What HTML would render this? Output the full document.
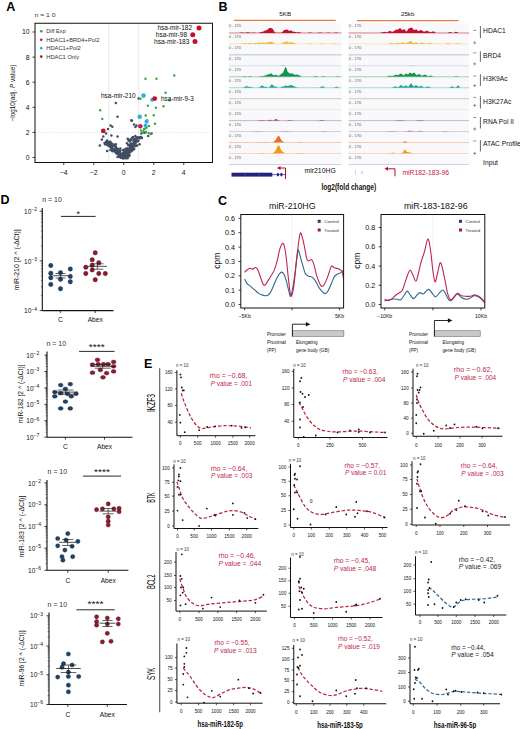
<!DOCTYPE html>
<html><head><meta charset="utf-8"><style>
html,body{margin:0;padding:0;background:#fff;}
body{width:520px;height:729px;overflow:hidden;}
svg{display:block;font-family:"Liberation Sans", sans-serif;}
</style></head><body>
<svg width="520" height="729" viewBox="0 0 520 729">
<rect width="520" height="729" fill="#fff"/>
<text x="6.30" y="10.60" font-size="12.5" text-anchor="start" fill="#000" font-weight="bold" >A</text>
<text x="34.60" y="17.23" font-size="6.2" text-anchor="start" fill="#333" textLength="21" lengthAdjust="spacingAndGlyphs" >n = 1 0</text>
<line x1="108.75" y1="23.25" x2="108.75" y2="162.50" stroke="#dcdcdc" stroke-width="0.6" />
<line x1="138.75" y1="23.25" x2="138.75" y2="162.50" stroke="#dcdcdc" stroke-width="0.6" />
<line x1="35.00" y1="132.40" x2="212.50" y2="132.40" stroke="#d8d8d8" stroke-width="0.6" stroke-dasharray="1.5,1.5"/>
<circle cx="115.79" cy="144.27" r="1.3" fill="#414e63" stroke="none" stroke-width="0"/>
<circle cx="118.19" cy="149.11" r="1.3" fill="#414e63" stroke="none" stroke-width="0"/>
<circle cx="112.09" cy="146.33" r="1.3" fill="#414e63" stroke="none" stroke-width="0"/>
<circle cx="116.21" cy="148.91" r="1.3" fill="#414e63" stroke="none" stroke-width="0"/>
<circle cx="112.61" cy="151.20" r="1.3" fill="#414e63" stroke="none" stroke-width="0"/>
<circle cx="99.86" cy="145.56" r="1.3" fill="#414e63" stroke="none" stroke-width="0"/>
<circle cx="123.55" cy="152.52" r="1.3" fill="#414e63" stroke="none" stroke-width="0"/>
<circle cx="119.91" cy="151.93" r="1.3" fill="#414e63" stroke="none" stroke-width="0"/>
<circle cx="107.96" cy="144.02" r="1.3" fill="#414e63" stroke="none" stroke-width="0"/>
<circle cx="106.89" cy="142.01" r="1.3" fill="#414e63" stroke="none" stroke-width="0"/>
<circle cx="123.57" cy="154.48" r="1.3" fill="#414e63" stroke="none" stroke-width="0"/>
<circle cx="109.54" cy="143.82" r="1.3" fill="#414e63" stroke="none" stroke-width="0"/>
<circle cx="109.72" cy="143.85" r="1.3" fill="#414e63" stroke="none" stroke-width="0"/>
<circle cx="119.51" cy="151.16" r="1.3" fill="#414e63" stroke="none" stroke-width="0"/>
<circle cx="118.55" cy="150.19" r="1.3" fill="#414e63" stroke="none" stroke-width="0"/>
<circle cx="111.10" cy="143.65" r="1.3" fill="#414e63" stroke="none" stroke-width="0"/>
<circle cx="115.89" cy="147.06" r="1.3" fill="#414e63" stroke="none" stroke-width="0"/>
<circle cx="116.30" cy="153.30" r="1.3" fill="#414e63" stroke="none" stroke-width="0"/>
<circle cx="117.94" cy="151.94" r="1.3" fill="#414e63" stroke="none" stroke-width="0"/>
<circle cx="115.57" cy="149.33" r="1.3" fill="#414e63" stroke="none" stroke-width="0"/>
<circle cx="106.80" cy="143.91" r="1.3" fill="#414e63" stroke="none" stroke-width="0"/>
<circle cx="106.10" cy="142.10" r="1.3" fill="#414e63" stroke="none" stroke-width="0"/>
<circle cx="123.69" cy="155.22" r="1.3" fill="#414e63" stroke="none" stroke-width="0"/>
<circle cx="114.43" cy="151.13" r="1.3" fill="#414e63" stroke="none" stroke-width="0"/>
<circle cx="110.29" cy="145.74" r="1.3" fill="#414e63" stroke="none" stroke-width="0"/>
<circle cx="107.14" cy="141.50" r="1.3" fill="#414e63" stroke="none" stroke-width="0"/>
<circle cx="112.39" cy="145.98" r="1.3" fill="#414e63" stroke="none" stroke-width="0"/>
<circle cx="113.59" cy="144.58" r="1.3" fill="#414e63" stroke="none" stroke-width="0"/>
<circle cx="116.61" cy="151.16" r="1.3" fill="#414e63" stroke="none" stroke-width="0"/>
<circle cx="121.38" cy="154.60" r="1.3" fill="#414e63" stroke="none" stroke-width="0"/>
<circle cx="104.59" cy="142.94" r="1.3" fill="#414e63" stroke="none" stroke-width="0"/>
<circle cx="107.99" cy="142.09" r="1.3" fill="#414e63" stroke="none" stroke-width="0"/>
<circle cx="111.23" cy="143.99" r="1.3" fill="#414e63" stroke="none" stroke-width="0"/>
<circle cx="107.57" cy="142.29" r="1.3" fill="#414e63" stroke="none" stroke-width="0"/>
<circle cx="123.97" cy="156.45" r="1.3" fill="#414e63" stroke="none" stroke-width="0"/>
<circle cx="117.40" cy="152.11" r="1.3" fill="#414e63" stroke="none" stroke-width="0"/>
<circle cx="119.49" cy="156.14" r="1.3" fill="#414e63" stroke="none" stroke-width="0"/>
<circle cx="112.65" cy="149.75" r="1.3" fill="#414e63" stroke="none" stroke-width="0"/>
<circle cx="111.10" cy="147.45" r="1.3" fill="#414e63" stroke="none" stroke-width="0"/>
<circle cx="107.01" cy="140.78" r="1.3" fill="#414e63" stroke="none" stroke-width="0"/>
<circle cx="118.06" cy="152.55" r="1.3" fill="#414e63" stroke="none" stroke-width="0"/>
<circle cx="123.09" cy="154.18" r="1.3" fill="#414e63" stroke="none" stroke-width="0"/>
<circle cx="116.98" cy="148.66" r="1.3" fill="#414e63" stroke="none" stroke-width="0"/>
<circle cx="115.50" cy="146.39" r="1.3" fill="#414e63" stroke="none" stroke-width="0"/>
<circle cx="107.19" cy="150.95" r="1.3" fill="#414e63" stroke="none" stroke-width="0"/>
<circle cx="109.50" cy="146.21" r="1.3" fill="#414e63" stroke="none" stroke-width="0"/>
<circle cx="110.17" cy="146.85" r="1.3" fill="#414e63" stroke="none" stroke-width="0"/>
<circle cx="117.31" cy="152.04" r="1.3" fill="#414e63" stroke="none" stroke-width="0"/>
<circle cx="107.63" cy="145.20" r="1.3" fill="#414e63" stroke="none" stroke-width="0"/>
<circle cx="111.92" cy="147.93" r="1.3" fill="#414e63" stroke="none" stroke-width="0"/>
<circle cx="123.22" cy="158.30" r="1.3" fill="#414e63" stroke="none" stroke-width="0"/>
<circle cx="105.16" cy="144.36" r="1.3" fill="#414e63" stroke="none" stroke-width="0"/>
<circle cx="119.11" cy="154.79" r="1.3" fill="#414e63" stroke="none" stroke-width="0"/>
<circle cx="113.64" cy="145.87" r="1.3" fill="#414e63" stroke="none" stroke-width="0"/>
<circle cx="101.89" cy="139.47" r="1.3" fill="#414e63" stroke="none" stroke-width="0"/>
<circle cx="124.11" cy="153.18" r="1.3" fill="#414e63" stroke="none" stroke-width="0"/>
<circle cx="120.77" cy="155.68" r="1.3" fill="#414e63" stroke="none" stroke-width="0"/>
<circle cx="117.11" cy="150.17" r="1.3" fill="#414e63" stroke="none" stroke-width="0"/>
<circle cx="108.87" cy="144.50" r="1.3" fill="#414e63" stroke="none" stroke-width="0"/>
<circle cx="114.65" cy="149.67" r="1.3" fill="#414e63" stroke="none" stroke-width="0"/>
<circle cx="116.96" cy="153.56" r="1.3" fill="#414e63" stroke="none" stroke-width="0"/>
<circle cx="111.66" cy="143.66" r="1.3" fill="#414e63" stroke="none" stroke-width="0"/>
<circle cx="123.73" cy="155.30" r="1.3" fill="#414e63" stroke="none" stroke-width="0"/>
<circle cx="110.48" cy="144.39" r="1.3" fill="#414e63" stroke="none" stroke-width="0"/>
<circle cx="110.15" cy="146.50" r="1.3" fill="#414e63" stroke="none" stroke-width="0"/>
<circle cx="115.73" cy="150.61" r="1.3" fill="#414e63" stroke="none" stroke-width="0"/>
<circle cx="114.16" cy="149.29" r="1.3" fill="#414e63" stroke="none" stroke-width="0"/>
<circle cx="117.97" cy="150.98" r="1.3" fill="#414e63" stroke="none" stroke-width="0"/>
<circle cx="118.74" cy="153.88" r="1.3" fill="#414e63" stroke="none" stroke-width="0"/>
<circle cx="107.07" cy="140.81" r="1.3" fill="#414e63" stroke="none" stroke-width="0"/>
<circle cx="115.74" cy="152.30" r="1.3" fill="#414e63" stroke="none" stroke-width="0"/>
<circle cx="112.90" cy="149.67" r="1.3" fill="#414e63" stroke="none" stroke-width="0"/>
<circle cx="119.50" cy="153.49" r="1.3" fill="#414e63" stroke="none" stroke-width="0"/>
<circle cx="112.16" cy="150.53" r="1.3" fill="#414e63" stroke="none" stroke-width="0"/>
<circle cx="110.73" cy="142.64" r="1.3" fill="#414e63" stroke="none" stroke-width="0"/>
<circle cx="114.10" cy="148.92" r="1.3" fill="#414e63" stroke="none" stroke-width="0"/>
<circle cx="107.99" cy="145.10" r="1.3" fill="#414e63" stroke="none" stroke-width="0"/>
<circle cx="110.18" cy="141.88" r="1.3" fill="#414e63" stroke="none" stroke-width="0"/>
<circle cx="117.98" cy="152.82" r="1.3" fill="#414e63" stroke="none" stroke-width="0"/>
<circle cx="120.59" cy="153.24" r="1.3" fill="#414e63" stroke="none" stroke-width="0"/>
<circle cx="110.47" cy="149.93" r="1.3" fill="#414e63" stroke="none" stroke-width="0"/>
<circle cx="118.50" cy="153.46" r="1.3" fill="#414e63" stroke="none" stroke-width="0"/>
<circle cx="120.70" cy="157.62" r="1.3" fill="#414e63" stroke="none" stroke-width="0"/>
<circle cx="120.35" cy="150.50" r="1.3" fill="#414e63" stroke="none" stroke-width="0"/>
<circle cx="120.31" cy="148.57" r="1.3" fill="#414e63" stroke="none" stroke-width="0"/>
<circle cx="132.15" cy="146.13" r="1.3" fill="#414e63" stroke="none" stroke-width="0"/>
<circle cx="138.57" cy="137.78" r="1.3" fill="#414e63" stroke="none" stroke-width="0"/>
<circle cx="135.06" cy="139.05" r="1.3" fill="#414e63" stroke="none" stroke-width="0"/>
<circle cx="130.33" cy="149.23" r="1.3" fill="#414e63" stroke="none" stroke-width="0"/>
<circle cx="130.29" cy="147.77" r="1.3" fill="#414e63" stroke="none" stroke-width="0"/>
<circle cx="131.45" cy="147.05" r="1.3" fill="#414e63" stroke="none" stroke-width="0"/>
<circle cx="131.87" cy="150.07" r="1.3" fill="#414e63" stroke="none" stroke-width="0"/>
<circle cx="124.55" cy="153.46" r="1.3" fill="#414e63" stroke="none" stroke-width="0"/>
<circle cx="130.14" cy="148.84" r="1.3" fill="#414e63" stroke="none" stroke-width="0"/>
<circle cx="141.09" cy="136.94" r="1.3" fill="#414e63" stroke="none" stroke-width="0"/>
<circle cx="128.13" cy="153.43" r="1.3" fill="#414e63" stroke="none" stroke-width="0"/>
<circle cx="137.88" cy="137.90" r="1.3" fill="#414e63" stroke="none" stroke-width="0"/>
<circle cx="130.43" cy="144.44" r="1.3" fill="#414e63" stroke="none" stroke-width="0"/>
<circle cx="126.76" cy="149.03" r="1.3" fill="#414e63" stroke="none" stroke-width="0"/>
<circle cx="132.57" cy="137.34" r="1.3" fill="#414e63" stroke="none" stroke-width="0"/>
<circle cx="137.06" cy="145.54" r="1.3" fill="#414e63" stroke="none" stroke-width="0"/>
<circle cx="134.81" cy="142.25" r="1.3" fill="#414e63" stroke="none" stroke-width="0"/>
<circle cx="133.47" cy="143.81" r="1.3" fill="#414e63" stroke="none" stroke-width="0"/>
<circle cx="132.71" cy="149.95" r="1.3" fill="#414e63" stroke="none" stroke-width="0"/>
<circle cx="131.61" cy="138.80" r="1.3" fill="#414e63" stroke="none" stroke-width="0"/>
<circle cx="132.90" cy="147.37" r="1.3" fill="#414e63" stroke="none" stroke-width="0"/>
<circle cx="136.90" cy="137.18" r="1.3" fill="#414e63" stroke="none" stroke-width="0"/>
<circle cx="131.50" cy="147.63" r="1.3" fill="#414e63" stroke="none" stroke-width="0"/>
<circle cx="126.44" cy="157.31" r="1.3" fill="#414e63" stroke="none" stroke-width="0"/>
<circle cx="125.17" cy="157.03" r="1.3" fill="#414e63" stroke="none" stroke-width="0"/>
<circle cx="127.41" cy="152.38" r="1.3" fill="#414e63" stroke="none" stroke-width="0"/>
<circle cx="124.72" cy="149.47" r="1.3" fill="#414e63" stroke="none" stroke-width="0"/>
<circle cx="122.99" cy="155.57" r="1.3" fill="#414e63" stroke="none" stroke-width="0"/>
<circle cx="135.29" cy="136.17" r="1.3" fill="#414e63" stroke="none" stroke-width="0"/>
<circle cx="138.37" cy="140.83" r="1.3" fill="#414e63" stroke="none" stroke-width="0"/>
<circle cx="136.74" cy="141.54" r="1.3" fill="#414e63" stroke="none" stroke-width="0"/>
<circle cx="128.81" cy="148.85" r="1.3" fill="#414e63" stroke="none" stroke-width="0"/>
<circle cx="131.45" cy="145.86" r="1.3" fill="#414e63" stroke="none" stroke-width="0"/>
<circle cx="137.79" cy="141.09" r="1.3" fill="#414e63" stroke="none" stroke-width="0"/>
<circle cx="124.74" cy="154.89" r="1.3" fill="#414e63" stroke="none" stroke-width="0"/>
<circle cx="139.94" cy="137.24" r="1.3" fill="#414e63" stroke="none" stroke-width="0"/>
<circle cx="126.16" cy="153.13" r="1.3" fill="#414e63" stroke="none" stroke-width="0"/>
<circle cx="127.63" cy="151.61" r="1.3" fill="#414e63" stroke="none" stroke-width="0"/>
<circle cx="134.41" cy="144.13" r="1.3" fill="#414e63" stroke="none" stroke-width="0"/>
<circle cx="127.92" cy="155.37" r="1.3" fill="#414e63" stroke="none" stroke-width="0"/>
<circle cx="127.63" cy="148.50" r="1.3" fill="#414e63" stroke="none" stroke-width="0"/>
<circle cx="130.12" cy="149.32" r="1.3" fill="#414e63" stroke="none" stroke-width="0"/>
<circle cx="121.33" cy="157.77" r="1.3" fill="#414e63" stroke="none" stroke-width="0"/>
<circle cx="130.28" cy="146.79" r="1.3" fill="#414e63" stroke="none" stroke-width="0"/>
<circle cx="135.30" cy="139.91" r="1.3" fill="#414e63" stroke="none" stroke-width="0"/>
<circle cx="130.96" cy="146.78" r="1.3" fill="#414e63" stroke="none" stroke-width="0"/>
<circle cx="129.98" cy="139.85" r="1.3" fill="#414e63" stroke="none" stroke-width="0"/>
<circle cx="136.81" cy="141.24" r="1.3" fill="#414e63" stroke="none" stroke-width="0"/>
<circle cx="127.42" cy="158.30" r="1.3" fill="#414e63" stroke="none" stroke-width="0"/>
<circle cx="132.79" cy="145.73" r="1.3" fill="#414e63" stroke="none" stroke-width="0"/>
<circle cx="134.21" cy="149.08" r="1.3" fill="#414e63" stroke="none" stroke-width="0"/>
<circle cx="132.51" cy="148.94" r="1.3" fill="#414e63" stroke="none" stroke-width="0"/>
<circle cx="130.31" cy="146.11" r="1.3" fill="#414e63" stroke="none" stroke-width="0"/>
<circle cx="125.73" cy="151.20" r="1.3" fill="#414e63" stroke="none" stroke-width="0"/>
<circle cx="126.13" cy="150.07" r="1.3" fill="#414e63" stroke="none" stroke-width="0"/>
<circle cx="133.05" cy="137.52" r="1.3" fill="#414e63" stroke="none" stroke-width="0"/>
<circle cx="134.97" cy="140.80" r="1.3" fill="#414e63" stroke="none" stroke-width="0"/>
<circle cx="126.10" cy="151.72" r="1.3" fill="#414e63" stroke="none" stroke-width="0"/>
<circle cx="131.78" cy="144.75" r="1.3" fill="#414e63" stroke="none" stroke-width="0"/>
<circle cx="127.58" cy="152.22" r="1.3" fill="#414e63" stroke="none" stroke-width="0"/>
<circle cx="125.16" cy="158.30" r="1.3" fill="#414e63" stroke="none" stroke-width="0"/>
<circle cx="134.30" cy="139.61" r="1.3" fill="#414e63" stroke="none" stroke-width="0"/>
<circle cx="132.38" cy="144.44" r="1.3" fill="#414e63" stroke="none" stroke-width="0"/>
<circle cx="135.32" cy="143.15" r="1.3" fill="#414e63" stroke="none" stroke-width="0"/>
<circle cx="133.88" cy="141.43" r="1.3" fill="#414e63" stroke="none" stroke-width="0"/>
<circle cx="127.68" cy="150.35" r="1.3" fill="#414e63" stroke="none" stroke-width="0"/>
<circle cx="128.57" cy="140.59" r="1.3" fill="#414e63" stroke="none" stroke-width="0"/>
<circle cx="133.26" cy="143.90" r="1.3" fill="#414e63" stroke="none" stroke-width="0"/>
<circle cx="126.24" cy="157.90" r="1.3" fill="#414e63" stroke="none" stroke-width="0"/>
<circle cx="134.11" cy="141.30" r="1.3" fill="#414e63" stroke="none" stroke-width="0"/>
<circle cx="122.88" cy="158.30" r="1.3" fill="#414e63" stroke="none" stroke-width="0"/>
<circle cx="129.65" cy="149.01" r="1.3" fill="#414e63" stroke="none" stroke-width="0"/>
<circle cx="127.75" cy="138.76" r="1.3" fill="#414e63" stroke="none" stroke-width="0"/>
<circle cx="123.14" cy="150.01" r="1.3" fill="#414e63" stroke="none" stroke-width="0"/>
<circle cx="133.21" cy="144.67" r="1.3" fill="#414e63" stroke="none" stroke-width="0"/>
<circle cx="131.59" cy="147.27" r="1.3" fill="#414e63" stroke="none" stroke-width="0"/>
<circle cx="130.40" cy="147.08" r="1.3" fill="#414e63" stroke="none" stroke-width="0"/>
<circle cx="133.67" cy="143.28" r="1.3" fill="#414e63" stroke="none" stroke-width="0"/>
<circle cx="136.16" cy="145.74" r="1.3" fill="#414e63" stroke="none" stroke-width="0"/>
<circle cx="129.73" cy="152.43" r="1.3" fill="#414e63" stroke="none" stroke-width="0"/>
<circle cx="128.63" cy="151.95" r="1.3" fill="#414e63" stroke="none" stroke-width="0"/>
<circle cx="124.26" cy="157.10" r="1.3" fill="#414e63" stroke="none" stroke-width="0"/>
<circle cx="129.41" cy="154.95" r="1.3" fill="#414e63" stroke="none" stroke-width="0"/>
<circle cx="131.80" cy="144.07" r="1.3" fill="#414e63" stroke="none" stroke-width="0"/>
<circle cx="141.90" cy="138.07" r="1.3" fill="#414e63" stroke="none" stroke-width="0"/>
<circle cx="130.75" cy="143.54" r="1.3" fill="#414e63" stroke="none" stroke-width="0"/>
<circle cx="127.06" cy="143.22" r="1.3" fill="#414e63" stroke="none" stroke-width="0"/>
<circle cx="127.54" cy="156.75" r="1.3" fill="#414e63" stroke="none" stroke-width="0"/>
<circle cx="126.58" cy="149.38" r="1.3" fill="#414e63" stroke="none" stroke-width="0"/>
<circle cx="125.59" cy="154.96" r="1.3" fill="#414e63" stroke="none" stroke-width="0"/>
<circle cx="128.94" cy="145.20" r="1.3" fill="#414e63" stroke="none" stroke-width="0"/>
<circle cx="138.02" cy="138.06" r="1.3" fill="#414e63" stroke="none" stroke-width="0"/>
<circle cx="123.97" cy="152.19" r="1.3" fill="#414e63" stroke="none" stroke-width="0"/>
<circle cx="129.70" cy="140.77" r="1.3" fill="#414e63" stroke="none" stroke-width="0"/>
<circle cx="125.60" cy="150.94" r="1.3" fill="#414e63" stroke="none" stroke-width="0"/>
<circle cx="134.09" cy="140.37" r="1.3" fill="#414e63" stroke="none" stroke-width="0"/>
<circle cx="131.36" cy="140.05" r="1.3" fill="#414e63" stroke="none" stroke-width="0"/>
<circle cx="139.58" cy="144.30" r="1.3" fill="#414e63" stroke="none" stroke-width="0"/>
<circle cx="124.98" cy="154.39" r="1.3" fill="#414e63" stroke="none" stroke-width="0"/>
<circle cx="125.48" cy="155.02" r="1.3" fill="#414e63" stroke="none" stroke-width="0"/>
<circle cx="131.36" cy="151.14" r="1.3" fill="#414e63" stroke="none" stroke-width="0"/>
<circle cx="126.33" cy="148.51" r="1.3" fill="#414e63" stroke="none" stroke-width="0"/>
<circle cx="130.61" cy="150.97" r="1.3" fill="#414e63" stroke="none" stroke-width="0"/>
<circle cx="139.65" cy="138.34" r="1.3" fill="#414e63" stroke="none" stroke-width="0"/>
<circle cx="129.78" cy="141.34" r="1.3" fill="#414e63" stroke="none" stroke-width="0"/>
<circle cx="136.59" cy="138.95" r="1.3" fill="#414e63" stroke="none" stroke-width="0"/>
<circle cx="134.72" cy="146.31" r="1.3" fill="#414e63" stroke="none" stroke-width="0"/>
<circle cx="128.15" cy="145.10" r="1.3" fill="#414e63" stroke="none" stroke-width="0"/>
<circle cx="130.60" cy="150.21" r="1.3" fill="#414e63" stroke="none" stroke-width="0"/>
<circle cx="133.14" cy="144.81" r="1.3" fill="#414e63" stroke="none" stroke-width="0"/>
<circle cx="125.24" cy="155.20" r="1.3" fill="#414e63" stroke="none" stroke-width="0"/>
<circle cx="118.87" cy="156.63" r="1.3" fill="#414e63" stroke="none" stroke-width="0"/>
<circle cx="129.13" cy="156.12" r="1.3" fill="#414e63" stroke="none" stroke-width="0"/>
<circle cx="120.25" cy="157.00" r="1.3" fill="#414e63" stroke="none" stroke-width="0"/>
<circle cx="128.34" cy="156.10" r="1.3" fill="#414e63" stroke="none" stroke-width="0"/>
<circle cx="126.30" cy="156.35" r="1.3" fill="#414e63" stroke="none" stroke-width="0"/>
<circle cx="120.79" cy="154.88" r="1.3" fill="#414e63" stroke="none" stroke-width="0"/>
<circle cx="122.50" cy="156.71" r="1.3" fill="#414e63" stroke="none" stroke-width="0"/>
<circle cx="122.32" cy="156.76" r="1.3" fill="#414e63" stroke="none" stroke-width="0"/>
<circle cx="124.32" cy="156.90" r="1.3" fill="#414e63" stroke="none" stroke-width="0"/>
<circle cx="118.99" cy="156.04" r="1.3" fill="#414e63" stroke="none" stroke-width="0"/>
<circle cx="125.32" cy="154.92" r="1.3" fill="#414e63" stroke="none" stroke-width="0"/>
<circle cx="126.60" cy="155.62" r="1.3" fill="#414e63" stroke="none" stroke-width="0"/>
<circle cx="126.79" cy="154.10" r="1.3" fill="#414e63" stroke="none" stroke-width="0"/>
<circle cx="124.12" cy="153.37" r="1.3" fill="#414e63" stroke="none" stroke-width="0"/>
<circle cx="119.08" cy="154.50" r="1.3" fill="#414e63" stroke="none" stroke-width="0"/>
<circle cx="123.48" cy="157.41" r="1.3" fill="#414e63" stroke="none" stroke-width="0"/>
<circle cx="120.64" cy="155.38" r="1.3" fill="#414e63" stroke="none" stroke-width="0"/>
<circle cx="126.15" cy="156.34" r="1.3" fill="#414e63" stroke="none" stroke-width="0"/>
<circle cx="122.06" cy="155.16" r="1.3" fill="#414e63" stroke="none" stroke-width="0"/>
<circle cx="122.55" cy="154.14" r="1.3" fill="#414e63" stroke="none" stroke-width="0"/>
<circle cx="122.49" cy="155.79" r="1.3" fill="#414e63" stroke="none" stroke-width="0"/>
<circle cx="117.60" cy="156.90" r="1.3" fill="#414e63" stroke="none" stroke-width="0"/>
<circle cx="123.48" cy="156.48" r="1.3" fill="#414e63" stroke="none" stroke-width="0"/>
<circle cx="124.34" cy="154.86" r="1.3" fill="#414e63" stroke="none" stroke-width="0"/>
<circle cx="134.00" cy="124.60" r="1.25" fill="#414e63" stroke="none" stroke-width="0"/>
<circle cx="135.40" cy="127.00" r="1.25" fill="#414e63" stroke="none" stroke-width="0"/>
<circle cx="131.30" cy="120.30" r="1.25" fill="#414e63" stroke="none" stroke-width="0"/>
<circle cx="141.40" cy="133.40" r="1.25" fill="#414e63" stroke="none" stroke-width="0"/>
<circle cx="144.80" cy="132.70" r="1.25" fill="#414e63" stroke="none" stroke-width="0"/>
<circle cx="148.20" cy="136.00" r="1.25" fill="#414e63" stroke="none" stroke-width="0"/>
<circle cx="151.50" cy="133.40" r="1.25" fill="#414e63" stroke="none" stroke-width="0"/>
<circle cx="136.50" cy="125.50" r="1.25" fill="#414e63" stroke="none" stroke-width="0"/>
<circle cx="115.80" cy="102.90" r="1.25" fill="#414e63" stroke="none" stroke-width="0"/>
<circle cx="138.60" cy="98.60" r="1.25" fill="#414e63" stroke="none" stroke-width="0"/>
<circle cx="117.50" cy="116.70" r="1.25" fill="#414e63" stroke="none" stroke-width="0"/>
<circle cx="131.90" cy="120.70" r="1.25" fill="#414e63" stroke="none" stroke-width="0"/>
<circle cx="110.60" cy="125.40" r="1.25" fill="#414e63" stroke="none" stroke-width="0"/>
<circle cx="112.30" cy="126.80" r="1.25" fill="#414e63" stroke="none" stroke-width="0"/>
<circle cx="103.30" cy="136.60" r="1.25" fill="#414e63" stroke="none" stroke-width="0"/>
<circle cx="111.40" cy="135.40" r="1.25" fill="#414e63" stroke="none" stroke-width="0"/>
<circle cx="117.50" cy="136.60" r="1.25" fill="#414e63" stroke="none" stroke-width="0"/>
<circle cx="108.00" cy="129.00" r="1.25" fill="#414e63" stroke="none" stroke-width="0"/>
<circle cx="106.00" cy="133.50" r="1.25" fill="#414e63" stroke="none" stroke-width="0"/>
<circle cx="145.50" cy="78.70" r="1.2" fill="#38a83a" stroke="none" stroke-width="0"/>
<circle cx="156.40" cy="78.70" r="1.2" fill="#38a83a" stroke="none" stroke-width="0"/>
<circle cx="174.30" cy="75.50" r="1.2" fill="#38a83a" stroke="none" stroke-width="0"/>
<circle cx="165.60" cy="92.80" r="1.2" fill="#38a83a" stroke="none" stroke-width="0"/>
<circle cx="169.40" cy="100.30" r="1.2" fill="#38a83a" stroke="none" stroke-width="0"/>
<circle cx="147.80" cy="105.80" r="1.2" fill="#38a83a" stroke="none" stroke-width="0"/>
<circle cx="155.90" cy="107.70" r="1.2" fill="#38a83a" stroke="none" stroke-width="0"/>
<circle cx="163.50" cy="106.30" r="1.2" fill="#38a83a" stroke="none" stroke-width="0"/>
<circle cx="145.70" cy="115.50" r="1.2" fill="#38a83a" stroke="none" stroke-width="0"/>
<circle cx="153.80" cy="115.30" r="1.2" fill="#38a83a" stroke="none" stroke-width="0"/>
<circle cx="147.00" cy="120.20" r="1.2" fill="#38a83a" stroke="none" stroke-width="0"/>
<circle cx="155.00" cy="123.70" r="1.2" fill="#38a83a" stroke="none" stroke-width="0"/>
<circle cx="100.20" cy="110.30" r="1.2" fill="#38a83a" stroke="none" stroke-width="0"/>
<circle cx="102.30" cy="119.00" r="1.2" fill="#38a83a" stroke="none" stroke-width="0"/>
<circle cx="140.50" cy="98.80" r="1.2" fill="#38a83a" stroke="none" stroke-width="0"/>
<circle cx="141.00" cy="130.50" r="1.2" fill="#38a83a" stroke="none" stroke-width="0"/>
<circle cx="143.50" cy="131.30" r="1.2" fill="#38a83a" stroke="none" stroke-width="0"/>
<circle cx="146.00" cy="132.00" r="1.2" fill="#38a83a" stroke="none" stroke-width="0"/>
<circle cx="148.50" cy="133.00" r="1.2" fill="#38a83a" stroke="none" stroke-width="0"/>
<circle cx="150.50" cy="134.00" r="1.2" fill="#38a83a" stroke="none" stroke-width="0"/>
<circle cx="144.00" cy="129.00" r="1.2" fill="#38a83a" stroke="none" stroke-width="0"/>
<circle cx="146.50" cy="127.50" r="1.2" fill="#38a83a" stroke="none" stroke-width="0"/>
<circle cx="149.00" cy="126.00" r="1.2" fill="#38a83a" stroke="none" stroke-width="0"/>
<circle cx="143.00" cy="132.80" r="1.2" fill="#38a83a" stroke="none" stroke-width="0"/>
<circle cx="145.50" cy="128.50" r="1.2" fill="#38a83a" stroke="none" stroke-width="0"/>
<circle cx="143.50" cy="95.60" r="2.3" fill="#2bb3df" stroke="none" stroke-width="0"/>
<circle cx="152.10" cy="99.80" r="2.0" fill="#2bb3df" stroke="none" stroke-width="0"/>
<circle cx="139.70" cy="116.70" r="2.3" fill="#2bb3df" stroke="none" stroke-width="0"/>
<circle cx="146.60" cy="121.60" r="2.1" fill="#2bb3df" stroke="none" stroke-width="0"/>
<circle cx="145.50" cy="125.40" r="2.0" fill="#2bb3df" stroke="none" stroke-width="0"/>
<circle cx="154.70" cy="98.60" r="2.4" fill="#c0102a" stroke="none" stroke-width="0"/>
<circle cx="103.30" cy="130.90" r="2.4" fill="#c0102a" stroke="none" stroke-width="0"/>
<circle cx="140.30" cy="126.20" r="2.2" fill="#c2185b" stroke="none" stroke-width="0"/>
<circle cx="199.00" cy="28.00" r="2.5" fill="#c0102a" stroke="none" stroke-width="0"/>
<circle cx="192.75" cy="34.75" r="2.5" fill="#c0102a" stroke="none" stroke-width="0"/>
<circle cx="195.00" cy="41.50" r="2.5" fill="#c0102a" stroke="none" stroke-width="0"/>
<text x="157.50" y="29.95" font-size="6.8" text-anchor="start" fill="#111" textLength="34.5" lengthAdjust="spacingAndGlyphs" >hsa-mir-182</text>
<text x="155.75" y="37.20" font-size="6.8" text-anchor="start" fill="#111" textLength="31.3" lengthAdjust="spacingAndGlyphs" >hsa-mir-98</text>
<text x="154.00" y="44.20" font-size="6.8" text-anchor="start" fill="#111" textLength="35.5" lengthAdjust="spacingAndGlyphs" >hsa-mir-183</text>
<text x="101.00" y="98.20" font-size="6.8" text-anchor="start" fill="#111" textLength="34.7" lengthAdjust="spacingAndGlyphs" >hsa-mir-210</text>
<text x="161.00" y="101.20" font-size="6.8" text-anchor="start" fill="#111" textLength="32.7" lengthAdjust="spacingAndGlyphs" >hsa-mir-9-3</text>
<circle cx="41.25" cy="31.25" r="1.3" fill="#38a83a" stroke="none" stroke-width="0"/>
<text x="46.25" y="33.48" font-size="6.2" text-anchor="start" fill="#333" textLength="19.5" lengthAdjust="spacingAndGlyphs" >Diff Exp</text>
<circle cx="41.25" cy="39.70" r="1.3" fill="#c2185b" stroke="none" stroke-width="0"/>
<text x="46.25" y="41.93" font-size="6.2" text-anchor="start" fill="#333" textLength="53.2" lengthAdjust="spacingAndGlyphs" >HDAC1+BRD4+Pol2</text>
<circle cx="41.25" cy="48.15" r="1.3" fill="#2bb3df" stroke="none" stroke-width="0"/>
<text x="46.25" y="50.38" font-size="6.2" text-anchor="start" fill="#333" textLength="34.5" lengthAdjust="spacingAndGlyphs" >HDAC1+Pol2</text>
<circle cx="41.25" cy="56.60" r="1.3" fill="#b0102a" stroke="none" stroke-width="0"/>
<text x="46.25" y="58.83" font-size="6.2" text-anchor="start" fill="#333" textLength="33" lengthAdjust="spacingAndGlyphs" >HDAC1 Only</text>
<rect x="35.00" y="23.25" width="177.50" height="139.25" fill="none" stroke="#111" stroke-width="1"/>
<line x1="32.50" y1="157.50" x2="35.00" y2="157.50" stroke="#111" stroke-width="0.8" />
<text x="29.50" y="159.95" font-size="6.8" text-anchor="end" fill="#111" >0</text>
<line x1="32.50" y1="132.40" x2="35.00" y2="132.40" stroke="#111" stroke-width="0.8" />
<text x="29.50" y="134.85" font-size="6.8" text-anchor="end" fill="#111" >2</text>
<line x1="32.50" y1="107.30" x2="35.00" y2="107.30" stroke="#111" stroke-width="0.8" />
<text x="29.50" y="109.75" font-size="6.8" text-anchor="end" fill="#111" >4</text>
<line x1="32.50" y1="82.20" x2="35.00" y2="82.20" stroke="#111" stroke-width="0.8" />
<text x="29.50" y="84.65" font-size="6.8" text-anchor="end" fill="#111" >6</text>
<line x1="32.50" y1="57.10" x2="35.00" y2="57.10" stroke="#111" stroke-width="0.8" />
<text x="29.50" y="59.55" font-size="6.8" text-anchor="end" fill="#111" >8</text>
<line x1="32.50" y1="32.00" x2="35.00" y2="32.00" stroke="#111" stroke-width="0.8" />
<text x="29.50" y="34.45" font-size="6.8" text-anchor="end" fill="#111" >10</text>
<line x1="63.75" y1="162.50" x2="63.75" y2="165.00" stroke="#111" stroke-width="0.8" />
<text x="63.75" y="174.95" font-size="6.8" text-anchor="middle" fill="#111" >−4</text>
<line x1="93.75" y1="162.50" x2="93.75" y2="165.00" stroke="#111" stroke-width="0.8" />
<text x="93.75" y="174.95" font-size="6.8" text-anchor="middle" fill="#111" >−2</text>
<line x1="123.75" y1="162.50" x2="123.75" y2="165.00" stroke="#111" stroke-width="0.8" />
<text x="123.75" y="174.95" font-size="6.8" text-anchor="middle" fill="#111" >0</text>
<line x1="153.75" y1="162.50" x2="153.75" y2="165.00" stroke="#111" stroke-width="0.8" />
<text x="153.75" y="174.95" font-size="6.8" text-anchor="middle" fill="#111" >2</text>
<line x1="183.75" y1="162.50" x2="183.75" y2="165.00" stroke="#111" stroke-width="0.8" />
<text x="183.75" y="174.95" font-size="6.8" text-anchor="middle" fill="#111" >4</text>
<text x="12.50" y="95.59" font-size="7.2" text-anchor="middle" fill="#111" textLength="57" lengthAdjust="spacingAndGlyphs" transform="rotate(-90 12.50 93.00)" >−log10(adj. <tspan font-style="italic">P</tspan> value)</text>
<text x="218.60" y="10.80" font-size="12.5" text-anchor="start" fill="#000" font-weight="bold" >B</text>
<text x="285.20" y="15.98" font-size="6.2" text-anchor="middle" fill="#111" >5KB</text>
<text x="407.70" y="15.98" font-size="6.2" text-anchor="middle" fill="#111" >25kb</text>
<line x1="234.00" y1="20.40" x2="335.75" y2="20.40" stroke="#ec7a45" stroke-width="1.3" />
<line x1="357.00" y1="20.60" x2="458.50" y2="20.60" stroke="#ec7a45" stroke-width="1.3" />
<rect x="229.00" y="23.00" width="112.50" height="10.00" fill="#f9f9fc" stroke="none" stroke-width="0"/>
<rect x="348.50" y="23.00" width="120.50" height="10.00" fill="#f9f9fc" stroke="none" stroke-width="0"/>
<rect x="229.00" y="33.96" width="112.50" height="10.00" fill="#f9f9fc" stroke="none" stroke-width="0"/>
<rect x="348.50" y="33.96" width="120.50" height="10.00" fill="#f9f9fc" stroke="none" stroke-width="0"/>
<rect x="229.00" y="44.92" width="112.50" height="10.00" fill="#f9f9fc" stroke="none" stroke-width="0"/>
<rect x="348.50" y="44.92" width="120.50" height="10.00" fill="#f9f9fc" stroke="none" stroke-width="0"/>
<rect x="229.00" y="55.88" width="112.50" height="10.00" fill="#f9f9fc" stroke="none" stroke-width="0"/>
<rect x="348.50" y="55.88" width="120.50" height="10.00" fill="#f9f9fc" stroke="none" stroke-width="0"/>
<rect x="229.00" y="66.84" width="112.50" height="10.00" fill="#f9f9fc" stroke="none" stroke-width="0"/>
<rect x="348.50" y="66.84" width="120.50" height="10.00" fill="#f9f9fc" stroke="none" stroke-width="0"/>
<rect x="229.00" y="77.80" width="112.50" height="10.00" fill="#f9f9fc" stroke="none" stroke-width="0"/>
<rect x="348.50" y="77.80" width="120.50" height="10.00" fill="#f9f9fc" stroke="none" stroke-width="0"/>
<rect x="229.00" y="88.76" width="112.50" height="10.00" fill="#f9f9fc" stroke="none" stroke-width="0"/>
<rect x="348.50" y="88.76" width="120.50" height="10.00" fill="#f9f9fc" stroke="none" stroke-width="0"/>
<rect x="229.00" y="99.72" width="112.50" height="10.00" fill="#f9f9fc" stroke="none" stroke-width="0"/>
<rect x="348.50" y="99.72" width="120.50" height="10.00" fill="#f9f9fc" stroke="none" stroke-width="0"/>
<rect x="229.00" y="110.68" width="112.50" height="10.00" fill="#f9f9fc" stroke="none" stroke-width="0"/>
<rect x="348.50" y="110.68" width="120.50" height="10.00" fill="#f9f9fc" stroke="none" stroke-width="0"/>
<rect x="229.00" y="121.64" width="112.50" height="10.00" fill="#f9f9fc" stroke="none" stroke-width="0"/>
<rect x="348.50" y="121.64" width="120.50" height="10.00" fill="#f9f9fc" stroke="none" stroke-width="0"/>
<rect x="229.00" y="132.60" width="112.50" height="10.00" fill="#f9f9fc" stroke="none" stroke-width="0"/>
<rect x="348.50" y="132.60" width="120.50" height="10.00" fill="#f9f9fc" stroke="none" stroke-width="0"/>
<rect x="229.00" y="143.56" width="112.50" height="10.00" fill="#f9f9fc" stroke="none" stroke-width="0"/>
<rect x="348.50" y="143.56" width="120.50" height="10.00" fill="#f9f9fc" stroke="none" stroke-width="0"/>
<rect x="229.00" y="154.52" width="112.50" height="10.00" fill="#f9f9fc" stroke="none" stroke-width="0"/>
<rect x="348.50" y="154.52" width="120.50" height="10.00" fill="#f9f9fc" stroke="none" stroke-width="0"/>
<path d="M229.00,33.00 L229.00,33.00 L229.50,33.00 L230.00,33.00 L230.50,33.00 L231.00,33.00 L231.50,33.00 L232.00,33.00 L232.50,33.00 L233.00,33.00 L233.50,33.00 L234.00,33.00 L234.50,33.00 L235.00,33.00 L235.50,33.00 L236.00,33.00 L236.50,33.00 L237.00,33.00 L237.50,33.00 L238.00,32.99 L238.50,32.98 L239.00,32.95 L239.50,32.90 L240.00,32.85 L240.50,32.69 L241.00,32.58 L241.50,32.54 L242.00,32.57 L242.50,32.46 L243.00,32.55 L243.50,32.70 L244.00,32.79 L244.50,32.86 L245.00,32.86 L245.50,32.75 L246.00,32.59 L246.50,32.56 L247.00,32.19 L247.50,32.31 L248.00,32.32 L248.50,32.47 L249.00,32.34 L249.50,32.60 L250.00,32.74 L250.50,32.86 L251.00,32.89 L251.50,32.87 L252.00,32.80 L252.50,32.78 L253.00,32.64 L253.50,32.53 L254.00,32.60 L254.50,32.42 L255.00,32.64 L255.50,32.76 L256.00,32.78 L256.50,32.89 L257.00,32.93 L257.50,32.93 L258.00,32.90 L258.50,32.86 L259.00,32.65 L259.50,32.57 L260.00,32.35 L260.50,32.23 L261.00,31.97 L261.50,31.97 L262.00,31.95 L262.50,31.47 L263.00,31.73 L263.50,31.34 L264.00,31.44 L264.50,30.81 L265.00,30.59 L265.50,30.43 L266.00,30.24 L266.50,30.14 L267.00,29.81 L267.50,29.77 L268.00,29.19 L268.50,28.60 L269.00,28.55 L269.50,27.92 L270.00,27.78 L270.50,28.00 L271.00,28.10 L271.50,28.21 L272.00,28.44 L272.50,28.46 L273.00,29.33 L273.50,30.35 L274.00,31.27 L274.50,31.77 L275.00,32.27 L275.50,32.67 L276.00,32.75 L276.50,32.74 L277.00,32.69 L277.50,32.75 L278.00,32.68 L278.50,32.70 L279.00,32.71 L279.50,32.80 L280.00,32.82 L280.50,32.81 L281.00,32.67 L281.50,32.58 L282.00,32.15 L282.50,31.75 L283.00,31.21 L283.50,30.65 L284.00,29.90 L284.50,29.78 L285.00,29.97 L285.50,29.78 L286.00,29.66 L286.50,29.40 L287.00,29.36 L287.50,29.86 L288.00,29.98 L288.50,30.42 L289.00,30.86 L289.50,30.71 L290.00,30.72 L290.50,30.56 L291.00,30.55 L291.50,30.39 L292.00,31.09 L292.50,31.54 L293.00,31.49 L293.50,31.65 L294.00,31.81 L294.50,31.58 L295.00,31.96 L295.50,31.94 L296.00,32.08 L296.50,32.18 L297.00,32.39 L297.50,32.44 L298.00,32.31 L298.50,32.03 L299.00,31.98 L299.50,32.15 L300.00,32.38 L300.50,32.60 L301.00,32.64 L301.50,32.83 L302.00,32.92 L302.50,32.96 L303.00,32.99 L303.50,32.99 L304.00,33.00 L304.50,33.00 L305.00,33.00 L305.50,33.00 L306.00,32.99 L306.50,32.98 L307.00,32.95 L307.50,32.90 L308.00,32.80 L308.50,32.78 L309.00,32.67 L309.50,32.45 L310.00,32.43 L310.50,32.44 L311.00,32.59 L311.50,32.73 L312.00,32.81 L312.50,32.90 L313.00,32.95 L313.50,32.98 L314.00,32.99 L314.50,32.99 L315.00,32.99 L315.50,32.98 L316.00,32.96 L316.50,32.93 L317.00,32.88 L317.50,32.78 L318.00,32.76 L318.50,32.65 L319.00,32.62 L319.50,32.46 L320.00,32.62 L320.50,32.48 L321.00,32.48 L321.50,32.73 L322.00,32.72 L322.50,32.80 L323.00,32.88 L323.50,32.93 L324.00,32.95 L324.50,32.96 L325.00,32.95 L325.50,32.91 L326.00,32.85 L326.50,32.73 L327.00,32.68 L327.50,32.67 L328.00,32.62 L328.50,32.54 L329.00,32.63 L329.50,32.81 L330.00,32.85 L330.50,32.92 L331.00,32.96 L331.50,32.98 L332.00,32.98 L332.50,32.97 L333.00,32.95 L333.50,32.89 L334.00,32.85 L334.50,32.77 L335.00,32.70 L335.50,32.54 L336.00,32.59 L336.50,32.44 L337.00,32.58 L337.50,32.77 L338.00,32.81 L338.50,32.90 L339.00,32.95 L339.50,32.98 L340.00,32.99 L340.50,33.00 L341.00,33.00 L341.50,33.00 L341.50,33.00 Z" stroke="none" fill="#c0102c" stroke-width="1" fill-opacity="1.0"/>
<line x1="229.00" y1="33.00" x2="341.50" y2="33.00" stroke="#b8203a" stroke-width="0.6" />
<path d="M348.50,33.00 L348.50,33.00 L349.00,33.00 L349.50,33.00 L350.00,33.00 L350.50,33.00 L351.00,33.00 L351.50,33.00 L352.00,33.00 L352.50,33.00 L353.00,33.00 L353.50,33.00 L354.00,33.00 L354.50,33.00 L355.00,33.00 L355.50,33.00 L356.00,33.00 L356.50,33.00 L357.00,33.00 L357.50,33.00 L358.00,33.00 L358.50,33.00 L359.00,33.00 L359.50,33.00 L360.00,33.00 L360.50,33.00 L361.00,33.00 L361.50,33.00 L362.00,33.00 L362.50,33.00 L363.00,33.00 L363.50,33.00 L364.00,33.00 L364.50,33.00 L365.00,33.00 L365.50,33.00 L366.00,33.00 L366.50,33.00 L367.00,33.00 L367.50,33.00 L368.00,33.00 L368.50,33.00 L369.00,33.00 L369.50,33.00 L370.00,33.00 L370.50,33.00 L371.00,33.00 L371.50,33.00 L372.00,33.00 L372.50,33.00 L373.00,33.00 L373.50,33.00 L374.00,33.00 L374.50,33.00 L375.00,33.00 L375.50,33.00 L376.00,33.00 L376.50,33.00 L377.00,33.00 L377.50,32.99 L378.00,32.98 L378.50,32.96 L379.00,32.93 L379.50,32.89 L380.00,32.83 L380.50,32.72 L381.00,32.66 L381.50,32.55 L382.00,32.42 L382.50,32.21 L383.00,31.93 L383.50,31.92 L384.00,32.14 L384.50,31.83 L385.00,31.81 L385.50,31.95 L386.00,32.03 L386.50,32.38 L387.00,32.14 L387.50,32.20 L388.00,31.62 L388.50,31.64 L389.00,31.10 L389.50,31.14 L390.00,30.85 L390.50,31.11 L391.00,31.44 L391.50,31.51 L392.00,31.78 L392.50,31.60 L393.00,31.85 L393.50,31.52 L394.00,31.11 L394.50,30.43 L395.00,30.39 L395.50,29.79 L396.00,29.67 L396.50,29.55 L397.00,29.52 L397.50,29.87 L398.00,29.50 L398.50,29.18 L399.00,28.62 L399.50,28.43 L400.00,27.93 L400.50,28.15 L401.00,29.04 L401.50,29.66 L402.00,29.66 L402.50,30.08 L403.00,29.78 L403.50,29.45 L404.00,28.97 L404.50,29.26 L405.00,29.99 L405.50,30.58 L406.00,31.39 L406.50,31.23 L407.00,31.03 L407.50,30.32 L408.00,29.54 L408.50,28.75 L409.00,28.31 L409.50,28.17 L410.00,27.93 L410.50,27.97 L411.00,27.62 L411.50,27.47 L412.00,27.64 L412.50,28.22 L413.00,29.00 L413.50,29.60 L414.00,29.97 L414.50,29.94 L415.00,29.53 L415.50,29.67 L416.00,29.36 L416.50,29.56 L417.00,29.92 L417.50,30.38 L418.00,30.86 L418.50,31.11 L419.00,30.93 L419.50,30.68 L420.00,30.22 L420.50,30.02 L421.00,29.92 L421.50,30.25 L422.00,30.22 L422.50,30.89 L423.00,31.19 L423.50,31.40 L424.00,31.49 L424.50,31.44 L425.00,31.74 L425.50,31.28 L426.00,30.97 L426.50,30.70 L427.00,30.74 L427.50,30.63 L428.00,31.14 L428.50,31.39 L429.00,31.47 L429.50,31.91 L430.00,32.27 L430.50,32.45 L431.00,32.04 L431.50,31.88 L432.00,31.84 L432.50,31.54 L433.00,31.30 L433.50,31.38 L434.00,31.86 L434.50,31.87 L435.00,32.46 L435.50,32.70 L436.00,32.80 L436.50,32.92 L437.00,32.97 L437.50,32.99 L438.00,33.00 L438.50,33.00 L439.00,33.00 L439.50,33.00 L440.00,33.00 L440.50,33.00 L441.00,33.00 L441.50,33.00 L442.00,33.00 L442.50,33.00 L443.00,33.00 L443.50,33.00 L444.00,33.00 L444.50,33.00 L445.00,33.00 L445.50,33.00 L446.00,33.00 L446.50,33.00 L447.00,32.98 L447.50,32.93 L448.00,32.85 L448.50,32.57 L449.00,32.41 L449.50,31.99 L450.00,32.03 L450.50,32.09 L451.00,32.15 L451.50,32.61 L452.00,32.82 L452.50,32.93 L453.00,32.96 L453.50,32.91 L454.00,32.76 L454.50,32.56 L455.00,32.28 L455.50,31.85 L456.00,31.76 L456.50,31.95 L457.00,31.93 L457.50,32.62 L458.00,32.74 L458.50,32.92 L459.00,32.98 L459.50,32.99 L460.00,33.00 L460.50,33.00 L461.00,33.00 L461.50,33.00 L462.00,33.00 L462.50,33.00 L463.00,33.00 L463.50,33.00 L464.00,33.00 L464.50,33.00 L465.00,33.00 L465.50,33.00 L466.00,33.00 L466.50,33.00 L467.00,33.00 L467.50,33.00 L468.00,33.00 L468.50,33.00 L469.00,33.00 L469.00,33.00 Z" stroke="none" fill="#c0102c" stroke-width="1" fill-opacity="1.0"/>
<line x1="348.50" y1="33.00" x2="469.00" y2="33.00" stroke="#b8203a" stroke-width="0.6" />
<text x="228.70" y="27.21" font-size="4.2" text-anchor="start" fill="#555" textLength="12.3" lengthAdjust="spacingAndGlyphs" >0 - 170</text>
<text x="348.80" y="27.21" font-size="4.2" text-anchor="start" fill="#555" textLength="12.3" lengthAdjust="spacingAndGlyphs" >0 - 170</text>
<path d="M229.00,43.96 L229.00,43.96 L229.50,43.96 L230.00,43.96 L230.50,43.96 L231.00,43.96 L231.50,43.96 L232.00,43.96 L232.50,43.96 L233.00,43.96 L233.50,43.96 L234.00,43.96 L234.50,43.96 L235.00,43.96 L235.50,43.96 L236.00,43.96 L236.50,43.96 L237.00,43.96 L237.50,43.96 L238.00,43.96 L238.50,43.96 L239.00,43.96 L239.50,43.96 L240.00,43.96 L240.50,43.95 L241.00,43.94 L241.50,43.92 L242.00,43.87 L242.50,43.73 L243.00,43.60 L243.50,43.57 L244.00,43.26 L244.50,43.31 L245.00,43.01 L245.50,43.02 L246.00,43.33 L246.50,43.54 L247.00,43.51 L247.50,43.64 L248.00,43.54 L248.50,43.36 L249.00,43.01 L249.50,43.08 L250.00,43.14 L250.50,42.88 L251.00,43.04 L251.50,43.34 L252.00,43.61 L252.50,43.64 L253.00,43.58 L253.50,43.44 L254.00,43.40 L254.50,43.08 L255.00,42.99 L255.50,42.96 L256.00,43.03 L256.50,43.38 L257.00,43.08 L257.50,43.15 L258.00,42.50 L258.50,42.38 L259.00,42.29 L259.50,42.64 L260.00,42.86 L260.50,42.65 L261.00,42.84 L261.50,42.79 L262.00,42.72 L262.50,42.41 L263.00,42.58 L263.50,42.67 L264.00,42.76 L264.50,42.91 L265.00,42.75 L265.50,42.50 L266.00,42.69 L266.50,42.47 L267.00,42.13 L267.50,42.03 L268.00,42.33 L268.50,42.30 L269.00,42.30 L269.50,42.12 L270.00,41.69 L270.50,41.52 L271.00,41.58 L271.50,41.97 L272.00,42.13 L272.50,41.86 L273.00,42.28 L273.50,42.70 L274.00,43.00 L274.50,43.42 L275.00,43.74 L275.50,43.88 L276.00,43.94 L276.50,43.95 L277.00,43.96 L277.50,43.96 L278.00,43.96 L278.50,43.96 L279.00,43.96 L279.50,43.95 L280.00,43.93 L280.50,43.89 L281.00,43.83 L281.50,43.57 L282.00,43.45 L282.50,43.25 L283.00,42.75 L283.50,42.35 L284.00,42.09 L284.50,42.20 L285.00,41.87 L285.50,41.91 L286.00,41.98 L286.50,41.56 L287.00,41.61 L287.50,41.73 L288.00,42.11 L288.50,42.62 L289.00,42.49 L289.50,42.42 L290.00,42.47 L290.50,42.12 L291.00,42.00 L291.50,42.33 L292.00,42.19 L292.50,42.37 L293.00,42.60 L293.50,43.12 L294.00,43.06 L294.50,43.09 L295.00,43.27 L295.50,43.43 L296.00,43.64 L296.50,43.82 L297.00,43.88 L297.50,43.92 L298.00,43.95 L298.50,43.95 L299.00,43.96 L299.50,43.96 L300.00,43.96 L300.50,43.96 L301.00,43.96 L301.50,43.96 L302.00,43.96 L302.50,43.96 L303.00,43.96 L303.50,43.96 L304.00,43.96 L304.50,43.96 L305.00,43.96 L305.50,43.96 L306.00,43.95 L306.50,43.94 L307.00,43.92 L307.50,43.88 L308.00,43.81 L308.50,43.68 L309.00,43.64 L309.50,43.51 L310.00,43.62 L310.50,43.49 L311.00,43.64 L311.50,43.70 L312.00,43.81 L312.50,43.88 L313.00,43.92 L313.50,43.94 L314.00,43.95 L314.50,43.96 L315.00,43.96 L315.50,43.96 L316.00,43.96 L316.50,43.96 L317.00,43.96 L317.50,43.96 L318.00,43.95 L318.50,43.94 L319.00,43.92 L319.50,43.88 L320.00,43.81 L320.50,43.70 L321.00,43.59 L321.50,43.61 L322.00,43.64 L322.50,43.60 L323.00,43.70 L323.50,43.73 L324.00,43.81 L324.50,43.88 L325.00,43.92 L325.50,43.94 L326.00,43.95 L326.50,43.96 L327.00,43.96 L327.50,43.96 L328.00,43.96 L328.50,43.96 L329.00,43.96 L329.50,43.96 L330.00,43.95 L330.50,43.94 L331.00,43.92 L331.50,43.88 L332.00,43.81 L332.50,43.70 L333.00,43.67 L333.50,43.65 L334.00,43.65 L334.50,43.60 L335.00,43.64 L335.50,43.79 L336.00,43.81 L336.50,43.88 L337.00,43.92 L337.50,43.94 L338.00,43.95 L338.50,43.96 L339.00,43.96 L339.50,43.96 L340.00,43.96 L340.50,43.96 L341.00,43.96 L341.50,43.96 L341.50,43.96 Z" stroke="none" fill="#ebbd35" stroke-width="1" fill-opacity="1.0"/>
<line x1="229.00" y1="43.96" x2="341.50" y2="43.96" stroke="#ecd080" stroke-width="0.6" />
<path d="M348.50,43.96 L348.50,43.96 L349.00,43.96 L349.50,43.96 L350.00,43.96 L350.50,43.96 L351.00,43.96 L351.50,43.96 L352.00,43.96 L352.50,43.96 L353.00,43.96 L353.50,43.96 L354.00,43.96 L354.50,43.96 L355.00,43.96 L355.50,43.96 L356.00,43.96 L356.50,43.96 L357.00,43.96 L357.50,43.96 L358.00,43.96 L358.50,43.96 L359.00,43.96 L359.50,43.96 L360.00,43.96 L360.50,43.96 L361.00,43.96 L361.50,43.96 L362.00,43.96 L362.50,43.96 L363.00,43.96 L363.50,43.96 L364.00,43.96 L364.50,43.96 L365.00,43.96 L365.50,43.96 L366.00,43.96 L366.50,43.96 L367.00,43.96 L367.50,43.96 L368.00,43.96 L368.50,43.96 L369.00,43.96 L369.50,43.96 L370.00,43.96 L370.50,43.96 L371.00,43.96 L371.50,43.96 L372.00,43.96 L372.50,43.96 L373.00,43.96 L373.50,43.96 L374.00,43.96 L374.50,43.96 L375.00,43.96 L375.50,43.96 L376.00,43.96 L376.50,43.96 L377.00,43.96 L377.50,43.96 L378.00,43.96 L378.50,43.96 L379.00,43.96 L379.50,43.96 L380.00,43.96 L380.50,43.96 L381.00,43.96 L381.50,43.96 L382.00,43.96 L382.50,43.96 L383.00,43.96 L383.50,43.96 L384.00,43.96 L384.50,43.96 L385.00,43.96 L385.50,43.96 L386.00,43.96 L386.50,43.95 L387.00,43.94 L387.50,43.92 L388.00,43.89 L388.50,43.83 L389.00,43.72 L389.50,43.66 L390.00,43.56 L390.50,43.16 L391.00,43.15 L391.50,42.87 L392.00,43.01 L392.50,43.22 L393.00,43.26 L393.50,43.32 L394.00,43.40 L394.50,43.49 L395.00,43.55 L395.50,43.51 L396.00,43.46 L396.50,43.18 L397.00,42.95 L397.50,42.69 L398.00,42.72 L398.50,42.66 L399.00,42.90 L399.50,43.31 L400.00,43.18 L400.50,43.31 L401.00,43.11 L401.50,42.86 L402.00,42.56 L402.50,42.18 L403.00,42.40 L403.50,42.48 L404.00,42.92 L404.50,42.88 L405.00,43.16 L405.50,43.25 L406.00,43.00 L406.50,43.11 L407.00,42.79 L407.50,42.25 L408.00,42.01 L408.50,42.05 L409.00,42.14 L409.50,41.75 L410.00,41.22 L410.50,41.12 L411.00,41.11 L411.50,41.43 L412.00,41.85 L412.50,42.48 L413.00,42.91 L413.50,43.09 L414.00,43.10 L414.50,43.04 L415.00,42.80 L415.50,42.29 L416.00,42.19 L416.50,42.21 L417.00,42.82 L417.50,42.81 L418.00,43.12 L418.50,43.54 L419.00,43.52 L419.50,43.35 L420.00,43.35 L420.50,42.85 L421.00,42.92 L421.50,42.57 L422.00,42.71 L422.50,42.80 L423.00,42.96 L423.50,43.02 L424.00,43.17 L424.50,43.53 L425.00,43.61 L425.50,43.78 L426.00,43.83 L426.50,43.85 L427.00,43.80 L427.50,43.71 L428.00,43.58 L428.50,43.39 L429.00,43.22 L429.50,42.72 L430.00,42.79 L430.50,43.01 L431.00,42.83 L431.50,43.21 L432.00,43.62 L432.50,43.68 L433.00,43.83 L433.50,43.90 L434.00,43.94 L434.50,43.95 L435.00,43.96 L435.50,43.96 L436.00,43.96 L436.50,43.96 L437.00,43.96 L437.50,43.96 L438.00,43.96 L438.50,43.96 L439.00,43.96 L439.50,43.96 L440.00,43.96 L440.50,43.96 L441.00,43.96 L441.50,43.96 L442.00,43.96 L442.50,43.96 L443.00,43.96 L443.50,43.95 L444.00,43.95 L444.50,43.92 L445.00,43.87 L445.50,43.78 L446.00,43.67 L446.50,43.50 L447.00,43.18 L447.50,43.25 L448.00,43.09 L448.50,43.15 L449.00,43.37 L449.50,43.53 L450.00,43.62 L450.50,43.78 L451.00,43.87 L451.50,43.92 L452.00,43.94 L452.50,43.95 L453.00,43.94 L453.50,43.92 L454.00,43.87 L454.50,43.79 L455.00,43.66 L455.50,43.56 L456.00,43.24 L456.50,43.38 L457.00,43.09 L457.50,43.22 L458.00,43.42 L458.50,43.48 L459.00,43.65 L459.50,43.83 L460.00,43.87 L460.50,43.92 L461.00,43.95 L461.50,43.95 L462.00,43.96 L462.50,43.96 L463.00,43.96 L463.50,43.96 L464.00,43.96 L464.50,43.96 L465.00,43.96 L465.50,43.96 L466.00,43.96 L466.50,43.96 L467.00,43.96 L467.50,43.96 L468.00,43.96 L468.50,43.96 L469.00,43.96 L469.00,43.96 Z" stroke="none" fill="#ebbd35" stroke-width="1" fill-opacity="1.0"/>
<line x1="348.50" y1="43.96" x2="469.00" y2="43.96" stroke="#ecd080" stroke-width="0.6" />
<text x="228.70" y="38.17" font-size="4.2" text-anchor="start" fill="#555" textLength="12.3" lengthAdjust="spacingAndGlyphs" >0 - 170</text>
<text x="348.80" y="38.17" font-size="4.2" text-anchor="start" fill="#555" textLength="12.3" lengthAdjust="spacingAndGlyphs" >0 - 170</text>
<path d="M229.00,54.92 L229.00,54.92 L229.50,54.92 L230.00,54.92 L230.50,54.92 L231.00,54.92 L231.50,54.92 L232.00,54.92 L232.50,54.92 L233.00,54.92 L233.50,54.92 L234.00,54.92 L234.50,54.92 L235.00,54.92 L235.50,54.92 L236.00,54.92 L236.50,54.92 L237.00,54.92 L237.50,54.92 L238.00,54.92 L238.50,54.92 L239.00,54.92 L239.50,54.92 L240.00,54.92 L240.50,54.92 L241.00,54.92 L241.50,54.92 L242.00,54.92 L242.50,54.92 L243.00,54.92 L243.50,54.92 L244.00,54.92 L244.50,54.92 L245.00,54.92 L245.50,54.92 L246.00,54.92 L246.50,54.92 L247.00,54.92 L247.50,54.92 L248.00,54.92 L248.50,54.92 L249.00,54.92 L249.50,54.92 L250.00,54.92 L250.50,54.92 L251.00,54.92 L251.50,54.92 L252.00,54.92 L252.50,54.92 L253.00,54.92 L253.50,54.92 L254.00,54.92 L254.50,54.92 L255.00,54.92 L255.50,54.92 L256.00,54.92 L256.50,54.92 L257.00,54.92 L257.50,54.92 L258.00,54.92 L258.50,54.92 L259.00,54.92 L259.50,54.92 L260.00,54.92 L260.50,54.92 L261.00,54.92 L261.50,54.92 L262.00,54.92 L262.50,54.92 L263.00,54.92 L263.50,54.92 L264.00,54.92 L264.50,54.92 L265.00,54.92 L265.50,54.92 L266.00,54.92 L266.50,54.92 L267.00,54.92 L267.50,54.92 L268.00,54.92 L268.50,54.92 L269.00,54.92 L269.50,54.92 L270.00,54.92 L270.50,54.92 L271.00,54.92 L271.50,54.92 L272.00,54.92 L272.50,54.92 L273.00,54.92 L273.50,54.92 L274.00,54.92 L274.50,54.92 L275.00,54.92 L275.50,54.92 L276.00,54.92 L276.50,54.92 L277.00,54.92 L277.50,54.92 L278.00,54.92 L278.50,54.92 L279.00,54.92 L279.50,54.92 L280.00,54.92 L280.50,54.92 L281.00,54.92 L281.50,54.92 L282.00,54.92 L282.50,54.92 L283.00,54.92 L283.50,54.92 L284.00,54.92 L284.50,54.92 L285.00,54.92 L285.50,54.92 L286.00,54.92 L286.50,54.92 L287.00,54.92 L287.50,54.92 L288.00,54.92 L288.50,54.92 L289.00,54.92 L289.50,54.92 L290.00,54.92 L290.50,54.92 L291.00,54.92 L291.50,54.92 L292.00,54.92 L292.50,54.92 L293.00,54.92 L293.50,54.92 L294.00,54.92 L294.50,54.92 L295.00,54.92 L295.50,54.92 L296.00,54.92 L296.50,54.92 L297.00,54.92 L297.50,54.92 L298.00,54.92 L298.50,54.92 L299.00,54.92 L299.50,54.92 L300.00,54.92 L300.50,54.92 L301.00,54.92 L301.50,54.92 L302.00,54.92 L302.50,54.92 L303.00,54.92 L303.50,54.92 L304.00,54.92 L304.50,54.92 L305.00,54.92 L305.50,54.92 L306.00,54.92 L306.50,54.92 L307.00,54.92 L307.50,54.92 L308.00,54.92 L308.50,54.92 L309.00,54.92 L309.50,54.92 L310.00,54.92 L310.50,54.92 L311.00,54.92 L311.50,54.92 L312.00,54.92 L312.50,54.92 L313.00,54.92 L313.50,54.92 L314.00,54.92 L314.50,54.92 L315.00,54.92 L315.50,54.92 L316.00,54.92 L316.50,54.92 L317.00,54.92 L317.50,54.92 L318.00,54.92 L318.50,54.92 L319.00,54.92 L319.50,54.92 L320.00,54.92 L320.50,54.92 L321.00,54.92 L321.50,54.92 L322.00,54.92 L322.50,54.92 L323.00,54.92 L323.50,54.92 L324.00,54.92 L324.50,54.92 L325.00,54.92 L325.50,54.92 L326.00,54.92 L326.50,54.92 L327.00,54.92 L327.50,54.92 L328.00,54.92 L328.50,54.92 L329.00,54.92 L329.50,54.92 L330.00,54.92 L330.50,54.92 L331.00,54.92 L331.50,54.92 L332.00,54.92 L332.50,54.92 L333.00,54.92 L333.50,54.92 L334.00,54.92 L334.50,54.92 L335.00,54.92 L335.50,54.92 L336.00,54.92 L336.50,54.92 L337.00,54.92 L337.50,54.92 L338.00,54.92 L338.50,54.92 L339.00,54.92 L339.50,54.92 L340.00,54.92 L340.50,54.92 L341.00,54.92 L341.50,54.92 L341.50,54.92 Z" stroke="none" fill="#5f89b4" stroke-width="1" fill-opacity="1.0"/>
<line x1="229.00" y1="54.92" x2="341.50" y2="54.92" stroke="#7d9cc0" stroke-width="0.6" />
<path d="M348.50,54.92 L348.50,54.92 L349.00,54.92 L349.50,54.92 L350.00,54.92 L350.50,54.92 L351.00,54.92 L351.50,54.92 L352.00,54.92 L352.50,54.92 L353.00,54.92 L353.50,54.92 L354.00,54.92 L354.50,54.92 L355.00,54.92 L355.50,54.92 L356.00,54.92 L356.50,54.92 L357.00,54.92 L357.50,54.92 L358.00,54.92 L358.50,54.92 L359.00,54.92 L359.50,54.92 L360.00,54.92 L360.50,54.92 L361.00,54.92 L361.50,54.92 L362.00,54.92 L362.50,54.92 L363.00,54.92 L363.50,54.92 L364.00,54.92 L364.50,54.92 L365.00,54.92 L365.50,54.92 L366.00,54.92 L366.50,54.92 L367.00,54.92 L367.50,54.92 L368.00,54.92 L368.50,54.92 L369.00,54.92 L369.50,54.92 L370.00,54.92 L370.50,54.92 L371.00,54.92 L371.50,54.92 L372.00,54.92 L372.50,54.92 L373.00,54.92 L373.50,54.92 L374.00,54.92 L374.50,54.92 L375.00,54.92 L375.50,54.92 L376.00,54.92 L376.50,54.92 L377.00,54.92 L377.50,54.92 L378.00,54.92 L378.50,54.92 L379.00,54.92 L379.50,54.92 L380.00,54.92 L380.50,54.92 L381.00,54.92 L381.50,54.92 L382.00,54.92 L382.50,54.92 L383.00,54.92 L383.50,54.92 L384.00,54.92 L384.50,54.92 L385.00,54.92 L385.50,54.92 L386.00,54.92 L386.50,54.92 L387.00,54.92 L387.50,54.92 L388.00,54.92 L388.50,54.92 L389.00,54.92 L389.50,54.92 L390.00,54.92 L390.50,54.92 L391.00,54.92 L391.50,54.92 L392.00,54.92 L392.50,54.92 L393.00,54.92 L393.50,54.92 L394.00,54.92 L394.50,54.92 L395.00,54.92 L395.50,54.92 L396.00,54.92 L396.50,54.92 L397.00,54.92 L397.50,54.92 L398.00,54.92 L398.50,54.92 L399.00,54.92 L399.50,54.92 L400.00,54.92 L400.50,54.92 L401.00,54.92 L401.50,54.92 L402.00,54.92 L402.50,54.92 L403.00,54.92 L403.50,54.92 L404.00,54.92 L404.50,54.92 L405.00,54.92 L405.50,54.92 L406.00,54.92 L406.50,54.92 L407.00,54.92 L407.50,54.92 L408.00,54.92 L408.50,54.92 L409.00,54.92 L409.50,54.92 L410.00,54.92 L410.50,54.92 L411.00,54.92 L411.50,54.92 L412.00,54.92 L412.50,54.92 L413.00,54.92 L413.50,54.92 L414.00,54.92 L414.50,54.92 L415.00,54.92 L415.50,54.92 L416.00,54.92 L416.50,54.92 L417.00,54.92 L417.50,54.92 L418.00,54.92 L418.50,54.92 L419.00,54.92 L419.50,54.92 L420.00,54.92 L420.50,54.92 L421.00,54.92 L421.50,54.92 L422.00,54.92 L422.50,54.92 L423.00,54.92 L423.50,54.92 L424.00,54.92 L424.50,54.92 L425.00,54.92 L425.50,54.92 L426.00,54.92 L426.50,54.92 L427.00,54.92 L427.50,54.92 L428.00,54.92 L428.50,54.92 L429.00,54.92 L429.50,54.92 L430.00,54.92 L430.50,54.92 L431.00,54.92 L431.50,54.92 L432.00,54.92 L432.50,54.92 L433.00,54.92 L433.50,54.92 L434.00,54.92 L434.50,54.92 L435.00,54.92 L435.50,54.92 L436.00,54.92 L436.50,54.92 L437.00,54.92 L437.50,54.92 L438.00,54.92 L438.50,54.92 L439.00,54.92 L439.50,54.92 L440.00,54.92 L440.50,54.92 L441.00,54.92 L441.50,54.92 L442.00,54.92 L442.50,54.92 L443.00,54.92 L443.50,54.92 L444.00,54.92 L444.50,54.92 L445.00,54.92 L445.50,54.92 L446.00,54.92 L446.50,54.92 L447.00,54.92 L447.50,54.92 L448.00,54.92 L448.50,54.92 L449.00,54.92 L449.50,54.92 L450.00,54.92 L450.50,54.92 L451.00,54.92 L451.50,54.92 L452.00,54.92 L452.50,54.92 L453.00,54.92 L453.50,54.92 L454.00,54.92 L454.50,54.92 L455.00,54.92 L455.50,54.92 L456.00,54.92 L456.50,54.92 L457.00,54.92 L457.50,54.92 L458.00,54.92 L458.50,54.92 L459.00,54.92 L459.50,54.92 L460.00,54.92 L460.50,54.92 L461.00,54.92 L461.50,54.92 L462.00,54.92 L462.50,54.92 L463.00,54.92 L463.50,54.92 L464.00,54.92 L464.50,54.92 L465.00,54.92 L465.50,54.92 L466.00,54.92 L466.50,54.92 L467.00,54.92 L467.50,54.92 L468.00,54.92 L468.50,54.92 L469.00,54.92 L469.00,54.92 Z" stroke="none" fill="#5f89b4" stroke-width="1" fill-opacity="1.0"/>
<line x1="348.50" y1="54.92" x2="469.00" y2="54.92" stroke="#7d9cc0" stroke-width="0.6" />
<text x="228.70" y="49.13" font-size="4.2" text-anchor="start" fill="#555" textLength="12.3" lengthAdjust="spacingAndGlyphs" >0 - 170</text>
<text x="348.80" y="49.13" font-size="4.2" text-anchor="start" fill="#555" textLength="12.3" lengthAdjust="spacingAndGlyphs" >0 - 170</text>
<path d="M229.00,65.88 L229.00,65.88 L229.50,65.88 L230.00,65.88 L230.50,65.88 L231.00,65.88 L231.50,65.88 L232.00,65.88 L232.50,65.88 L233.00,65.88 L233.50,65.88 L234.00,65.88 L234.50,65.88 L235.00,65.88 L235.50,65.88 L236.00,65.88 L236.50,65.88 L237.00,65.88 L237.50,65.88 L238.00,65.88 L238.50,65.88 L239.00,65.88 L239.50,65.88 L240.00,65.88 L240.50,65.88 L241.00,65.88 L241.50,65.88 L242.00,65.88 L242.50,65.88 L243.00,65.88 L243.50,65.88 L244.00,65.88 L244.50,65.88 L245.00,65.88 L245.50,65.88 L246.00,65.88 L246.50,65.88 L247.00,65.88 L247.50,65.88 L248.00,65.88 L248.50,65.88 L249.00,65.88 L249.50,65.88 L250.00,65.88 L250.50,65.88 L251.00,65.88 L251.50,65.88 L252.00,65.88 L252.50,65.88 L253.00,65.88 L253.50,65.88 L254.00,65.88 L254.50,65.88 L255.00,65.88 L255.50,65.88 L256.00,65.88 L256.50,65.88 L257.00,65.88 L257.50,65.88 L258.00,65.88 L258.50,65.88 L259.00,65.88 L259.50,65.88 L260.00,65.88 L260.50,65.88 L261.00,65.88 L261.50,65.88 L262.00,65.88 L262.50,65.88 L263.00,65.88 L263.50,65.88 L264.00,65.88 L264.50,65.88 L265.00,65.88 L265.50,65.88 L266.00,65.88 L266.50,65.88 L267.00,65.88 L267.50,65.88 L268.00,65.88 L268.50,65.88 L269.00,65.88 L269.50,65.88 L270.00,65.88 L270.50,65.88 L271.00,65.88 L271.50,65.88 L272.00,65.88 L272.50,65.88 L273.00,65.88 L273.50,65.88 L274.00,65.88 L274.50,65.88 L275.00,65.88 L275.50,65.88 L276.00,65.88 L276.50,65.88 L277.00,65.88 L277.50,65.88 L278.00,65.88 L278.50,65.88 L279.00,65.88 L279.50,65.88 L280.00,65.87 L280.50,65.84 L281.00,65.76 L281.50,65.62 L282.00,65.51 L282.50,65.16 L283.00,65.24 L283.50,65.31 L284.00,65.50 L284.50,65.68 L285.00,65.76 L285.50,65.84 L286.00,65.87 L286.50,65.88 L287.00,65.88 L287.50,65.88 L288.00,65.88 L288.50,65.88 L289.00,65.88 L289.50,65.88 L290.00,65.88 L290.50,65.88 L291.00,65.88 L291.50,65.88 L292.00,65.88 L292.50,65.88 L293.00,65.88 L293.50,65.88 L294.00,65.88 L294.50,65.88 L295.00,65.88 L295.50,65.88 L296.00,65.88 L296.50,65.88 L297.00,65.88 L297.50,65.88 L298.00,65.88 L298.50,65.88 L299.00,65.88 L299.50,65.88 L300.00,65.88 L300.50,65.88 L301.00,65.88 L301.50,65.88 L302.00,65.88 L302.50,65.88 L303.00,65.88 L303.50,65.88 L304.00,65.88 L304.50,65.88 L305.00,65.88 L305.50,65.88 L306.00,65.88 L306.50,65.88 L307.00,65.88 L307.50,65.88 L308.00,65.88 L308.50,65.88 L309.00,65.88 L309.50,65.88 L310.00,65.88 L310.50,65.88 L311.00,65.88 L311.50,65.88 L312.00,65.88 L312.50,65.88 L313.00,65.88 L313.50,65.88 L314.00,65.88 L314.50,65.88 L315.00,65.88 L315.50,65.88 L316.00,65.88 L316.50,65.88 L317.00,65.88 L317.50,65.88 L318.00,65.88 L318.50,65.88 L319.00,65.88 L319.50,65.88 L320.00,65.88 L320.50,65.88 L321.00,65.88 L321.50,65.88 L322.00,65.88 L322.50,65.88 L323.00,65.88 L323.50,65.88 L324.00,65.88 L324.50,65.88 L325.00,65.88 L325.50,65.88 L326.00,65.88 L326.50,65.88 L327.00,65.88 L327.50,65.88 L328.00,65.88 L328.50,65.88 L329.00,65.88 L329.50,65.88 L330.00,65.88 L330.50,65.88 L331.00,65.88 L331.50,65.88 L332.00,65.88 L332.50,65.88 L333.00,65.88 L333.50,65.88 L334.00,65.88 L334.50,65.88 L335.00,65.88 L335.50,65.88 L336.00,65.88 L336.50,65.88 L337.00,65.88 L337.50,65.88 L338.00,65.88 L338.50,65.88 L339.00,65.88 L339.50,65.88 L340.00,65.88 L340.50,65.88 L341.00,65.88 L341.50,65.88 L341.50,65.88 Z" stroke="none" fill="#9ab3d0" stroke-width="1" fill-opacity="1.0"/>
<line x1="229.00" y1="65.88" x2="341.50" y2="65.88" stroke="#b8c8dc" stroke-width="0.6" />
<path d="M348.50,65.88 L348.50,65.88 L349.00,65.88 L349.50,65.88 L350.00,65.88 L350.50,65.88 L351.00,65.88 L351.50,65.88 L352.00,65.88 L352.50,65.88 L353.00,65.88 L353.50,65.88 L354.00,65.88 L354.50,65.88 L355.00,65.88 L355.50,65.88 L356.00,65.88 L356.50,65.88 L357.00,65.88 L357.50,65.88 L358.00,65.88 L358.50,65.88 L359.00,65.88 L359.50,65.88 L360.00,65.88 L360.50,65.88 L361.00,65.88 L361.50,65.88 L362.00,65.88 L362.50,65.88 L363.00,65.88 L363.50,65.88 L364.00,65.88 L364.50,65.88 L365.00,65.88 L365.50,65.88 L366.00,65.88 L366.50,65.88 L367.00,65.88 L367.50,65.88 L368.00,65.88 L368.50,65.88 L369.00,65.88 L369.50,65.88 L370.00,65.88 L370.50,65.88 L371.00,65.88 L371.50,65.88 L372.00,65.88 L372.50,65.88 L373.00,65.88 L373.50,65.88 L374.00,65.88 L374.50,65.88 L375.00,65.88 L375.50,65.88 L376.00,65.88 L376.50,65.88 L377.00,65.88 L377.50,65.88 L378.00,65.88 L378.50,65.88 L379.00,65.88 L379.50,65.88 L380.00,65.88 L380.50,65.88 L381.00,65.88 L381.50,65.88 L382.00,65.88 L382.50,65.88 L383.00,65.88 L383.50,65.88 L384.00,65.88 L384.50,65.88 L385.00,65.88 L385.50,65.88 L386.00,65.88 L386.50,65.88 L387.00,65.88 L387.50,65.88 L388.00,65.88 L388.50,65.88 L389.00,65.88 L389.50,65.88 L390.00,65.88 L390.50,65.88 L391.00,65.88 L391.50,65.88 L392.00,65.88 L392.50,65.88 L393.00,65.88 L393.50,65.88 L394.00,65.88 L394.50,65.88 L395.00,65.88 L395.50,65.88 L396.00,65.88 L396.50,65.88 L397.00,65.88 L397.50,65.88 L398.00,65.88 L398.50,65.88 L399.00,65.88 L399.50,65.88 L400.00,65.88 L400.50,65.88 L401.00,65.88 L401.50,65.88 L402.00,65.88 L402.50,65.88 L403.00,65.88 L403.50,65.88 L404.00,65.88 L404.50,65.88 L405.00,65.88 L405.50,65.88 L406.00,65.88 L406.50,65.88 L407.00,65.88 L407.50,65.88 L408.00,65.87 L408.50,65.86 L409.00,65.82 L409.50,65.76 L410.00,65.70 L410.50,65.64 L411.00,65.53 L411.50,65.53 L412.00,65.70 L412.50,65.76 L413.00,65.82 L413.50,65.86 L414.00,65.87 L414.50,65.88 L415.00,65.88 L415.50,65.88 L416.00,65.88 L416.50,65.88 L417.00,65.88 L417.50,65.88 L418.00,65.88 L418.50,65.88 L419.00,65.88 L419.50,65.88 L420.00,65.88 L420.50,65.88 L421.00,65.88 L421.50,65.88 L422.00,65.88 L422.50,65.88 L423.00,65.88 L423.50,65.88 L424.00,65.88 L424.50,65.88 L425.00,65.88 L425.50,65.88 L426.00,65.88 L426.50,65.88 L427.00,65.88 L427.50,65.88 L428.00,65.88 L428.50,65.88 L429.00,65.88 L429.50,65.88 L430.00,65.88 L430.50,65.88 L431.00,65.88 L431.50,65.88 L432.00,65.88 L432.50,65.88 L433.00,65.88 L433.50,65.88 L434.00,65.88 L434.50,65.88 L435.00,65.88 L435.50,65.88 L436.00,65.88 L436.50,65.88 L437.00,65.88 L437.50,65.88 L438.00,65.88 L438.50,65.88 L439.00,65.88 L439.50,65.88 L440.00,65.88 L440.50,65.88 L441.00,65.88 L441.50,65.88 L442.00,65.88 L442.50,65.88 L443.00,65.88 L443.50,65.88 L444.00,65.88 L444.50,65.88 L445.00,65.88 L445.50,65.88 L446.00,65.88 L446.50,65.88 L447.00,65.88 L447.50,65.88 L448.00,65.88 L448.50,65.88 L449.00,65.88 L449.50,65.88 L450.00,65.88 L450.50,65.88 L451.00,65.88 L451.50,65.88 L452.00,65.88 L452.50,65.88 L453.00,65.88 L453.50,65.88 L454.00,65.88 L454.50,65.88 L455.00,65.88 L455.50,65.88 L456.00,65.88 L456.50,65.88 L457.00,65.88 L457.50,65.88 L458.00,65.88 L458.50,65.88 L459.00,65.88 L459.50,65.88 L460.00,65.88 L460.50,65.88 L461.00,65.88 L461.50,65.88 L462.00,65.88 L462.50,65.88 L463.00,65.88 L463.50,65.88 L464.00,65.88 L464.50,65.88 L465.00,65.88 L465.50,65.88 L466.00,65.88 L466.50,65.88 L467.00,65.88 L467.50,65.88 L468.00,65.88 L468.50,65.88 L469.00,65.88 L469.00,65.88 Z" stroke="none" fill="#9ab3d0" stroke-width="1" fill-opacity="1.0"/>
<line x1="348.50" y1="65.88" x2="469.00" y2="65.88" stroke="#b8c8dc" stroke-width="0.6" />
<text x="228.70" y="60.09" font-size="4.2" text-anchor="start" fill="#555" textLength="12.3" lengthAdjust="spacingAndGlyphs" >0 - 170</text>
<text x="348.80" y="60.09" font-size="4.2" text-anchor="start" fill="#555" textLength="12.3" lengthAdjust="spacingAndGlyphs" >0 - 170</text>
<path d="M229.00,76.84 L229.00,76.84 L229.50,76.84 L230.00,76.84 L230.50,76.84 L231.00,76.84 L231.50,76.84 L232.00,76.84 L232.50,76.84 L233.00,76.84 L233.50,76.84 L234.00,76.84 L234.50,76.84 L235.00,76.84 L235.50,76.84 L236.00,76.84 L236.50,76.84 L237.00,76.84 L237.50,76.84 L238.00,76.84 L238.50,76.84 L239.00,76.84 L239.50,76.84 L240.00,76.83 L240.50,76.82 L241.00,76.80 L241.50,76.75 L242.00,76.71 L242.50,76.55 L243.00,76.49 L243.50,76.30 L244.00,76.08 L244.50,76.25 L245.00,76.13 L245.50,76.31 L246.00,76.54 L246.50,76.61 L247.00,76.63 L247.50,76.67 L248.00,76.60 L248.50,76.41 L249.00,76.20 L249.50,76.17 L250.00,76.08 L250.50,76.34 L251.00,76.35 L251.50,76.48 L252.00,76.53 L252.50,76.69 L253.00,76.77 L253.50,76.81 L254.00,76.83 L254.50,76.84 L255.00,76.84 L255.50,76.84 L256.00,76.84 L256.50,76.83 L257.00,76.83 L257.50,76.81 L258.00,76.78 L258.50,76.73 L259.00,76.66 L259.50,76.50 L260.00,76.52 L260.50,76.28 L261.00,76.02 L261.50,75.95 L262.00,75.97 L262.50,76.13 L263.00,75.84 L263.50,76.20 L264.00,75.79 L264.50,75.75 L265.00,75.58 L265.50,75.43 L266.00,75.35 L266.50,75.03 L267.00,74.70 L267.50,74.58 L268.00,74.60 L268.50,74.26 L269.00,74.43 L269.50,74.05 L270.00,73.89 L270.50,73.59 L271.00,73.32 L271.50,73.50 L272.00,74.12 L272.50,74.44 L273.00,74.91 L273.50,74.92 L274.00,75.16 L274.50,75.27 L275.00,75.12 L275.50,74.80 L276.00,75.01 L276.50,74.97 L277.00,75.19 L277.50,75.48 L278.00,75.60 L278.50,75.72 L279.00,75.64 L279.50,75.16 L280.00,74.82 L280.50,74.39 L281.00,74.15 L281.50,73.54 L282.00,73.47 L282.50,73.05 L283.00,72.40 L283.50,71.48 L284.00,70.22 L284.50,69.23 L285.00,67.48 L285.50,67.34 L286.00,67.34 L286.50,68.22 L287.00,70.03 L287.50,71.46 L288.00,72.18 L288.50,72.60 L289.00,72.85 L289.50,73.14 L290.00,73.48 L290.50,73.64 L291.00,73.60 L291.50,73.17 L292.00,73.15 L292.50,73.64 L293.00,73.68 L293.50,74.02 L294.00,74.44 L294.50,74.55 L295.00,74.68 L295.50,74.95 L296.00,74.45 L296.50,74.68 L297.00,74.62 L297.50,74.41 L298.00,74.99 L298.50,75.06 L299.00,75.10 L299.50,75.43 L300.00,75.64 L300.50,75.67 L301.00,76.12 L301.50,76.41 L302.00,76.64 L302.50,76.77 L303.00,76.82 L303.50,76.83 L304.00,76.84 L304.50,76.84 L305.00,76.84 L305.50,76.84 L306.00,76.84 L306.50,76.84 L307.00,76.84 L307.50,76.84 L308.00,76.84 L308.50,76.84 L309.00,76.84 L309.50,76.84 L310.00,76.84 L310.50,76.84 L311.00,76.84 L311.50,76.83 L312.00,76.82 L312.50,76.79 L313.00,76.73 L313.50,76.59 L314.00,76.43 L314.50,76.27 L315.00,76.07 L315.50,76.15 L316.00,76.09 L316.50,76.24 L317.00,76.27 L317.50,76.50 L318.00,76.66 L318.50,76.74 L319.00,76.79 L319.50,76.81 L320.00,76.79 L320.50,76.75 L321.00,76.66 L321.50,76.59 L322.00,76.49 L322.50,76.30 L323.00,76.29 L323.50,76.31 L324.00,76.33 L324.50,76.33 L325.00,76.42 L325.50,76.66 L326.00,76.71 L326.50,76.78 L327.00,76.81 L327.50,76.83 L328.00,76.84 L328.50,76.84 L329.00,76.84 L329.50,76.84 L330.00,76.84 L330.50,76.84 L331.00,76.84 L331.50,76.84 L332.00,76.84 L332.50,76.84 L333.00,76.84 L333.50,76.83 L334.00,76.82 L334.50,76.79 L335.00,76.73 L335.50,76.63 L336.00,76.59 L336.50,76.39 L337.00,76.35 L337.50,76.26 L338.00,76.20 L338.50,76.37 L339.00,76.49 L339.50,76.57 L340.00,76.70 L340.50,76.77 L341.00,76.81 L341.50,76.83 L341.50,76.84 Z" stroke="none" fill="#13944a" stroke-width="1" fill-opacity="1.0"/>
<line x1="229.00" y1="76.84" x2="341.50" y2="76.84" stroke="#60b080" stroke-width="0.6" />
<path d="M348.50,76.84 L348.50,76.84 L349.00,76.84 L349.50,76.84 L350.00,76.84 L350.50,76.84 L351.00,76.84 L351.50,76.84 L352.00,76.84 L352.50,76.84 L353.00,76.84 L353.50,76.84 L354.00,76.84 L354.50,76.84 L355.00,76.84 L355.50,76.84 L356.00,76.84 L356.50,76.84 L357.00,76.84 L357.50,76.84 L358.00,76.84 L358.50,76.84 L359.00,76.84 L359.50,76.84 L360.00,76.84 L360.50,76.84 L361.00,76.84 L361.50,76.84 L362.00,76.84 L362.50,76.84 L363.00,76.84 L363.50,76.84 L364.00,76.84 L364.50,76.84 L365.00,76.84 L365.50,76.84 L366.00,76.84 L366.50,76.84 L367.00,76.84 L367.50,76.84 L368.00,76.84 L368.50,76.84 L369.00,76.84 L369.50,76.84 L370.00,76.84 L370.50,76.84 L371.00,76.84 L371.50,76.84 L372.00,76.84 L372.50,76.84 L373.00,76.84 L373.50,76.84 L374.00,76.84 L374.50,76.84 L375.00,76.84 L375.50,76.84 L376.00,76.84 L376.50,76.84 L377.00,76.84 L377.50,76.84 L378.00,76.84 L378.50,76.84 L379.00,76.84 L379.50,76.84 L380.00,76.84 L380.50,76.84 L381.00,76.84 L381.50,76.84 L382.00,76.84 L382.50,76.84 L383.00,76.84 L383.50,76.83 L384.00,76.82 L384.50,76.80 L385.00,76.77 L385.50,76.73 L386.00,76.69 L386.50,76.58 L387.00,76.40 L387.50,76.21 L388.00,75.98 L388.50,76.10 L389.00,75.81 L389.50,75.88 L390.00,75.65 L390.50,75.60 L391.00,76.02 L391.50,75.99 L392.00,75.79 L392.50,76.06 L393.00,75.87 L393.50,75.61 L394.00,75.63 L394.50,75.07 L395.00,75.17 L395.50,74.78 L396.00,74.77 L396.50,74.71 L397.00,74.90 L397.50,75.13 L398.00,74.81 L398.50,75.07 L399.00,74.65 L399.50,74.34 L400.00,73.85 L400.50,73.60 L401.00,73.63 L401.50,73.99 L402.00,74.00 L402.50,74.73 L403.00,74.67 L403.50,75.17 L404.00,75.13 L404.50,74.85 L405.00,74.33 L405.50,73.76 L406.00,73.56 L406.50,73.71 L407.00,73.98 L407.50,74.42 L408.00,74.35 L408.50,74.01 L409.00,73.40 L409.50,72.68 L410.00,72.41 L410.50,73.04 L411.00,73.02 L411.50,73.47 L412.00,73.88 L412.50,73.58 L413.00,73.11 L413.50,72.98 L414.00,72.61 L414.50,72.66 L415.00,73.28 L415.50,73.94 L416.00,74.92 L416.50,74.89 L417.00,75.00 L417.50,74.56 L418.00,74.63 L418.50,74.19 L419.00,74.32 L419.50,74.07 L420.00,74.39 L420.50,75.11 L421.00,75.34 L421.50,75.72 L422.00,75.62 L422.50,75.60 L423.00,75.71 L423.50,75.00 L424.00,74.72 L424.50,74.77 L425.00,74.63 L425.50,74.83 L426.00,74.94 L426.50,75.37 L427.00,75.71 L427.50,75.88 L428.00,76.29 L428.50,76.31 L429.00,76.09 L429.50,76.10 L430.00,75.96 L430.50,75.35 L431.00,75.65 L431.50,75.61 L432.00,75.88 L432.50,76.16 L433.00,76.38 L433.50,76.55 L434.00,76.70 L434.50,76.78 L435.00,76.82 L435.50,76.83 L436.00,76.84 L436.50,76.84 L437.00,76.84 L437.50,76.84 L438.00,76.84 L438.50,76.84 L439.00,76.84 L439.50,76.84 L440.00,76.84 L440.50,76.84 L441.00,76.84 L441.50,76.84 L442.00,76.84 L442.50,76.84 L443.00,76.84 L443.50,76.84 L444.00,76.84 L444.50,76.84 L445.00,76.84 L445.50,76.84 L446.00,76.84 L446.50,76.84 L447.00,76.84 L447.50,76.84 L448.00,76.84 L448.50,76.84 L449.00,76.84 L449.50,76.84 L450.00,76.84 L450.50,76.84 L451.00,76.84 L451.50,76.83 L452.00,76.83 L452.50,76.80 L453.00,76.75 L453.50,76.70 L454.00,76.54 L454.50,76.48 L455.00,76.34 L455.50,76.19 L456.00,76.14 L456.50,76.14 L457.00,76.28 L457.50,76.30 L458.00,76.52 L458.50,76.67 L459.00,76.75 L459.50,76.80 L460.00,76.83 L460.50,76.83 L461.00,76.84 L461.50,76.84 L462.00,76.84 L462.50,76.84 L463.00,76.84 L463.50,76.84 L464.00,76.84 L464.50,76.84 L465.00,76.84 L465.50,76.84 L466.00,76.84 L466.50,76.84 L467.00,76.84 L467.50,76.84 L468.00,76.84 L468.50,76.84 L469.00,76.84 L469.00,76.84 Z" stroke="none" fill="#13944a" stroke-width="1" fill-opacity="1.0"/>
<line x1="348.50" y1="76.84" x2="469.00" y2="76.84" stroke="#60b080" stroke-width="0.6" />
<text x="228.70" y="71.05" font-size="4.2" text-anchor="start" fill="#555" textLength="12.3" lengthAdjust="spacingAndGlyphs" >0 - 170</text>
<text x="348.80" y="71.05" font-size="4.2" text-anchor="start" fill="#555" textLength="12.3" lengthAdjust="spacingAndGlyphs" >0 - 170</text>
<path d="M229.00,87.80 L229.00,87.80 L229.50,87.80 L230.00,87.80 L230.50,87.80 L231.00,87.80 L231.50,87.80 L232.00,87.80 L232.50,87.80 L233.00,87.80 L233.50,87.80 L234.00,87.80 L234.50,87.80 L235.00,87.80 L235.50,87.80 L236.00,87.80 L236.50,87.80 L237.00,87.80 L237.50,87.80 L238.00,87.80 L238.50,87.80 L239.00,87.80 L239.50,87.80 L240.00,87.80 L240.50,87.80 L241.00,87.79 L241.50,87.78 L242.00,87.75 L242.50,87.70 L243.00,87.59 L243.50,87.45 L244.00,87.34 L244.50,87.02 L245.00,86.68 L245.50,86.55 L246.00,86.26 L246.50,86.23 L247.00,86.11 L247.50,86.56 L248.00,86.53 L248.50,86.55 L249.00,86.90 L249.50,86.78 L250.00,87.12 L250.50,86.82 L251.00,87.03 L251.50,86.92 L252.00,87.19 L252.50,87.33 L253.00,87.54 L253.50,87.65 L254.00,87.72 L254.50,87.76 L255.00,87.79 L255.50,87.79 L256.00,87.80 L256.50,87.80 L257.00,87.79 L257.50,87.77 L258.00,87.72 L258.50,87.59 L259.00,87.43 L259.50,87.16 L260.00,87.02 L260.50,86.52 L261.00,85.78 L261.50,85.86 L262.00,85.58 L262.50,85.61 L263.00,85.99 L263.50,86.33 L264.00,86.43 L264.50,86.69 L265.00,86.95 L265.50,86.76 L266.00,86.76 L266.50,86.78 L267.00,87.07 L267.50,87.42 L268.00,87.47 L268.50,87.46 L269.00,87.37 L269.50,86.95 L270.00,86.39 L270.50,85.88 L271.00,85.09 L271.50,84.55 L272.00,84.49 L272.50,84.85 L273.00,85.19 L273.50,85.90 L274.00,86.31 L274.50,86.39 L275.00,86.83 L275.50,86.58 L276.00,86.57 L276.50,86.77 L277.00,87.04 L277.50,87.45 L278.00,87.58 L278.50,87.72 L279.00,87.76 L279.50,87.72 L280.00,87.55 L280.50,87.41 L281.00,87.14 L281.50,86.77 L282.00,86.35 L282.50,86.63 L283.00,86.43 L283.50,86.71 L284.00,86.30 L284.50,85.90 L285.00,85.62 L285.50,85.79 L286.00,85.47 L286.50,85.80 L287.00,86.24 L287.50,86.11 L288.00,86.03 L288.50,85.89 L289.00,85.47 L289.50,85.12 L290.00,85.28 L290.50,85.43 L291.00,85.27 L291.50,85.20 L292.00,85.12 L292.50,85.39 L293.00,85.86 L293.50,86.22 L294.00,86.17 L294.50,86.62 L295.00,86.57 L295.50,86.95 L296.00,87.00 L296.50,87.32 L297.00,87.50 L297.50,87.61 L298.00,87.69 L298.50,87.75 L299.00,87.78 L299.50,87.79 L300.00,87.80 L300.50,87.80 L301.00,87.80 L301.50,87.80 L302.00,87.80 L302.50,87.80 L303.00,87.80 L303.50,87.80 L304.00,87.80 L304.50,87.80 L305.00,87.80 L305.50,87.80 L306.00,87.80 L306.50,87.80 L307.00,87.80 L307.50,87.80 L308.00,87.80 L308.50,87.80 L309.00,87.80 L309.50,87.80 L310.00,87.80 L310.50,87.80 L311.00,87.80 L311.50,87.80 L312.00,87.80 L312.50,87.80 L313.00,87.80 L313.50,87.80 L314.00,87.80 L314.50,87.80 L315.00,87.80 L315.50,87.80 L316.00,87.80 L316.50,87.80 L317.00,87.80 L317.50,87.79 L318.00,87.77 L318.50,87.72 L319.00,87.67 L319.50,87.52 L320.00,87.26 L320.50,87.01 L321.00,86.59 L321.50,86.50 L322.00,86.54 L322.50,86.20 L323.00,86.49 L323.50,86.56 L324.00,86.78 L324.50,87.24 L325.00,87.51 L325.50,87.63 L326.00,87.71 L326.50,87.76 L327.00,87.78 L327.50,87.79 L328.00,87.80 L328.50,87.80 L329.00,87.80 L329.50,87.80 L330.00,87.80 L330.50,87.80 L331.00,87.80 L331.50,87.80 L332.00,87.79 L332.50,87.78 L333.00,87.75 L333.50,87.69 L334.00,87.59 L334.50,87.47 L335.00,87.34 L335.50,87.06 L336.00,86.79 L336.50,86.64 L337.00,86.74 L337.50,86.87 L338.00,87.14 L338.50,87.45 L339.00,87.58 L339.50,87.69 L340.00,87.75 L340.50,87.78 L341.00,87.79 L341.50,87.80 L341.50,87.80 Z" stroke="none" fill="#16a08e" stroke-width="1" fill-opacity="1.0"/>
<line x1="229.00" y1="87.80" x2="341.50" y2="87.80" stroke="#60b8b0" stroke-width="0.6" />
<path d="M348.50,87.80 L348.50,87.80 L349.00,87.80 L349.50,87.80 L350.00,87.80 L350.50,87.80 L351.00,87.80 L351.50,87.80 L352.00,87.80 L352.50,87.80 L353.00,87.80 L353.50,87.80 L354.00,87.80 L354.50,87.80 L355.00,87.80 L355.50,87.80 L356.00,87.80 L356.50,87.80 L357.00,87.80 L357.50,87.80 L358.00,87.80 L358.50,87.80 L359.00,87.80 L359.50,87.80 L360.00,87.80 L360.50,87.80 L361.00,87.80 L361.50,87.80 L362.00,87.80 L362.50,87.80 L363.00,87.80 L363.50,87.80 L364.00,87.80 L364.50,87.80 L365.00,87.80 L365.50,87.80 L366.00,87.80 L366.50,87.80 L367.00,87.80 L367.50,87.80 L368.00,87.80 L368.50,87.80 L369.00,87.80 L369.50,87.80 L370.00,87.80 L370.50,87.80 L371.00,87.80 L371.50,87.80 L372.00,87.80 L372.50,87.80 L373.00,87.80 L373.50,87.80 L374.00,87.80 L374.50,87.80 L375.00,87.80 L375.50,87.80 L376.00,87.80 L376.50,87.80 L377.00,87.80 L377.50,87.80 L378.00,87.80 L378.50,87.80 L379.00,87.80 L379.50,87.80 L380.00,87.80 L380.50,87.80 L381.00,87.80 L381.50,87.80 L382.00,87.80 L382.50,87.80 L383.00,87.80 L383.50,87.80 L384.00,87.80 L384.50,87.80 L385.00,87.80 L385.50,87.80 L386.00,87.80 L386.50,87.80 L387.00,87.80 L387.50,87.80 L388.00,87.80 L388.50,87.80 L389.00,87.80 L389.50,87.79 L390.00,87.78 L390.50,87.75 L391.00,87.70 L391.50,87.66 L392.00,87.44 L392.50,87.26 L393.00,87.19 L393.50,86.89 L394.00,86.79 L394.50,86.38 L395.00,86.52 L395.50,86.39 L396.00,86.45 L396.50,86.71 L397.00,87.05 L397.50,87.16 L398.00,86.91 L398.50,86.70 L399.00,86.70 L399.50,86.16 L400.00,85.48 L400.50,85.15 L401.00,85.26 L401.50,85.30 L402.00,85.38 L402.50,86.24 L403.00,86.53 L403.50,86.53 L404.00,86.38 L404.50,86.11 L405.00,86.00 L405.50,85.55 L406.00,85.34 L406.50,85.79 L407.00,86.14 L407.50,86.47 L408.00,86.41 L408.50,86.64 L409.00,86.01 L409.50,85.10 L410.00,84.65 L410.50,83.79 L411.00,83.60 L411.50,83.62 L412.00,84.49 L412.50,85.31 L413.00,85.81 L413.50,86.29 L414.00,86.65 L414.50,86.07 L415.00,85.88 L415.50,85.25 L416.00,85.11 L416.50,85.46 L417.00,85.82 L417.50,86.31 L418.00,86.60 L418.50,86.79 L419.00,86.78 L419.50,86.34 L420.00,86.48 L420.50,86.04 L421.00,85.99 L421.50,85.99 L422.00,86.26 L422.50,86.35 L423.00,86.95 L423.50,87.24 L424.00,87.26 L424.50,87.42 L425.00,87.24 L425.50,87.13 L426.00,87.00 L426.50,86.71 L427.00,86.80 L427.50,86.54 L428.00,86.54 L428.50,86.61 L429.00,86.74 L429.50,86.89 L430.00,87.05 L430.50,87.43 L431.00,87.48 L431.50,87.65 L432.00,87.70 L432.50,87.75 L433.00,87.78 L433.50,87.79 L434.00,87.80 L434.50,87.80 L435.00,87.80 L435.50,87.80 L436.00,87.80 L436.50,87.80 L437.00,87.80 L437.50,87.80 L438.00,87.80 L438.50,87.80 L439.00,87.80 L439.50,87.80 L440.00,87.80 L440.50,87.80 L441.00,87.80 L441.50,87.80 L442.00,87.80 L442.50,87.80 L443.00,87.80 L443.50,87.80 L444.00,87.80 L444.50,87.80 L445.00,87.80 L445.50,87.80 L446.00,87.80 L446.50,87.80 L447.00,87.80 L447.50,87.79 L448.00,87.78 L448.50,87.74 L449.00,87.66 L449.50,87.46 L450.00,87.30 L450.50,87.01 L451.00,86.86 L451.50,86.46 L452.00,86.37 L452.50,86.35 L453.00,86.73 L453.50,87.13 L454.00,87.28 L454.50,87.58 L455.00,87.59 L455.50,87.61 L456.00,87.32 L456.50,87.07 L457.00,86.20 L457.50,85.80 L458.00,85.61 L458.50,85.75 L459.00,86.07 L459.50,86.96 L460.00,87.39 L460.50,87.63 L461.00,87.76 L461.50,87.79 L462.00,87.80 L462.50,87.80 L463.00,87.80 L463.50,87.80 L464.00,87.80 L464.50,87.80 L465.00,87.80 L465.50,87.80 L466.00,87.80 L466.50,87.80 L467.00,87.80 L467.50,87.80 L468.00,87.80 L468.50,87.80 L469.00,87.80 L469.00,87.80 Z" stroke="none" fill="#16a08e" stroke-width="1" fill-opacity="1.0"/>
<line x1="348.50" y1="87.80" x2="469.00" y2="87.80" stroke="#60b8b0" stroke-width="0.6" />
<text x="228.70" y="82.01" font-size="4.2" text-anchor="start" fill="#555" textLength="12.3" lengthAdjust="spacingAndGlyphs" >0 - 170</text>
<text x="348.80" y="82.01" font-size="4.2" text-anchor="start" fill="#555" textLength="12.3" lengthAdjust="spacingAndGlyphs" >0 - 170</text>
<path d="M229.00,98.76 L229.00,98.76 L229.50,98.76 L230.00,98.76 L230.50,98.76 L231.00,98.76 L231.50,98.76 L232.00,98.76 L232.50,98.76 L233.00,98.76 L233.50,98.76 L234.00,98.76 L234.50,98.76 L235.00,98.76 L235.50,98.76 L236.00,98.76 L236.50,98.76 L237.00,98.76 L237.50,98.76 L238.00,98.76 L238.50,98.76 L239.00,98.76 L239.50,98.76 L240.00,98.76 L240.50,98.76 L241.00,98.76 L241.50,98.76 L242.00,98.76 L242.50,98.76 L243.00,98.76 L243.50,98.76 L244.00,98.76 L244.50,98.76 L245.00,98.76 L245.50,98.76 L246.00,98.76 L246.50,98.76 L247.00,98.76 L247.50,98.76 L248.00,98.76 L248.50,98.76 L249.00,98.76 L249.50,98.76 L250.00,98.76 L250.50,98.76 L251.00,98.76 L251.50,98.76 L252.00,98.76 L252.50,98.76 L253.00,98.76 L253.50,98.76 L254.00,98.76 L254.50,98.76 L255.00,98.76 L255.50,98.76 L256.00,98.76 L256.50,98.76 L257.00,98.76 L257.50,98.76 L258.00,98.76 L258.50,98.76 L259.00,98.76 L259.50,98.76 L260.00,98.76 L260.50,98.76 L261.00,98.76 L261.50,98.76 L262.00,98.76 L262.50,98.76 L263.00,98.76 L263.50,98.76 L264.00,98.76 L264.50,98.76 L265.00,98.76 L265.50,98.76 L266.00,98.76 L266.50,98.76 L267.00,98.76 L267.50,98.76 L268.00,98.76 L268.50,98.76 L269.00,98.76 L269.50,98.76 L270.00,98.76 L270.50,98.76 L271.00,98.76 L271.50,98.76 L272.00,98.76 L272.50,98.76 L273.00,98.76 L273.50,98.76 L274.00,98.76 L274.50,98.76 L275.00,98.76 L275.50,98.76 L276.00,98.76 L276.50,98.76 L277.00,98.76 L277.50,98.76 L278.00,98.76 L278.50,98.76 L279.00,98.76 L279.50,98.76 L280.00,98.76 L280.50,98.76 L281.00,98.76 L281.50,98.76 L282.00,98.76 L282.50,98.76 L283.00,98.76 L283.50,98.76 L284.00,98.76 L284.50,98.76 L285.00,98.76 L285.50,98.76 L286.00,98.76 L286.50,98.76 L287.00,98.76 L287.50,98.76 L288.00,98.76 L288.50,98.76 L289.00,98.76 L289.50,98.76 L290.00,98.76 L290.50,98.76 L291.00,98.76 L291.50,98.76 L292.00,98.76 L292.50,98.76 L293.00,98.76 L293.50,98.76 L294.00,98.76 L294.50,98.76 L295.00,98.76 L295.50,98.76 L296.00,98.76 L296.50,98.76 L297.00,98.76 L297.50,98.76 L298.00,98.76 L298.50,98.76 L299.00,98.76 L299.50,98.76 L300.00,98.76 L300.50,98.76 L301.00,98.76 L301.50,98.76 L302.00,98.76 L302.50,98.76 L303.00,98.76 L303.50,98.76 L304.00,98.76 L304.50,98.76 L305.00,98.76 L305.50,98.76 L306.00,98.76 L306.50,98.76 L307.00,98.76 L307.50,98.76 L308.00,98.76 L308.50,98.76 L309.00,98.76 L309.50,98.76 L310.00,98.76 L310.50,98.76 L311.00,98.76 L311.50,98.76 L312.00,98.76 L312.50,98.76 L313.00,98.76 L313.50,98.76 L314.00,98.76 L314.50,98.76 L315.00,98.76 L315.50,98.76 L316.00,98.76 L316.50,98.76 L317.00,98.76 L317.50,98.76 L318.00,98.76 L318.50,98.76 L319.00,98.76 L319.50,98.76 L320.00,98.76 L320.50,98.76 L321.00,98.76 L321.50,98.76 L322.00,98.76 L322.50,98.76 L323.00,98.76 L323.50,98.76 L324.00,98.76 L324.50,98.76 L325.00,98.76 L325.50,98.76 L326.00,98.76 L326.50,98.76 L327.00,98.76 L327.50,98.76 L328.00,98.76 L328.50,98.76 L329.00,98.76 L329.50,98.76 L330.00,98.76 L330.50,98.76 L331.00,98.76 L331.50,98.76 L332.00,98.76 L332.50,98.76 L333.00,98.76 L333.50,98.76 L334.00,98.76 L334.50,98.76 L335.00,98.76 L335.50,98.76 L336.00,98.76 L336.50,98.76 L337.00,98.76 L337.50,98.76 L338.00,98.76 L338.50,98.76 L339.00,98.76 L339.50,98.76 L340.00,98.76 L340.50,98.76 L341.00,98.76 L341.50,98.76 L341.50,98.76 Z" stroke="none" fill="#7d7d62" stroke-width="1" fill-opacity="1.0"/>
<line x1="229.00" y1="98.76" x2="341.50" y2="98.76" stroke="#a2a290" stroke-width="0.6" />
<path d="M348.50,98.76 L348.50,98.76 L349.00,98.76 L349.50,98.76 L350.00,98.76 L350.50,98.76 L351.00,98.76 L351.50,98.76 L352.00,98.76 L352.50,98.76 L353.00,98.76 L353.50,98.76 L354.00,98.76 L354.50,98.76 L355.00,98.76 L355.50,98.76 L356.00,98.76 L356.50,98.76 L357.00,98.76 L357.50,98.76 L358.00,98.76 L358.50,98.76 L359.00,98.76 L359.50,98.76 L360.00,98.76 L360.50,98.76 L361.00,98.76 L361.50,98.76 L362.00,98.76 L362.50,98.76 L363.00,98.76 L363.50,98.76 L364.00,98.76 L364.50,98.76 L365.00,98.76 L365.50,98.76 L366.00,98.76 L366.50,98.76 L367.00,98.76 L367.50,98.76 L368.00,98.76 L368.50,98.76 L369.00,98.76 L369.50,98.76 L370.00,98.76 L370.50,98.76 L371.00,98.76 L371.50,98.76 L372.00,98.76 L372.50,98.76 L373.00,98.76 L373.50,98.76 L374.00,98.76 L374.50,98.76 L375.00,98.76 L375.50,98.76 L376.00,98.76 L376.50,98.76 L377.00,98.76 L377.50,98.76 L378.00,98.76 L378.50,98.76 L379.00,98.76 L379.50,98.76 L380.00,98.76 L380.50,98.76 L381.00,98.76 L381.50,98.76 L382.00,98.76 L382.50,98.76 L383.00,98.76 L383.50,98.76 L384.00,98.76 L384.50,98.76 L385.00,98.76 L385.50,98.76 L386.00,98.76 L386.50,98.76 L387.00,98.76 L387.50,98.76 L388.00,98.76 L388.50,98.76 L389.00,98.76 L389.50,98.76 L390.00,98.76 L390.50,98.76 L391.00,98.76 L391.50,98.76 L392.00,98.76 L392.50,98.76 L393.00,98.76 L393.50,98.76 L394.00,98.76 L394.50,98.76 L395.00,98.76 L395.50,98.76 L396.00,98.76 L396.50,98.76 L397.00,98.76 L397.50,98.76 L398.00,98.76 L398.50,98.76 L399.00,98.76 L399.50,98.76 L400.00,98.76 L400.50,98.76 L401.00,98.76 L401.50,98.76 L402.00,98.76 L402.50,98.76 L403.00,98.76 L403.50,98.76 L404.00,98.76 L404.50,98.76 L405.00,98.76 L405.50,98.76 L406.00,98.76 L406.50,98.76 L407.00,98.76 L407.50,98.76 L408.00,98.76 L408.50,98.76 L409.00,98.76 L409.50,98.76 L410.00,98.76 L410.50,98.76 L411.00,98.76 L411.50,98.76 L412.00,98.76 L412.50,98.76 L413.00,98.76 L413.50,98.76 L414.00,98.76 L414.50,98.76 L415.00,98.76 L415.50,98.76 L416.00,98.76 L416.50,98.76 L417.00,98.76 L417.50,98.76 L418.00,98.76 L418.50,98.76 L419.00,98.76 L419.50,98.76 L420.00,98.76 L420.50,98.76 L421.00,98.76 L421.50,98.76 L422.00,98.76 L422.50,98.76 L423.00,98.76 L423.50,98.76 L424.00,98.76 L424.50,98.76 L425.00,98.76 L425.50,98.76 L426.00,98.76 L426.50,98.76 L427.00,98.76 L427.50,98.76 L428.00,98.76 L428.50,98.76 L429.00,98.76 L429.50,98.76 L430.00,98.76 L430.50,98.76 L431.00,98.76 L431.50,98.76 L432.00,98.76 L432.50,98.76 L433.00,98.76 L433.50,98.76 L434.00,98.76 L434.50,98.76 L435.00,98.76 L435.50,98.76 L436.00,98.76 L436.50,98.76 L437.00,98.76 L437.50,98.76 L438.00,98.76 L438.50,98.76 L439.00,98.76 L439.50,98.76 L440.00,98.76 L440.50,98.76 L441.00,98.76 L441.50,98.76 L442.00,98.76 L442.50,98.76 L443.00,98.76 L443.50,98.76 L444.00,98.76 L444.50,98.76 L445.00,98.76 L445.50,98.76 L446.00,98.76 L446.50,98.76 L447.00,98.76 L447.50,98.76 L448.00,98.76 L448.50,98.76 L449.00,98.76 L449.50,98.76 L450.00,98.76 L450.50,98.76 L451.00,98.76 L451.50,98.76 L452.00,98.76 L452.50,98.76 L453.00,98.76 L453.50,98.76 L454.00,98.76 L454.50,98.76 L455.00,98.76 L455.50,98.76 L456.00,98.76 L456.50,98.76 L457.00,98.76 L457.50,98.76 L458.00,98.76 L458.50,98.76 L459.00,98.76 L459.50,98.76 L460.00,98.76 L460.50,98.76 L461.00,98.76 L461.50,98.76 L462.00,98.76 L462.50,98.76 L463.00,98.76 L463.50,98.76 L464.00,98.76 L464.50,98.76 L465.00,98.76 L465.50,98.76 L466.00,98.76 L466.50,98.76 L467.00,98.76 L467.50,98.76 L468.00,98.76 L468.50,98.76 L469.00,98.76 L469.00,98.76 Z" stroke="none" fill="#7d7d62" stroke-width="1" fill-opacity="1.0"/>
<line x1="348.50" y1="98.76" x2="469.00" y2="98.76" stroke="#a2a290" stroke-width="0.6" />
<text x="228.70" y="92.97" font-size="4.2" text-anchor="start" fill="#555" textLength="12.3" lengthAdjust="spacingAndGlyphs" >0 - 170</text>
<text x="348.80" y="92.97" font-size="4.2" text-anchor="start" fill="#555" textLength="12.3" lengthAdjust="spacingAndGlyphs" >0 - 170</text>
<path d="M229.00,109.72 L229.00,109.72 L229.50,109.72 L230.00,109.72 L230.50,109.72 L231.00,109.72 L231.50,109.72 L232.00,109.72 L232.50,109.72 L233.00,109.72 L233.50,109.72 L234.00,109.72 L234.50,109.72 L235.00,109.72 L235.50,109.72 L236.00,109.72 L236.50,109.72 L237.00,109.72 L237.50,109.72 L238.00,109.72 L238.50,109.72 L239.00,109.72 L239.50,109.72 L240.00,109.72 L240.50,109.72 L241.00,109.72 L241.50,109.72 L242.00,109.72 L242.50,109.72 L243.00,109.72 L243.50,109.72 L244.00,109.72 L244.50,109.72 L245.00,109.72 L245.50,109.72 L246.00,109.72 L246.50,109.72 L247.00,109.72 L247.50,109.72 L248.00,109.72 L248.50,109.72 L249.00,109.72 L249.50,109.72 L250.00,109.72 L250.50,109.72 L251.00,109.72 L251.50,109.72 L252.00,109.72 L252.50,109.72 L253.00,109.72 L253.50,109.72 L254.00,109.72 L254.50,109.72 L255.00,109.72 L255.50,109.72 L256.00,109.72 L256.50,109.72 L257.00,109.72 L257.50,109.72 L258.00,109.72 L258.50,109.72 L259.00,109.72 L259.50,109.72 L260.00,109.72 L260.50,109.72 L261.00,109.72 L261.50,109.72 L262.00,109.72 L262.50,109.72 L263.00,109.72 L263.50,109.72 L264.00,109.72 L264.50,109.72 L265.00,109.72 L265.50,109.72 L266.00,109.72 L266.50,109.72 L267.00,109.72 L267.50,109.72 L268.00,109.72 L268.50,109.72 L269.00,109.72 L269.50,109.72 L270.00,109.72 L270.50,109.72 L271.00,109.72 L271.50,109.72 L272.00,109.72 L272.50,109.72 L273.00,109.72 L273.50,109.72 L274.00,109.72 L274.50,109.72 L275.00,109.72 L275.50,109.72 L276.00,109.72 L276.50,109.72 L277.00,109.72 L277.50,109.72 L278.00,109.72 L278.50,109.72 L279.00,109.72 L279.50,109.72 L280.00,109.72 L280.50,109.72 L281.00,109.72 L281.50,109.72 L282.00,109.72 L282.50,109.72 L283.00,109.72 L283.50,109.72 L284.00,109.72 L284.50,109.72 L285.00,109.72 L285.50,109.72 L286.00,109.72 L286.50,109.72 L287.00,109.72 L287.50,109.72 L288.00,109.72 L288.50,109.72 L289.00,109.72 L289.50,109.72 L290.00,109.72 L290.50,109.72 L291.00,109.72 L291.50,109.72 L292.00,109.72 L292.50,109.72 L293.00,109.72 L293.50,109.72 L294.00,109.72 L294.50,109.72 L295.00,109.72 L295.50,109.72 L296.00,109.72 L296.50,109.72 L297.00,109.72 L297.50,109.72 L298.00,109.72 L298.50,109.72 L299.00,109.72 L299.50,109.72 L300.00,109.72 L300.50,109.72 L301.00,109.72 L301.50,109.72 L302.00,109.72 L302.50,109.72 L303.00,109.72 L303.50,109.72 L304.00,109.72 L304.50,109.72 L305.00,109.72 L305.50,109.72 L306.00,109.72 L306.50,109.72 L307.00,109.72 L307.50,109.72 L308.00,109.72 L308.50,109.72 L309.00,109.72 L309.50,109.72 L310.00,109.72 L310.50,109.72 L311.00,109.72 L311.50,109.72 L312.00,109.72 L312.50,109.72 L313.00,109.72 L313.50,109.72 L314.00,109.72 L314.50,109.72 L315.00,109.72 L315.50,109.72 L316.00,109.72 L316.50,109.72 L317.00,109.72 L317.50,109.72 L318.00,109.72 L318.50,109.72 L319.00,109.72 L319.50,109.72 L320.00,109.72 L320.50,109.72 L321.00,109.72 L321.50,109.72 L322.00,109.72 L322.50,109.72 L323.00,109.72 L323.50,109.72 L324.00,109.72 L324.50,109.72 L325.00,109.72 L325.50,109.72 L326.00,109.72 L326.50,109.72 L327.00,109.72 L327.50,109.72 L328.00,109.72 L328.50,109.72 L329.00,109.72 L329.50,109.72 L330.00,109.72 L330.50,109.72 L331.00,109.72 L331.50,109.72 L332.00,109.72 L332.50,109.72 L333.00,109.72 L333.50,109.72 L334.00,109.72 L334.50,109.72 L335.00,109.72 L335.50,109.72 L336.00,109.72 L336.50,109.72 L337.00,109.72 L337.50,109.72 L338.00,109.72 L338.50,109.72 L339.00,109.72 L339.50,109.72 L340.00,109.72 L340.50,109.72 L341.00,109.72 L341.50,109.72 L341.50,109.72 Z" stroke="none" fill="#cfcf95" stroke-width="1" fill-opacity="1.0"/>
<line x1="229.00" y1="109.72" x2="341.50" y2="109.72" stroke="#dcdcb8" stroke-width="0.6" />
<path d="M348.50,109.72 L348.50,109.72 L349.00,109.72 L349.50,109.72 L350.00,109.72 L350.50,109.72 L351.00,109.72 L351.50,109.72 L352.00,109.72 L352.50,109.72 L353.00,109.72 L353.50,109.72 L354.00,109.72 L354.50,109.72 L355.00,109.72 L355.50,109.72 L356.00,109.72 L356.50,109.72 L357.00,109.72 L357.50,109.72 L358.00,109.72 L358.50,109.72 L359.00,109.72 L359.50,109.72 L360.00,109.72 L360.50,109.72 L361.00,109.72 L361.50,109.72 L362.00,109.72 L362.50,109.72 L363.00,109.72 L363.50,109.72 L364.00,109.72 L364.50,109.72 L365.00,109.72 L365.50,109.72 L366.00,109.72 L366.50,109.72 L367.00,109.72 L367.50,109.72 L368.00,109.72 L368.50,109.72 L369.00,109.72 L369.50,109.72 L370.00,109.72 L370.50,109.72 L371.00,109.72 L371.50,109.72 L372.00,109.72 L372.50,109.72 L373.00,109.72 L373.50,109.72 L374.00,109.72 L374.50,109.72 L375.00,109.72 L375.50,109.72 L376.00,109.72 L376.50,109.72 L377.00,109.72 L377.50,109.72 L378.00,109.72 L378.50,109.72 L379.00,109.72 L379.50,109.72 L380.00,109.72 L380.50,109.72 L381.00,109.72 L381.50,109.72 L382.00,109.72 L382.50,109.72 L383.00,109.72 L383.50,109.72 L384.00,109.72 L384.50,109.72 L385.00,109.72 L385.50,109.72 L386.00,109.72 L386.50,109.72 L387.00,109.72 L387.50,109.72 L388.00,109.72 L388.50,109.72 L389.00,109.72 L389.50,109.72 L390.00,109.72 L390.50,109.72 L391.00,109.72 L391.50,109.72 L392.00,109.72 L392.50,109.72 L393.00,109.72 L393.50,109.72 L394.00,109.72 L394.50,109.72 L395.00,109.72 L395.50,109.72 L396.00,109.72 L396.50,109.72 L397.00,109.72 L397.50,109.72 L398.00,109.72 L398.50,109.72 L399.00,109.72 L399.50,109.72 L400.00,109.72 L400.50,109.72 L401.00,109.72 L401.50,109.72 L402.00,109.72 L402.50,109.72 L403.00,109.72 L403.50,109.72 L404.00,109.72 L404.50,109.72 L405.00,109.72 L405.50,109.72 L406.00,109.72 L406.50,109.72 L407.00,109.72 L407.50,109.72 L408.00,109.72 L408.50,109.72 L409.00,109.72 L409.50,109.72 L410.00,109.72 L410.50,109.72 L411.00,109.72 L411.50,109.72 L412.00,109.72 L412.50,109.72 L413.00,109.72 L413.50,109.72 L414.00,109.72 L414.50,109.72 L415.00,109.72 L415.50,109.72 L416.00,109.72 L416.50,109.72 L417.00,109.72 L417.50,109.72 L418.00,109.72 L418.50,109.72 L419.00,109.72 L419.50,109.72 L420.00,109.72 L420.50,109.72 L421.00,109.72 L421.50,109.72 L422.00,109.72 L422.50,109.72 L423.00,109.72 L423.50,109.72 L424.00,109.72 L424.50,109.72 L425.00,109.72 L425.50,109.72 L426.00,109.72 L426.50,109.72 L427.00,109.72 L427.50,109.72 L428.00,109.72 L428.50,109.72 L429.00,109.72 L429.50,109.72 L430.00,109.72 L430.50,109.72 L431.00,109.72 L431.50,109.72 L432.00,109.72 L432.50,109.72 L433.00,109.72 L433.50,109.72 L434.00,109.72 L434.50,109.72 L435.00,109.72 L435.50,109.72 L436.00,109.72 L436.50,109.72 L437.00,109.72 L437.50,109.72 L438.00,109.72 L438.50,109.72 L439.00,109.72 L439.50,109.72 L440.00,109.72 L440.50,109.72 L441.00,109.72 L441.50,109.72 L442.00,109.72 L442.50,109.72 L443.00,109.72 L443.50,109.72 L444.00,109.72 L444.50,109.72 L445.00,109.72 L445.50,109.72 L446.00,109.72 L446.50,109.72 L447.00,109.72 L447.50,109.72 L448.00,109.72 L448.50,109.72 L449.00,109.72 L449.50,109.72 L450.00,109.72 L450.50,109.72 L451.00,109.72 L451.50,109.72 L452.00,109.72 L452.50,109.72 L453.00,109.72 L453.50,109.72 L454.00,109.72 L454.50,109.72 L455.00,109.72 L455.50,109.72 L456.00,109.72 L456.50,109.72 L457.00,109.72 L457.50,109.72 L458.00,109.72 L458.50,109.72 L459.00,109.72 L459.50,109.72 L460.00,109.72 L460.50,109.72 L461.00,109.72 L461.50,109.72 L462.00,109.72 L462.50,109.72 L463.00,109.72 L463.50,109.72 L464.00,109.72 L464.50,109.72 L465.00,109.72 L465.50,109.72 L466.00,109.72 L466.50,109.72 L467.00,109.72 L467.50,109.72 L468.00,109.72 L468.50,109.72 L469.00,109.72 L469.00,109.72 Z" stroke="none" fill="#cfcf95" stroke-width="1" fill-opacity="1.0"/>
<line x1="348.50" y1="109.72" x2="469.00" y2="109.72" stroke="#dcdcb8" stroke-width="0.6" />
<text x="228.70" y="103.93" font-size="4.2" text-anchor="start" fill="#555" textLength="12.3" lengthAdjust="spacingAndGlyphs" >0 - 170</text>
<text x="348.80" y="103.93" font-size="4.2" text-anchor="start" fill="#555" textLength="12.3" lengthAdjust="spacingAndGlyphs" >0 - 170</text>
<path d="M229.00,120.68 L229.00,120.68 L229.50,120.68 L230.00,120.68 L230.50,120.68 L231.00,120.68 L231.50,120.68 L232.00,120.68 L232.50,120.68 L233.00,120.68 L233.50,120.68 L234.00,120.68 L234.50,120.68 L235.00,120.68 L235.50,120.68 L236.00,120.68 L236.50,120.68 L237.00,120.68 L237.50,120.68 L238.00,120.68 L238.50,120.68 L239.00,120.68 L239.50,120.68 L240.00,120.68 L240.50,120.68 L241.00,120.68 L241.50,120.68 L242.00,120.68 L242.50,120.68 L243.00,120.68 L243.50,120.68 L244.00,120.68 L244.50,120.68 L245.00,120.68 L245.50,120.68 L246.00,120.68 L246.50,120.68 L247.00,120.68 L247.50,120.68 L248.00,120.68 L248.50,120.68 L249.00,120.68 L249.50,120.68 L250.00,120.68 L250.50,120.68 L251.00,120.68 L251.50,120.68 L252.00,120.68 L252.50,120.68 L253.00,120.68 L253.50,120.68 L254.00,120.68 L254.50,120.68 L255.00,120.68 L255.50,120.67 L256.00,120.67 L256.50,120.66 L257.00,120.64 L257.50,120.62 L258.00,120.58 L258.50,120.49 L259.00,120.49 L259.50,120.35 L260.00,120.24 L260.50,120.14 L261.00,120.18 L261.50,120.10 L262.00,119.99 L262.50,120.17 L263.00,120.15 L263.50,120.18 L264.00,120.23 L264.50,120.42 L265.00,120.44 L265.50,120.54 L266.00,120.56 L266.50,120.57 L267.00,120.55 L267.50,120.51 L268.00,120.34 L268.50,120.12 L269.00,119.93 L269.50,119.64 L270.00,119.93 L270.50,119.82 L271.00,119.98 L271.50,120.22 L272.00,120.25 L272.50,120.47 L273.00,120.46 L273.50,120.41 L274.00,120.07 L274.50,119.75 L275.00,119.65 L275.50,119.06 L276.00,119.11 L276.50,119.42 L277.00,119.29 L277.50,119.67 L278.00,120.18 L278.50,120.31 L279.00,120.55 L279.50,120.61 L280.00,120.65 L280.50,120.67 L281.00,120.68 L281.50,120.68 L282.00,120.68 L282.50,120.68 L283.00,120.68 L283.50,120.68 L284.00,120.68 L284.50,120.68 L285.00,120.68 L285.50,120.68 L286.00,120.67 L286.50,120.65 L287.00,120.62 L287.50,120.55 L288.00,120.48 L288.50,120.35 L289.00,120.11 L289.50,120.17 L290.00,120.11 L290.50,120.20 L291.00,120.14 L291.50,120.39 L292.00,120.42 L292.50,120.55 L293.00,120.62 L293.50,120.65 L294.00,120.67 L294.50,120.68 L295.00,120.68 L295.50,120.68 L296.00,120.68 L296.50,120.68 L297.00,120.68 L297.50,120.68 L298.00,120.68 L298.50,120.68 L299.00,120.68 L299.50,120.68 L300.00,120.68 L300.50,120.68 L301.00,120.68 L301.50,120.68 L302.00,120.68 L302.50,120.68 L303.00,120.68 L303.50,120.68 L304.00,120.68 L304.50,120.68 L305.00,120.68 L305.50,120.68 L306.00,120.68 L306.50,120.68 L307.00,120.68 L307.50,120.68 L308.00,120.68 L308.50,120.68 L309.00,120.68 L309.50,120.68 L310.00,120.68 L310.50,120.68 L311.00,120.68 L311.50,120.68 L312.00,120.68 L312.50,120.68 L313.00,120.68 L313.50,120.68 L314.00,120.68 L314.50,120.68 L315.00,120.68 L315.50,120.68 L316.00,120.68 L316.50,120.68 L317.00,120.68 L317.50,120.68 L318.00,120.67 L318.50,120.65 L319.00,120.62 L319.50,120.55 L320.00,120.48 L320.50,120.33 L321.00,120.12 L321.50,120.18 L322.00,120.07 L322.50,120.08 L323.00,120.19 L323.50,120.35 L324.00,120.44 L324.50,120.55 L325.00,120.62 L325.50,120.65 L326.00,120.67 L326.50,120.68 L327.00,120.68 L327.50,120.68 L328.00,120.68 L328.50,120.68 L329.00,120.68 L329.50,120.68 L330.00,120.68 L330.50,120.68 L331.00,120.68 L331.50,120.68 L332.00,120.68 L332.50,120.68 L333.00,120.68 L333.50,120.68 L334.00,120.68 L334.50,120.68 L335.00,120.68 L335.50,120.68 L336.00,120.68 L336.50,120.68 L337.00,120.68 L337.50,120.68 L338.00,120.68 L338.50,120.68 L339.00,120.68 L339.50,120.68 L340.00,120.68 L340.50,120.68 L341.00,120.68 L341.50,120.68 L341.50,120.68 Z" stroke="none" fill="#8e2f74" stroke-width="1" fill-opacity="1.0"/>
<line x1="229.00" y1="120.68" x2="341.50" y2="120.68" stroke="#a07aa0" stroke-width="0.6" />
<path d="M348.50,120.68 L348.50,120.68 L349.00,120.68 L349.50,120.68 L350.00,120.68 L350.50,120.68 L351.00,120.68 L351.50,120.68 L352.00,120.68 L352.50,120.68 L353.00,120.68 L353.50,120.68 L354.00,120.68 L354.50,120.68 L355.00,120.68 L355.50,120.68 L356.00,120.68 L356.50,120.68 L357.00,120.68 L357.50,120.68 L358.00,120.68 L358.50,120.68 L359.00,120.68 L359.50,120.68 L360.00,120.68 L360.50,120.68 L361.00,120.68 L361.50,120.68 L362.00,120.68 L362.50,120.68 L363.00,120.68 L363.50,120.68 L364.00,120.68 L364.50,120.68 L365.00,120.68 L365.50,120.68 L366.00,120.68 L366.50,120.68 L367.00,120.68 L367.50,120.68 L368.00,120.68 L368.50,120.68 L369.00,120.68 L369.50,120.68 L370.00,120.68 L370.50,120.68 L371.00,120.68 L371.50,120.68 L372.00,120.68 L372.50,120.68 L373.00,120.68 L373.50,120.68 L374.00,120.68 L374.50,120.68 L375.00,120.68 L375.50,120.68 L376.00,120.68 L376.50,120.68 L377.00,120.68 L377.50,120.68 L378.00,120.68 L378.50,120.68 L379.00,120.68 L379.50,120.68 L380.00,120.68 L380.50,120.68 L381.00,120.68 L381.50,120.68 L382.00,120.68 L382.50,120.68 L383.00,120.68 L383.50,120.68 L384.00,120.68 L384.50,120.68 L385.00,120.68 L385.50,120.68 L386.00,120.68 L386.50,120.68 L387.00,120.68 L387.50,120.68 L388.00,120.68 L388.50,120.68 L389.00,120.68 L389.50,120.68 L390.00,120.68 L390.50,120.68 L391.00,120.68 L391.50,120.68 L392.00,120.68 L392.50,120.68 L393.00,120.68 L393.50,120.68 L394.00,120.67 L394.50,120.66 L395.00,120.65 L395.50,120.63 L396.00,120.61 L396.50,120.57 L397.00,120.53 L397.50,120.50 L398.00,120.47 L398.50,120.32 L399.00,120.27 L399.50,120.19 L400.00,120.32 L400.50,120.22 L401.00,120.30 L401.50,120.33 L402.00,120.35 L402.50,120.46 L403.00,120.52 L403.50,120.57 L404.00,120.61 L404.50,120.63 L405.00,120.65 L405.50,120.66 L406.00,120.67 L406.50,120.68 L407.00,120.68 L407.50,120.68 L408.00,120.68 L408.50,120.68 L409.00,120.68 L409.50,120.68 L410.00,120.68 L410.50,120.68 L411.00,120.68 L411.50,120.68 L412.00,120.68 L412.50,120.68 L413.00,120.68 L413.50,120.68 L414.00,120.67 L414.50,120.66 L415.00,120.65 L415.50,120.63 L416.00,120.61 L416.50,120.57 L417.00,120.51 L417.50,120.50 L418.00,120.35 L418.50,120.33 L419.00,120.38 L419.50,120.26 L420.00,120.14 L420.50,120.15 L421.00,120.30 L421.50,120.38 L422.00,120.34 L422.50,120.48 L423.00,120.56 L423.50,120.57 L424.00,120.61 L424.50,120.63 L425.00,120.65 L425.50,120.66 L426.00,120.67 L426.50,120.68 L427.00,120.68 L427.50,120.68 L428.00,120.68 L428.50,120.68 L429.00,120.68 L429.50,120.68 L430.00,120.68 L430.50,120.68 L431.00,120.68 L431.50,120.68 L432.00,120.68 L432.50,120.68 L433.00,120.68 L433.50,120.68 L434.00,120.68 L434.50,120.68 L435.00,120.68 L435.50,120.68 L436.00,120.68 L436.50,120.68 L437.00,120.68 L437.50,120.68 L438.00,120.68 L438.50,120.68 L439.00,120.68 L439.50,120.68 L440.00,120.68 L440.50,120.68 L441.00,120.68 L441.50,120.68 L442.00,120.68 L442.50,120.68 L443.00,120.68 L443.50,120.68 L444.00,120.68 L444.50,120.68 L445.00,120.68 L445.50,120.68 L446.00,120.68 L446.50,120.68 L447.00,120.68 L447.50,120.68 L448.00,120.68 L448.50,120.68 L449.00,120.68 L449.50,120.68 L450.00,120.68 L450.50,120.68 L451.00,120.68 L451.50,120.68 L452.00,120.68 L452.50,120.68 L453.00,120.68 L453.50,120.68 L454.00,120.68 L454.50,120.68 L455.00,120.68 L455.50,120.68 L456.00,120.68 L456.50,120.68 L457.00,120.68 L457.50,120.68 L458.00,120.68 L458.50,120.68 L459.00,120.68 L459.50,120.68 L460.00,120.68 L460.50,120.68 L461.00,120.68 L461.50,120.68 L462.00,120.68 L462.50,120.68 L463.00,120.68 L463.50,120.68 L464.00,120.68 L464.50,120.68 L465.00,120.68 L465.50,120.68 L466.00,120.68 L466.50,120.68 L467.00,120.68 L467.50,120.68 L468.00,120.68 L468.50,120.68 L469.00,120.68 L469.00,120.68 Z" stroke="none" fill="#8e2f74" stroke-width="1" fill-opacity="1.0"/>
<line x1="348.50" y1="120.68" x2="469.00" y2="120.68" stroke="#a07aa0" stroke-width="0.6" />
<text x="228.70" y="114.89" font-size="4.2" text-anchor="start" fill="#555" textLength="12.3" lengthAdjust="spacingAndGlyphs" >0 - 170</text>
<text x="348.80" y="114.89" font-size="4.2" text-anchor="start" fill="#555" textLength="12.3" lengthAdjust="spacingAndGlyphs" >0 - 170</text>
<path d="M229.00,131.64 L229.00,131.64 L229.50,131.64 L230.00,131.64 L230.50,131.64 L231.00,131.64 L231.50,131.64 L232.00,131.64 L232.50,131.64 L233.00,131.64 L233.50,131.64 L234.00,131.64 L234.50,131.64 L235.00,131.64 L235.50,131.64 L236.00,131.64 L236.50,131.64 L237.00,131.64 L237.50,131.64 L238.00,131.64 L238.50,131.64 L239.00,131.64 L239.50,131.64 L240.00,131.64 L240.50,131.64 L241.00,131.64 L241.50,131.64 L242.00,131.64 L242.50,131.64 L243.00,131.64 L243.50,131.64 L244.00,131.64 L244.50,131.64 L245.00,131.64 L245.50,131.64 L246.00,131.64 L246.50,131.64 L247.00,131.64 L247.50,131.64 L248.00,131.64 L248.50,131.64 L249.00,131.64 L249.50,131.64 L250.00,131.64 L250.50,131.64 L251.00,131.64 L251.50,131.64 L252.00,131.63 L252.50,131.63 L253.00,131.62 L253.50,131.60 L254.00,131.57 L254.50,131.54 L255.00,131.49 L255.50,131.47 L256.00,131.39 L256.50,131.30 L257.00,131.36 L257.50,131.28 L258.00,131.19 L258.50,131.28 L259.00,131.34 L259.50,131.30 L260.00,131.39 L260.50,131.42 L261.00,131.49 L261.50,131.54 L262.00,131.57 L262.50,131.60 L263.00,131.62 L263.50,131.63 L264.00,131.63 L264.50,131.64 L265.00,131.64 L265.50,131.64 L266.00,131.64 L266.50,131.64 L267.00,131.64 L267.50,131.64 L268.00,131.64 L268.50,131.64 L269.00,131.64 L269.50,131.64 L270.00,131.64 L270.50,131.64 L271.00,131.64 L271.50,131.64 L272.00,131.64 L272.50,131.64 L273.00,131.64 L273.50,131.64 L274.00,131.64 L274.50,131.64 L275.00,131.64 L275.50,131.64 L276.00,131.64 L276.50,131.64 L277.00,131.64 L277.50,131.64 L278.00,131.64 L278.50,131.64 L279.00,131.64 L279.50,131.64 L280.00,131.63 L280.50,131.62 L281.00,131.61 L281.50,131.59 L282.00,131.56 L282.50,131.51 L283.00,131.46 L283.50,131.35 L284.00,131.32 L284.50,131.16 L285.00,131.12 L285.50,131.10 L286.00,131.14 L286.50,131.13 L287.00,131.22 L287.50,131.33 L288.00,131.26 L288.50,131.35 L289.00,131.43 L289.50,131.51 L290.00,131.56 L290.50,131.59 L291.00,131.61 L291.50,131.62 L292.00,131.63 L292.50,131.64 L293.00,131.64 L293.50,131.64 L294.00,131.64 L294.50,131.64 L295.00,131.64 L295.50,131.64 L296.00,131.64 L296.50,131.64 L297.00,131.64 L297.50,131.64 L298.00,131.64 L298.50,131.64 L299.00,131.64 L299.50,131.64 L300.00,131.64 L300.50,131.64 L301.00,131.64 L301.50,131.64 L302.00,131.64 L302.50,131.64 L303.00,131.64 L303.50,131.64 L304.00,131.64 L304.50,131.64 L305.00,131.64 L305.50,131.64 L306.00,131.64 L306.50,131.64 L307.00,131.64 L307.50,131.64 L308.00,131.64 L308.50,131.64 L309.00,131.64 L309.50,131.64 L310.00,131.64 L310.50,131.64 L311.00,131.64 L311.50,131.64 L312.00,131.64 L312.50,131.64 L313.00,131.64 L313.50,131.64 L314.00,131.64 L314.50,131.64 L315.00,131.64 L315.50,131.64 L316.00,131.64 L316.50,131.64 L317.00,131.64 L317.50,131.64 L318.00,131.64 L318.50,131.64 L319.00,131.64 L319.50,131.64 L320.00,131.64 L320.50,131.64 L321.00,131.63 L321.50,131.62 L322.00,131.60 L322.50,131.56 L323.00,131.49 L323.50,131.37 L324.00,131.32 L324.50,131.17 L325.00,131.25 L325.50,131.17 L326.00,131.39 L326.50,131.43 L327.00,131.49 L327.50,131.56 L328.00,131.60 L328.50,131.62 L329.00,131.63 L329.50,131.64 L330.00,131.64 L330.50,131.64 L331.00,131.64 L331.50,131.64 L332.00,131.64 L332.50,131.64 L333.00,131.64 L333.50,131.64 L334.00,131.64 L334.50,131.64 L335.00,131.64 L335.50,131.64 L336.00,131.64 L336.50,131.64 L337.00,131.64 L337.50,131.64 L338.00,131.64 L338.50,131.64 L339.00,131.64 L339.50,131.64 L340.00,131.64 L340.50,131.64 L341.00,131.64 L341.50,131.64 L341.50,131.64 Z" stroke="none" fill="#9d76b5" stroke-width="1" fill-opacity="1.0"/>
<line x1="229.00" y1="131.64" x2="341.50" y2="131.64" stroke="#c0a8cc" stroke-width="0.6" />
<path d="M348.50,131.64 L348.50,131.64 L349.00,131.64 L349.50,131.64 L350.00,131.64 L350.50,131.64 L351.00,131.64 L351.50,131.64 L352.00,131.64 L352.50,131.64 L353.00,131.64 L353.50,131.64 L354.00,131.64 L354.50,131.64 L355.00,131.64 L355.50,131.64 L356.00,131.64 L356.50,131.64 L357.00,131.64 L357.50,131.64 L358.00,131.64 L358.50,131.64 L359.00,131.64 L359.50,131.64 L360.00,131.64 L360.50,131.64 L361.00,131.64 L361.50,131.64 L362.00,131.64 L362.50,131.64 L363.00,131.64 L363.50,131.64 L364.00,131.64 L364.50,131.64 L365.00,131.64 L365.50,131.64 L366.00,131.64 L366.50,131.64 L367.00,131.64 L367.50,131.64 L368.00,131.64 L368.50,131.64 L369.00,131.64 L369.50,131.64 L370.00,131.64 L370.50,131.64 L371.00,131.64 L371.50,131.64 L372.00,131.64 L372.50,131.64 L373.00,131.64 L373.50,131.64 L374.00,131.64 L374.50,131.64 L375.00,131.64 L375.50,131.64 L376.00,131.64 L376.50,131.64 L377.00,131.64 L377.50,131.64 L378.00,131.64 L378.50,131.64 L379.00,131.64 L379.50,131.64 L380.00,131.64 L380.50,131.64 L381.00,131.64 L381.50,131.64 L382.00,131.64 L382.50,131.64 L383.00,131.64 L383.50,131.64 L384.00,131.64 L384.50,131.64 L385.00,131.64 L385.50,131.63 L386.00,131.63 L386.50,131.62 L387.00,131.61 L387.50,131.58 L388.00,131.55 L388.50,131.50 L389.00,131.43 L389.50,131.32 L390.00,131.28 L390.50,131.15 L391.00,131.18 L391.50,131.06 L392.00,131.01 L392.50,131.08 L393.00,131.27 L393.50,131.18 L394.00,131.38 L394.50,131.39 L395.00,131.48 L395.50,131.50 L396.00,131.55 L396.50,131.58 L397.00,131.61 L397.50,131.62 L398.00,131.63 L398.50,131.63 L399.00,131.64 L399.50,131.64 L400.00,131.64 L400.50,131.64 L401.00,131.64 L401.50,131.64 L402.00,131.64 L402.50,131.64 L403.00,131.64 L403.50,131.63 L404.00,131.62 L404.50,131.61 L405.00,131.58 L405.50,131.54 L406.00,131.45 L406.50,131.43 L407.00,131.24 L407.50,131.25 L408.00,131.10 L408.50,130.79 L409.00,130.57 L409.50,130.88 L410.00,130.59 L410.50,130.73 L411.00,130.70 L411.50,131.03 L412.00,131.16 L412.50,131.25 L413.00,131.20 L413.50,131.39 L414.00,131.46 L414.50,131.54 L415.00,131.58 L415.50,131.60 L416.00,131.61 L416.50,131.59 L417.00,131.55 L417.50,131.51 L418.00,131.33 L418.50,131.11 L419.00,131.13 L419.50,130.82 L420.00,130.74 L420.50,130.74 L421.00,131.02 L421.50,131.17 L422.00,131.38 L422.50,131.46 L423.00,131.56 L423.50,131.60 L424.00,131.63 L424.50,131.64 L425.00,131.64 L425.50,131.64 L426.00,131.64 L426.50,131.64 L427.00,131.64 L427.50,131.64 L428.00,131.64 L428.50,131.64 L429.00,131.64 L429.50,131.64 L430.00,131.64 L430.50,131.64 L431.00,131.64 L431.50,131.64 L432.00,131.64 L432.50,131.64 L433.00,131.64 L433.50,131.64 L434.00,131.64 L434.50,131.64 L435.00,131.64 L435.50,131.64 L436.00,131.64 L436.50,131.64 L437.00,131.64 L437.50,131.64 L438.00,131.64 L438.50,131.64 L439.00,131.64 L439.50,131.64 L440.00,131.64 L440.50,131.64 L441.00,131.63 L441.50,131.62 L442.00,131.59 L442.50,131.55 L443.00,131.49 L443.50,131.37 L444.00,131.28 L444.50,131.13 L445.00,131.14 L445.50,131.31 L446.00,131.35 L446.50,131.41 L447.00,131.49 L447.50,131.55 L448.00,131.59 L448.50,131.62 L449.00,131.63 L449.50,131.64 L450.00,131.64 L450.50,131.64 L451.00,131.64 L451.50,131.64 L452.00,131.64 L452.50,131.64 L453.00,131.64 L453.50,131.64 L454.00,131.64 L454.50,131.64 L455.00,131.64 L455.50,131.64 L456.00,131.64 L456.50,131.64 L457.00,131.64 L457.50,131.64 L458.00,131.64 L458.50,131.64 L459.00,131.64 L459.50,131.64 L460.00,131.64 L460.50,131.64 L461.00,131.64 L461.50,131.64 L462.00,131.64 L462.50,131.64 L463.00,131.64 L463.50,131.64 L464.00,131.64 L464.50,131.64 L465.00,131.64 L465.50,131.64 L466.00,131.64 L466.50,131.64 L467.00,131.64 L467.50,131.64 L468.00,131.64 L468.50,131.64 L469.00,131.64 L469.00,131.64 Z" stroke="none" fill="#9d76b5" stroke-width="1" fill-opacity="1.0"/>
<line x1="348.50" y1="131.64" x2="469.00" y2="131.64" stroke="#c0a8cc" stroke-width="0.6" />
<text x="228.70" y="125.85" font-size="4.2" text-anchor="start" fill="#555" textLength="12.3" lengthAdjust="spacingAndGlyphs" >0 - 170</text>
<text x="348.80" y="125.85" font-size="4.2" text-anchor="start" fill="#555" textLength="12.3" lengthAdjust="spacingAndGlyphs" >0 - 170</text>
<path d="M229.00,142.60 L229.00,142.60 L229.50,142.60 L230.00,142.60 L230.50,142.60 L231.00,142.60 L231.50,142.60 L232.00,142.60 L232.50,142.60 L233.00,142.60 L233.50,142.60 L234.00,142.60 L234.50,142.60 L235.00,142.60 L235.50,142.60 L236.00,142.60 L236.50,142.60 L237.00,142.60 L237.50,142.60 L238.00,142.60 L238.50,142.60 L239.00,142.60 L239.50,142.60 L240.00,142.60 L240.50,142.60 L241.00,142.60 L241.50,142.60 L242.00,142.60 L242.50,142.60 L243.00,142.60 L243.50,142.60 L244.00,142.60 L244.50,142.60 L245.00,142.60 L245.50,142.60 L246.00,142.60 L246.50,142.60 L247.00,142.60 L247.50,142.60 L248.00,142.60 L248.50,142.60 L249.00,142.60 L249.50,142.60 L250.00,142.60 L250.50,142.60 L251.00,142.60 L251.50,142.60 L252.00,142.60 L252.50,142.60 L253.00,142.60 L253.50,142.60 L254.00,142.60 L254.50,142.60 L255.00,142.60 L255.50,142.60 L256.00,142.60 L256.50,142.60 L257.00,142.59 L257.50,142.59 L258.00,142.58 L258.50,142.57 L259.00,142.56 L259.50,142.54 L260.00,142.52 L260.50,142.49 L261.00,142.45 L261.50,142.39 L262.00,142.40 L262.50,142.32 L263.00,142.30 L263.50,142.29 L264.00,142.20 L264.50,142.22 L265.00,142.10 L265.50,142.28 L266.00,142.15 L266.50,142.23 L267.00,142.29 L267.50,142.39 L268.00,142.35 L268.50,142.38 L269.00,142.45 L269.50,142.47 L270.00,142.48 L270.50,142.48 L271.00,142.46 L271.50,142.39 L272.00,142.33 L272.50,142.30 L273.00,141.98 L273.50,141.93 L274.00,141.60 L274.50,141.10 L275.00,140.58 L275.50,139.99 L276.00,139.49 L276.50,138.38 L277.00,137.81 L277.50,136.78 L278.00,136.25 L278.50,135.82 L279.00,136.10 L279.50,136.72 L280.00,137.48 L280.50,138.63 L281.00,139.45 L281.50,140.36 L282.00,140.84 L282.50,141.38 L283.00,141.48 L283.50,142.00 L284.00,141.97 L284.50,142.22 L285.00,142.36 L285.50,142.47 L286.00,142.50 L286.50,142.54 L287.00,142.56 L287.50,142.58 L288.00,142.59 L288.50,142.59 L289.00,142.60 L289.50,142.60 L290.00,142.60 L290.50,142.60 L291.00,142.60 L291.50,142.60 L292.00,142.59 L292.50,142.59 L293.00,142.59 L293.50,142.58 L294.00,142.57 L294.50,142.55 L295.00,142.54 L295.50,142.52 L296.00,142.49 L296.50,142.46 L297.00,142.43 L297.50,142.39 L298.00,142.41 L298.50,142.28 L299.00,142.34 L299.50,142.31 L300.00,142.33 L300.50,142.32 L301.00,142.35 L301.50,142.29 L302.00,142.42 L302.50,142.41 L303.00,142.42 L303.50,142.46 L304.00,142.49 L304.50,142.52 L305.00,142.54 L305.50,142.55 L306.00,142.57 L306.50,142.58 L307.00,142.59 L307.50,142.59 L308.00,142.59 L308.50,142.60 L309.00,142.60 L309.50,142.60 L310.00,142.60 L310.50,142.60 L311.00,142.60 L311.50,142.60 L312.00,142.60 L312.50,142.60 L313.00,142.60 L313.50,142.60 L314.00,142.60 L314.50,142.60 L315.00,142.60 L315.50,142.60 L316.00,142.60 L316.50,142.60 L317.00,142.60 L317.50,142.60 L318.00,142.60 L318.50,142.60 L319.00,142.60 L319.50,142.60 L320.00,142.60 L320.50,142.60 L321.00,142.60 L321.50,142.60 L322.00,142.60 L322.50,142.60 L323.00,142.60 L323.50,142.60 L324.00,142.60 L324.50,142.60 L325.00,142.60 L325.50,142.60 L326.00,142.60 L326.50,142.60 L327.00,142.60 L327.50,142.60 L328.00,142.60 L328.50,142.60 L329.00,142.60 L329.50,142.60 L330.00,142.60 L330.50,142.60 L331.00,142.60 L331.50,142.60 L332.00,142.60 L332.50,142.60 L333.00,142.60 L333.50,142.60 L334.00,142.60 L334.50,142.60 L335.00,142.60 L335.50,142.60 L336.00,142.60 L336.50,142.60 L337.00,142.60 L337.50,142.60 L338.00,142.60 L338.50,142.60 L339.00,142.60 L339.50,142.60 L340.00,142.60 L340.50,142.60 L341.00,142.60 L341.50,142.60 L341.50,142.60 Z" stroke="none" fill="#ef6a23" stroke-width="1" fill-opacity="1.0"/>
<line x1="229.00" y1="142.60" x2="341.50" y2="142.60" stroke="#f0a078" stroke-width="0.6" />
<path d="M348.50,142.60 L348.50,142.60 L349.00,142.60 L349.50,142.60 L350.00,142.60 L350.50,142.60 L351.00,142.60 L351.50,142.60 L352.00,142.60 L352.50,142.60 L353.00,142.60 L353.50,142.60 L354.00,142.60 L354.50,142.60 L355.00,142.60 L355.50,142.60 L356.00,142.60 L356.50,142.60 L357.00,142.60 L357.50,142.60 L358.00,142.60 L358.50,142.60 L359.00,142.60 L359.50,142.60 L360.00,142.60 L360.50,142.60 L361.00,142.60 L361.50,142.60 L362.00,142.60 L362.50,142.60 L363.00,142.60 L363.50,142.60 L364.00,142.60 L364.50,142.60 L365.00,142.60 L365.50,142.60 L366.00,142.60 L366.50,142.60 L367.00,142.60 L367.50,142.60 L368.00,142.60 L368.50,142.60 L369.00,142.60 L369.50,142.60 L370.00,142.60 L370.50,142.60 L371.00,142.60 L371.50,142.60 L372.00,142.60 L372.50,142.60 L373.00,142.60 L373.50,142.60 L374.00,142.60 L374.50,142.60 L375.00,142.60 L375.50,142.60 L376.00,142.60 L376.50,142.60 L377.00,142.60 L377.50,142.60 L378.00,142.60 L378.50,142.60 L379.00,142.60 L379.50,142.60 L380.00,142.60 L380.50,142.60 L381.00,142.60 L381.50,142.60 L382.00,142.60 L382.50,142.60 L383.00,142.60 L383.50,142.60 L384.00,142.60 L384.50,142.60 L385.00,142.60 L385.50,142.60 L386.00,142.60 L386.50,142.60 L387.00,142.60 L387.50,142.60 L388.00,142.60 L388.50,142.60 L389.00,142.60 L389.50,142.60 L390.00,142.60 L390.50,142.60 L391.00,142.60 L391.50,142.60 L392.00,142.60 L392.50,142.60 L393.00,142.60 L393.50,142.60 L394.00,142.60 L394.50,142.60 L395.00,142.60 L395.50,142.60 L396.00,142.60 L396.50,142.60 L397.00,142.60 L397.50,142.60 L398.00,142.60 L398.50,142.60 L399.00,142.60 L399.50,142.60 L400.00,142.60 L400.50,142.59 L401.00,142.58 L401.50,142.54 L402.00,142.46 L402.50,142.33 L403.00,142.16 L403.50,141.85 L404.00,141.79 L404.50,141.46 L405.00,141.31 L405.50,141.23 L406.00,141.61 L406.50,141.88 L407.00,142.08 L407.50,142.35 L408.00,142.46 L408.50,142.54 L409.00,142.58 L409.50,142.59 L410.00,142.60 L410.50,142.60 L411.00,142.60 L411.50,142.60 L412.00,142.60 L412.50,142.60 L413.00,142.60 L413.50,142.60 L414.00,142.60 L414.50,142.60 L415.00,142.60 L415.50,142.60 L416.00,142.60 L416.50,142.60 L417.00,142.60 L417.50,142.60 L418.00,142.60 L418.50,142.60 L419.00,142.60 L419.50,142.60 L420.00,142.60 L420.50,142.60 L421.00,142.60 L421.50,142.60 L422.00,142.60 L422.50,142.60 L423.00,142.60 L423.50,142.60 L424.00,142.60 L424.50,142.60 L425.00,142.60 L425.50,142.60 L426.00,142.60 L426.50,142.60 L427.00,142.60 L427.50,142.60 L428.00,142.60 L428.50,142.60 L429.00,142.60 L429.50,142.60 L430.00,142.60 L430.50,142.60 L431.00,142.60 L431.50,142.60 L432.00,142.60 L432.50,142.60 L433.00,142.60 L433.50,142.60 L434.00,142.60 L434.50,142.60 L435.00,142.60 L435.50,142.60 L436.00,142.60 L436.50,142.60 L437.00,142.60 L437.50,142.60 L438.00,142.60 L438.50,142.60 L439.00,142.60 L439.50,142.60 L440.00,142.60 L440.50,142.60 L441.00,142.60 L441.50,142.60 L442.00,142.60 L442.50,142.60 L443.00,142.60 L443.50,142.60 L444.00,142.60 L444.50,142.60 L445.00,142.60 L445.50,142.60 L446.00,142.60 L446.50,142.60 L447.00,142.60 L447.50,142.60 L448.00,142.60 L448.50,142.60 L449.00,142.60 L449.50,142.60 L450.00,142.60 L450.50,142.60 L451.00,142.60 L451.50,142.60 L452.00,142.60 L452.50,142.60 L453.00,142.60 L453.50,142.60 L454.00,142.60 L454.50,142.60 L455.00,142.60 L455.50,142.60 L456.00,142.60 L456.50,142.60 L457.00,142.60 L457.50,142.60 L458.00,142.60 L458.50,142.60 L459.00,142.60 L459.50,142.60 L460.00,142.60 L460.50,142.60 L461.00,142.60 L461.50,142.60 L462.00,142.60 L462.50,142.60 L463.00,142.60 L463.50,142.60 L464.00,142.60 L464.50,142.60 L465.00,142.60 L465.50,142.60 L466.00,142.60 L466.50,142.60 L467.00,142.60 L467.50,142.60 L468.00,142.60 L468.50,142.60 L469.00,142.60 L469.00,142.60 Z" stroke="none" fill="#ef6a23" stroke-width="1" fill-opacity="1.0"/>
<line x1="348.50" y1="142.60" x2="469.00" y2="142.60" stroke="#f0a078" stroke-width="0.6" />
<text x="228.70" y="136.81" font-size="4.2" text-anchor="start" fill="#555" textLength="12.3" lengthAdjust="spacingAndGlyphs" >0 - 170</text>
<text x="348.80" y="136.81" font-size="4.2" text-anchor="start" fill="#555" textLength="12.3" lengthAdjust="spacingAndGlyphs" >0 - 170</text>
<path d="M229.00,153.56 L229.00,153.56 L229.50,153.56 L230.00,153.56 L230.50,153.56 L231.00,153.56 L231.50,153.56 L232.00,153.56 L232.50,153.56 L233.00,153.56 L233.50,153.56 L234.00,153.56 L234.50,153.56 L235.00,153.56 L235.50,153.56 L236.00,153.56 L236.50,153.56 L237.00,153.56 L237.50,153.56 L238.00,153.56 L238.50,153.56 L239.00,153.56 L239.50,153.56 L240.00,153.56 L240.50,153.56 L241.00,153.56 L241.50,153.56 L242.00,153.56 L242.50,153.56 L243.00,153.56 L243.50,153.56 L244.00,153.56 L244.50,153.56 L245.00,153.56 L245.50,153.56 L246.00,153.56 L246.50,153.56 L247.00,153.56 L247.50,153.56 L248.00,153.56 L248.50,153.56 L249.00,153.56 L249.50,153.56 L250.00,153.56 L250.50,153.56 L251.00,153.56 L251.50,153.56 L252.00,153.56 L252.50,153.56 L253.00,153.56 L253.50,153.55 L254.00,153.55 L254.50,153.55 L255.00,153.54 L255.50,153.52 L256.00,153.51 L256.50,153.48 L257.00,153.46 L257.50,153.42 L258.00,153.37 L258.50,153.36 L259.00,153.26 L259.50,153.22 L260.00,153.14 L260.50,153.04 L261.00,153.02 L261.50,152.95 L262.00,153.13 L262.50,152.96 L263.00,153.10 L263.50,153.15 L264.00,153.18 L264.50,153.15 L265.00,153.21 L265.50,153.29 L266.00,153.39 L266.50,153.42 L267.00,153.45 L267.50,153.48 L268.00,153.50 L268.50,153.51 L269.00,153.51 L269.50,153.50 L270.00,153.48 L270.50,153.45 L271.00,153.42 L271.50,153.35 L272.00,153.16 L272.50,152.98 L273.00,152.99 L273.50,152.81 L274.00,151.98 L274.50,151.87 L275.00,151.46 L275.50,150.52 L276.00,149.80 L276.50,148.38 L277.00,147.39 L277.50,146.31 L278.00,145.41 L278.50,145.55 L279.00,145.77 L279.50,146.22 L280.00,147.35 L280.50,148.56 L281.00,149.67 L281.50,150.44 L282.00,151.01 L282.50,151.57 L283.00,152.02 L283.50,152.33 L284.00,152.97 L284.50,153.16 L285.00,153.13 L285.50,153.34 L286.00,153.39 L286.50,153.45 L287.00,153.49 L287.50,153.52 L288.00,153.54 L288.50,153.55 L289.00,153.55 L289.50,153.56 L290.00,153.56 L290.50,153.56 L291.00,153.56 L291.50,153.55 L292.00,153.55 L292.50,153.55 L293.00,153.54 L293.50,153.52 L294.00,153.51 L294.50,153.48 L295.00,153.46 L295.50,153.42 L296.00,153.38 L296.50,153.27 L297.00,153.28 L297.50,153.28 L298.00,153.23 L298.50,153.04 L299.00,153.02 L299.50,153.16 L300.00,152.94 L300.50,153.10 L301.00,153.04 L301.50,153.11 L302.00,153.10 L302.50,153.22 L303.00,153.34 L303.50,153.32 L304.00,153.34 L304.50,153.42 L305.00,153.46 L305.50,153.48 L306.00,153.51 L306.50,153.52 L307.00,153.54 L307.50,153.55 L308.00,153.55 L308.50,153.55 L309.00,153.56 L309.50,153.56 L310.00,153.56 L310.50,153.56 L311.00,153.56 L311.50,153.56 L312.00,153.56 L312.50,153.56 L313.00,153.56 L313.50,153.56 L314.00,153.56 L314.50,153.56 L315.00,153.56 L315.50,153.56 L316.00,153.56 L316.50,153.56 L317.00,153.56 L317.50,153.56 L318.00,153.56 L318.50,153.56 L319.00,153.56 L319.50,153.56 L320.00,153.56 L320.50,153.56 L321.00,153.56 L321.50,153.56 L322.00,153.56 L322.50,153.56 L323.00,153.56 L323.50,153.56 L324.00,153.56 L324.50,153.56 L325.00,153.56 L325.50,153.56 L326.00,153.56 L326.50,153.56 L327.00,153.56 L327.50,153.56 L328.00,153.56 L328.50,153.56 L329.00,153.56 L329.50,153.56 L330.00,153.56 L330.50,153.56 L331.00,153.56 L331.50,153.56 L332.00,153.56 L332.50,153.56 L333.00,153.56 L333.50,153.56 L334.00,153.56 L334.50,153.56 L335.00,153.56 L335.50,153.56 L336.00,153.56 L336.50,153.56 L337.00,153.56 L337.50,153.56 L338.00,153.56 L338.50,153.56 L339.00,153.56 L339.50,153.56 L340.00,153.56 L340.50,153.56 L341.00,153.56 L341.50,153.56 L341.50,153.56 Z" stroke="none" fill="#f39a12" stroke-width="1" fill-opacity="1.0"/>
<line x1="229.00" y1="153.56" x2="341.50" y2="153.56" stroke="#f0c080" stroke-width="0.6" />
<path d="M348.50,153.56 L348.50,153.56 L349.00,153.56 L349.50,153.56 L350.00,153.56 L350.50,153.56 L351.00,153.56 L351.50,153.56 L352.00,153.56 L352.50,153.56 L353.00,153.56 L353.50,153.56 L354.00,153.56 L354.50,153.56 L355.00,153.56 L355.50,153.56 L356.00,153.56 L356.50,153.56 L357.00,153.56 L357.50,153.56 L358.00,153.56 L358.50,153.56 L359.00,153.56 L359.50,153.56 L360.00,153.56 L360.50,153.56 L361.00,153.56 L361.50,153.56 L362.00,153.56 L362.50,153.56 L363.00,153.56 L363.50,153.56 L364.00,153.56 L364.50,153.56 L365.00,153.56 L365.50,153.56 L366.00,153.56 L366.50,153.56 L367.00,153.56 L367.50,153.56 L368.00,153.56 L368.50,153.56 L369.00,153.56 L369.50,153.56 L370.00,153.56 L370.50,153.56 L371.00,153.56 L371.50,153.56 L372.00,153.56 L372.50,153.56 L373.00,153.56 L373.50,153.56 L374.00,153.56 L374.50,153.56 L375.00,153.56 L375.50,153.56 L376.00,153.56 L376.50,153.56 L377.00,153.56 L377.50,153.56 L378.00,153.56 L378.50,153.56 L379.00,153.56 L379.50,153.56 L380.00,153.56 L380.50,153.56 L381.00,153.56 L381.50,153.56 L382.00,153.56 L382.50,153.56 L383.00,153.56 L383.50,153.56 L384.00,153.56 L384.50,153.56 L385.00,153.56 L385.50,153.56 L386.00,153.56 L386.50,153.55 L387.00,153.54 L387.50,153.53 L388.00,153.51 L388.50,153.47 L389.00,153.41 L389.50,153.34 L390.00,153.18 L390.50,153.13 L391.00,153.04 L391.50,152.92 L392.00,152.88 L392.50,152.70 L393.00,152.48 L393.50,152.66 L394.00,152.67 L394.50,152.98 L395.00,153.03 L395.50,153.10 L396.00,153.25 L396.50,153.38 L397.00,153.36 L397.50,153.43 L398.00,153.45 L398.50,153.45 L399.00,153.43 L399.50,153.42 L400.00,153.31 L400.50,153.17 L401.00,153.19 L401.50,153.09 L402.00,152.91 L402.50,152.54 L403.00,151.86 L403.50,151.59 L404.00,150.70 L404.50,149.65 L405.00,149.66 L405.50,149.71 L406.00,150.33 L406.50,151.44 L407.00,152.02 L407.50,152.00 L408.00,152.07 L408.50,152.24 L409.00,152.38 L409.50,152.59 L410.00,152.44 L410.50,152.73 L411.00,152.74 L411.50,152.97 L412.00,152.94 L412.50,153.10 L413.00,153.25 L413.50,153.36 L414.00,153.44 L414.50,153.46 L415.00,153.50 L415.50,153.53 L416.00,153.54 L416.50,153.55 L417.00,153.56 L417.50,153.56 L418.00,153.56 L418.50,153.56 L419.00,153.56 L419.50,153.56 L420.00,153.56 L420.50,153.56 L421.00,153.56 L421.50,153.56 L422.00,153.56 L422.50,153.56 L423.00,153.56 L423.50,153.56 L424.00,153.56 L424.50,153.56 L425.00,153.56 L425.50,153.56 L426.00,153.56 L426.50,153.56 L427.00,153.56 L427.50,153.56 L428.00,153.56 L428.50,153.56 L429.00,153.56 L429.50,153.56 L430.00,153.56 L430.50,153.56 L431.00,153.56 L431.50,153.56 L432.00,153.56 L432.50,153.56 L433.00,153.56 L433.50,153.56 L434.00,153.56 L434.50,153.56 L435.00,153.56 L435.50,153.56 L436.00,153.56 L436.50,153.56 L437.00,153.56 L437.50,153.56 L438.00,153.56 L438.50,153.56 L439.00,153.56 L439.50,153.56 L440.00,153.56 L440.50,153.56 L441.00,153.56 L441.50,153.56 L442.00,153.56 L442.50,153.56 L443.00,153.56 L443.50,153.56 L444.00,153.56 L444.50,153.56 L445.00,153.56 L445.50,153.56 L446.00,153.56 L446.50,153.56 L447.00,153.56 L447.50,153.56 L448.00,153.56 L448.50,153.56 L449.00,153.56 L449.50,153.56 L450.00,153.56 L450.50,153.56 L451.00,153.56 L451.50,153.56 L452.00,153.56 L452.50,153.56 L453.00,153.56 L453.50,153.56 L454.00,153.56 L454.50,153.56 L455.00,153.56 L455.50,153.56 L456.00,153.56 L456.50,153.56 L457.00,153.56 L457.50,153.56 L458.00,153.56 L458.50,153.56 L459.00,153.56 L459.50,153.56 L460.00,153.56 L460.50,153.56 L461.00,153.56 L461.50,153.56 L462.00,153.56 L462.50,153.56 L463.00,153.56 L463.50,153.56 L464.00,153.56 L464.50,153.56 L465.00,153.56 L465.50,153.56 L466.00,153.56 L466.50,153.56 L467.00,153.56 L467.50,153.56 L468.00,153.56 L468.50,153.56 L469.00,153.56 L469.00,153.56 Z" stroke="none" fill="#f39a12" stroke-width="1" fill-opacity="1.0"/>
<line x1="348.50" y1="153.56" x2="469.00" y2="153.56" stroke="#f0c080" stroke-width="0.6" />
<text x="228.70" y="147.77" font-size="4.2" text-anchor="start" fill="#555" textLength="12.3" lengthAdjust="spacingAndGlyphs" >0 - 170</text>
<text x="348.80" y="147.77" font-size="4.2" text-anchor="start" fill="#555" textLength="12.3" lengthAdjust="spacingAndGlyphs" >0 - 170</text>
<path d="M229.00,164.52 L229.00,164.52 L229.50,164.52 L230.00,164.52 L230.50,164.52 L231.00,164.52 L231.50,164.52 L232.00,164.52 L232.50,164.52 L233.00,164.52 L233.50,164.52 L234.00,164.52 L234.50,164.52 L235.00,164.52 L235.50,164.52 L236.00,164.52 L236.50,164.52 L237.00,164.52 L237.50,164.52 L238.00,164.52 L238.50,164.52 L239.00,164.52 L239.50,164.52 L240.00,164.52 L240.50,164.52 L241.00,164.52 L241.50,164.52 L242.00,164.52 L242.50,164.52 L243.00,164.52 L243.50,164.52 L244.00,164.52 L244.50,164.52 L245.00,164.52 L245.50,164.52 L246.00,164.52 L246.50,164.52 L247.00,164.52 L247.50,164.52 L248.00,164.52 L248.50,164.52 L249.00,164.52 L249.50,164.52 L250.00,164.52 L250.50,164.52 L251.00,164.52 L251.50,164.52 L252.00,164.52 L252.50,164.52 L253.00,164.52 L253.50,164.52 L254.00,164.52 L254.50,164.52 L255.00,164.52 L255.50,164.52 L256.00,164.52 L256.50,164.52 L257.00,164.52 L257.50,164.52 L258.00,164.52 L258.50,164.52 L259.00,164.52 L259.50,164.52 L260.00,164.52 L260.50,164.52 L261.00,164.52 L261.50,164.52 L262.00,164.52 L262.50,164.52 L263.00,164.52 L263.50,164.52 L264.00,164.52 L264.50,164.52 L265.00,164.52 L265.50,164.52 L266.00,164.52 L266.50,164.52 L267.00,164.52 L267.50,164.52 L268.00,164.52 L268.50,164.52 L269.00,164.52 L269.50,164.52 L270.00,164.52 L270.50,164.52 L271.00,164.52 L271.50,164.52 L272.00,164.52 L272.50,164.52 L273.00,164.52 L273.50,164.52 L274.00,164.52 L274.50,164.52 L275.00,164.52 L275.50,164.52 L276.00,164.52 L276.50,164.52 L277.00,164.52 L277.50,164.52 L278.00,164.52 L278.50,164.52 L279.00,164.52 L279.50,164.52 L280.00,164.52 L280.50,164.52 L281.00,164.52 L281.50,164.52 L282.00,164.52 L282.50,164.52 L283.00,164.52 L283.50,164.52 L284.00,164.52 L284.50,164.52 L285.00,164.52 L285.50,164.52 L286.00,164.52 L286.50,164.52 L287.00,164.52 L287.50,164.52 L288.00,164.52 L288.50,164.52 L289.00,164.52 L289.50,164.52 L290.00,164.52 L290.50,164.52 L291.00,164.52 L291.50,164.52 L292.00,164.52 L292.50,164.52 L293.00,164.52 L293.50,164.52 L294.00,164.52 L294.50,164.52 L295.00,164.52 L295.50,164.52 L296.00,164.52 L296.50,164.52 L297.00,164.52 L297.50,164.52 L298.00,164.52 L298.50,164.52 L299.00,164.52 L299.50,164.52 L300.00,164.52 L300.50,164.52 L301.00,164.52 L301.50,164.52 L302.00,164.52 L302.50,164.52 L303.00,164.52 L303.50,164.52 L304.00,164.52 L304.50,164.52 L305.00,164.52 L305.50,164.52 L306.00,164.52 L306.50,164.52 L307.00,164.52 L307.50,164.52 L308.00,164.52 L308.50,164.52 L309.00,164.52 L309.50,164.52 L310.00,164.52 L310.50,164.52 L311.00,164.52 L311.50,164.52 L312.00,164.52 L312.50,164.52 L313.00,164.52 L313.50,164.52 L314.00,164.52 L314.50,164.52 L315.00,164.52 L315.50,164.52 L316.00,164.52 L316.50,164.52 L317.00,164.52 L317.50,164.52 L318.00,164.52 L318.50,164.52 L319.00,164.52 L319.50,164.52 L320.00,164.52 L320.50,164.52 L321.00,164.52 L321.50,164.52 L322.00,164.52 L322.50,164.52 L323.00,164.52 L323.50,164.52 L324.00,164.52 L324.50,164.52 L325.00,164.52 L325.50,164.52 L326.00,164.52 L326.50,164.52 L327.00,164.52 L327.50,164.52 L328.00,164.52 L328.50,164.52 L329.00,164.52 L329.50,164.52 L330.00,164.52 L330.50,164.52 L331.00,164.52 L331.50,164.52 L332.00,164.52 L332.50,164.52 L333.00,164.52 L333.50,164.52 L334.00,164.52 L334.50,164.52 L335.00,164.52 L335.50,164.52 L336.00,164.52 L336.50,164.52 L337.00,164.52 L337.50,164.52 L338.00,164.52 L338.50,164.52 L339.00,164.52 L339.50,164.52 L340.00,164.52 L340.50,164.52 L341.00,164.52 L341.50,164.52 L341.50,164.52 Z" stroke="none" fill="#9a9ad0" stroke-width="1" fill-opacity="1.0"/>
<line x1="229.00" y1="164.52" x2="341.50" y2="164.52" stroke="#b0b0d8" stroke-width="0.6" />
<path d="M348.50,164.52 L348.50,164.52 L349.00,164.52 L349.50,164.52 L350.00,164.52 L350.50,164.52 L351.00,164.52 L351.50,164.52 L352.00,164.52 L352.50,164.52 L353.00,164.52 L353.50,164.52 L354.00,164.52 L354.50,164.52 L355.00,164.52 L355.50,164.52 L356.00,164.52 L356.50,164.52 L357.00,164.52 L357.50,164.52 L358.00,164.52 L358.50,164.52 L359.00,164.52 L359.50,164.52 L360.00,164.52 L360.50,164.52 L361.00,164.52 L361.50,164.52 L362.00,164.52 L362.50,164.52 L363.00,164.52 L363.50,164.52 L364.00,164.52 L364.50,164.52 L365.00,164.52 L365.50,164.52 L366.00,164.52 L366.50,164.52 L367.00,164.52 L367.50,164.52 L368.00,164.52 L368.50,164.52 L369.00,164.52 L369.50,164.52 L370.00,164.52 L370.50,164.52 L371.00,164.52 L371.50,164.52 L372.00,164.52 L372.50,164.52 L373.00,164.52 L373.50,164.52 L374.00,164.52 L374.50,164.52 L375.00,164.52 L375.50,164.52 L376.00,164.52 L376.50,164.52 L377.00,164.52 L377.50,164.52 L378.00,164.52 L378.50,164.52 L379.00,164.52 L379.50,164.52 L380.00,164.52 L380.50,164.52 L381.00,164.52 L381.50,164.52 L382.00,164.52 L382.50,164.52 L383.00,164.52 L383.50,164.52 L384.00,164.52 L384.50,164.52 L385.00,164.52 L385.50,164.52 L386.00,164.52 L386.50,164.52 L387.00,164.52 L387.50,164.52 L388.00,164.52 L388.50,164.52 L389.00,164.52 L389.50,164.52 L390.00,164.52 L390.50,164.52 L391.00,164.52 L391.50,164.52 L392.00,164.52 L392.50,164.52 L393.00,164.52 L393.50,164.52 L394.00,164.52 L394.50,164.52 L395.00,164.52 L395.50,164.52 L396.00,164.52 L396.50,164.52 L397.00,164.52 L397.50,164.52 L398.00,164.52 L398.50,164.52 L399.00,164.52 L399.50,164.52 L400.00,164.52 L400.50,164.52 L401.00,164.52 L401.50,164.52 L402.00,164.52 L402.50,164.52 L403.00,164.52 L403.50,164.52 L404.00,164.52 L404.50,164.52 L405.00,164.52 L405.50,164.52 L406.00,164.52 L406.50,164.52 L407.00,164.52 L407.50,164.52 L408.00,164.52 L408.50,164.52 L409.00,164.52 L409.50,164.52 L410.00,164.52 L410.50,164.52 L411.00,164.52 L411.50,164.52 L412.00,164.52 L412.50,164.52 L413.00,164.52 L413.50,164.52 L414.00,164.52 L414.50,164.52 L415.00,164.52 L415.50,164.52 L416.00,164.52 L416.50,164.52 L417.00,164.52 L417.50,164.52 L418.00,164.52 L418.50,164.52 L419.00,164.52 L419.50,164.52 L420.00,164.52 L420.50,164.52 L421.00,164.52 L421.50,164.52 L422.00,164.52 L422.50,164.52 L423.00,164.52 L423.50,164.52 L424.00,164.52 L424.50,164.52 L425.00,164.52 L425.50,164.52 L426.00,164.52 L426.50,164.52 L427.00,164.52 L427.50,164.52 L428.00,164.52 L428.50,164.52 L429.00,164.52 L429.50,164.52 L430.00,164.52 L430.50,164.52 L431.00,164.52 L431.50,164.52 L432.00,164.52 L432.50,164.52 L433.00,164.52 L433.50,164.52 L434.00,164.52 L434.50,164.52 L435.00,164.52 L435.50,164.52 L436.00,164.52 L436.50,164.52 L437.00,164.52 L437.50,164.52 L438.00,164.52 L438.50,164.52 L439.00,164.52 L439.50,164.52 L440.00,164.52 L440.50,164.52 L441.00,164.52 L441.50,164.52 L442.00,164.52 L442.50,164.52 L443.00,164.52 L443.50,164.52 L444.00,164.52 L444.50,164.52 L445.00,164.52 L445.50,164.52 L446.00,164.52 L446.50,164.52 L447.00,164.52 L447.50,164.52 L448.00,164.52 L448.50,164.52 L449.00,164.52 L449.50,164.52 L450.00,164.52 L450.50,164.52 L451.00,164.52 L451.50,164.52 L452.00,164.52 L452.50,164.52 L453.00,164.52 L453.50,164.52 L454.00,164.52 L454.50,164.52 L455.00,164.52 L455.50,164.52 L456.00,164.52 L456.50,164.52 L457.00,164.52 L457.50,164.52 L458.00,164.52 L458.50,164.52 L459.00,164.52 L459.50,164.52 L460.00,164.52 L460.50,164.52 L461.00,164.52 L461.50,164.52 L462.00,164.52 L462.50,164.52 L463.00,164.52 L463.50,164.52 L464.00,164.52 L464.50,164.52 L465.00,164.52 L465.50,164.52 L466.00,164.52 L466.50,164.52 L467.00,164.52 L467.50,164.52 L468.00,164.52 L468.50,164.52 L469.00,164.52 L469.00,164.52 Z" stroke="none" fill="#9a9ad0" stroke-width="1" fill-opacity="1.0"/>
<line x1="348.50" y1="164.52" x2="469.00" y2="164.52" stroke="#b0b0d8" stroke-width="0.6" />
<text x="228.70" y="158.73" font-size="4.2" text-anchor="start" fill="#555" textLength="12.3" lengthAdjust="spacingAndGlyphs" >0 - 170</text>
<text x="348.80" y="158.73" font-size="4.2" text-anchor="start" fill="#555" textLength="12.3" lengthAdjust="spacingAndGlyphs" >0 - 170</text>
<line x1="473.10" y1="30.40" x2="476.30" y2="30.40" stroke="#555" stroke-width="0.6" />
<line x1="473.20" y1="42.80" x2="476.20" y2="42.80" stroke="#555" stroke-width="0.6" />
<line x1="474.70" y1="41.30" x2="474.70" y2="44.30" stroke="#555" stroke-width="0.6" />
<line x1="480.40" y1="26.00" x2="480.40" y2="38.10" stroke="#555" stroke-width="0.9" />
<text x="483.10" y="33.41" font-size="6.7" text-anchor="start" fill="#111" >HDAC1</text>
<line x1="473.10" y1="52.90" x2="476.30" y2="52.90" stroke="#555" stroke-width="0.6" />
<line x1="473.20" y1="63.90" x2="476.20" y2="63.90" stroke="#555" stroke-width="0.6" />
<line x1="474.70" y1="62.40" x2="474.70" y2="65.40" stroke="#555" stroke-width="0.6" />
<line x1="480.40" y1="51.30" x2="480.40" y2="61.70" stroke="#555" stroke-width="0.9" />
<text x="483.10" y="57.71" font-size="6.7" text-anchor="start" fill="#111" >BRD4</text>
<line x1="473.10" y1="76.00" x2="476.30" y2="76.00" stroke="#555" stroke-width="0.6" />
<line x1="473.20" y1="85.60" x2="476.20" y2="85.60" stroke="#555" stroke-width="0.6" />
<line x1="474.70" y1="84.10" x2="474.70" y2="87.10" stroke="#555" stroke-width="0.6" />
<line x1="480.40" y1="74.30" x2="480.40" y2="85.90" stroke="#555" stroke-width="0.9" />
<text x="483.10" y="80.61" font-size="6.7" text-anchor="start" fill="#111" >H3K9Ac</text>
<line x1="473.10" y1="97.40" x2="476.30" y2="97.40" stroke="#555" stroke-width="0.6" />
<line x1="473.20" y1="105.40" x2="476.20" y2="105.40" stroke="#555" stroke-width="0.6" />
<line x1="474.70" y1="103.90" x2="474.70" y2="106.90" stroke="#555" stroke-width="0.6" />
<line x1="480.40" y1="96.00" x2="480.40" y2="108.50" stroke="#555" stroke-width="0.9" />
<text x="483.10" y="103.91" font-size="6.7" text-anchor="start" fill="#111" >H3K27Ac</text>
<line x1="473.10" y1="117.50" x2="476.30" y2="117.50" stroke="#555" stroke-width="0.6" />
<line x1="473.20" y1="129.00" x2="476.20" y2="129.00" stroke="#555" stroke-width="0.6" />
<line x1="474.70" y1="127.50" x2="474.70" y2="130.50" stroke="#555" stroke-width="0.6" />
<line x1="480.40" y1="117.00" x2="480.40" y2="128.50" stroke="#555" stroke-width="0.9" />
<text x="483.10" y="123.61" font-size="6.7" text-anchor="start" fill="#111" >RNA Pol II</text>
<line x1="473.10" y1="141.00" x2="476.30" y2="141.00" stroke="#555" stroke-width="0.6" />
<line x1="473.20" y1="153.40" x2="476.20" y2="153.40" stroke="#555" stroke-width="0.6" />
<line x1="474.70" y1="151.90" x2="474.70" y2="154.90" stroke="#555" stroke-width="0.6" />
<line x1="480.40" y1="140.30" x2="480.40" y2="151.50" stroke="#555" stroke-width="0.9" />
<text x="483.10" y="146.21" font-size="6.7" text-anchor="start" fill="#111" >ATAC Profile</text>
<text x="483.10" y="164.71" font-size="6.7" text-anchor="start" fill="#111" >Input</text>
<rect x="231.50" y="172.70" width="40.80" height="3.90" fill="#23237e" stroke="none" stroke-width="0"/>
<line x1="244.60" y1="174.65" x2="245.80" y2="174.65" stroke="#7a7ac0" stroke-width="0.6" />
<line x1="258.50" y1="174.65" x2="259.70" y2="174.65" stroke="#7a7ac0" stroke-width="0.6" />
<line x1="272.00" y1="174.65" x2="285.00" y2="174.65" stroke="#23237e" stroke-width="0.7" />
<ellipse cx="277.90" cy="174.65" rx="1.1" ry="1.8" fill="#23237e" stroke="none" stroke-width="0"/>
<ellipse cx="281.40" cy="174.65" rx="1.1" ry="1.8" fill="#23237e" stroke="none" stroke-width="0"/>
<path d="M285.5,179 L285.5,168 L279.5,168" stroke="#b0102a" fill="none" stroke-width="1.0" />
<path d="M277,168 L280.5,166 L280.5,170 Z" stroke="none" fill="#b0102a" stroke-width="1" />
<path d="M395,176.3 L395,168.8 L387,168.8" stroke="#b0102a" fill="none" stroke-width="1.0" />
<path d="M384.5,168.8 L388,166.8 L388,170.8 Z" stroke="none" fill="#b0102a" stroke-width="1" />
<line x1="355.50" y1="170.00" x2="355.50" y2="175.00" stroke="#aaa" stroke-width="0.5" />
<line x1="362.00" y1="171.00" x2="362.00" y2="174.00" stroke="#888" stroke-width="0.6" />
<text x="304.50" y="172.92" font-size="7" text-anchor="start" fill="#111" textLength="31.3" lengthAdjust="spacingAndGlyphs" >mir210HG</text>
<text x="402.50" y="174.52" font-size="7" text-anchor="start" fill="#c0243a" textLength="46.5" lengthAdjust="spacingAndGlyphs" >miR182-183-96</text>
<text x="348.80" y="190.40" font-size="8.6" text-anchor="middle" fill="#111" font-weight="bold" textLength="54.7" lengthAdjust="spacingAndGlyphs" >log2(fold change)</text>
<text x="217.90" y="204.90" font-size="12.5" text-anchor="start" fill="#000" font-weight="bold" >C</text>
<text x="292.30" y="209.07" font-size="8.8" text-anchor="middle" fill="#111" >miR-210HG</text>
<line x1="292.00" y1="214.50" x2="292.00" y2="308.00" stroke="#cfcfcf" stroke-width="0.5" stroke-dasharray="1,1"/>
<path d="M244.60,279.00 C244.98,279.72 245.93,282.10 246.90,283.30 C247.87,284.50 249.05,285.05 250.40,286.20 C251.75,287.35 253.47,288.92 255.00,290.20 C256.53,291.48 258.15,293.03 259.60,293.90 C261.05,294.77 262.45,295.12 263.70,295.40 C264.95,295.68 266.05,295.98 267.10,295.60 C268.15,295.22 269.03,294.48 270.00,293.10 C270.97,291.72 271.75,289.80 272.90,287.30 C274.05,284.80 275.55,280.60 276.90,278.10 C278.25,275.60 279.85,272.98 281.00,272.30 C282.15,271.62 282.93,272.65 283.80,274.00 C284.67,275.35 285.42,277.80 286.20,280.40 C286.98,283.00 287.72,287.00 288.50,289.60 C289.28,292.20 289.93,297.92 290.90,296.00 C291.87,294.08 293.15,285.52 294.30,278.10 C295.45,270.68 296.93,255.55 297.80,251.50 C298.67,247.45 298.73,251.68 299.50,253.80 C300.27,255.92 301.43,260.92 302.40,264.20 C303.37,267.48 304.23,271.48 305.30,273.50 C306.37,275.52 307.73,275.73 308.80,276.30 C309.87,276.87 310.65,276.22 311.70,276.90 C312.75,277.58 313.85,278.57 315.10,280.40 C316.35,282.23 317.95,285.98 319.20,287.90 C320.45,289.82 321.55,290.93 322.60,291.90 C323.65,292.87 324.63,293.80 325.50,293.70 C326.37,293.60 326.83,292.95 327.80,291.30 C328.77,289.65 330.23,286.20 331.30,283.80 C332.37,281.40 333.15,278.53 334.20,276.90 C335.25,275.27 336.55,274.67 337.60,274.00 C338.65,273.33 339.57,273.50 340.50,272.90 C341.43,272.30 342.75,270.82 343.20,270.40" stroke="#2f6690" fill="none" stroke-width="1.1" />
<path d="M244.60,272.30 C244.98,271.92 246.03,270.67 246.90,270.00 C247.77,269.33 248.83,268.45 249.80,268.30 C250.77,268.15 251.73,269.23 252.70,269.10 C253.67,268.97 254.73,267.35 255.60,267.50 C256.47,267.65 257.03,268.23 257.90,270.00 C258.77,271.77 259.83,275.60 260.80,278.10 C261.77,280.60 262.83,284.05 263.70,285.00 C264.57,285.95 264.95,285.05 266.00,283.80 C267.05,282.55 268.67,279.70 270.00,277.50 C271.33,275.30 272.85,273.20 274.00,270.60 C275.15,268.00 275.93,265.47 276.90,261.90 C277.87,258.33 278.87,252.27 279.80,249.20 C280.73,246.13 281.73,243.98 282.50,243.50 C283.27,243.02 283.78,244.00 284.40,246.30 C285.02,248.60 285.52,251.82 286.20,257.30 C286.88,262.78 287.72,272.75 288.50,279.20 C289.28,285.65 290.02,294.83 290.90,296.00 C291.78,297.17 292.75,293.23 293.80,286.20 C294.85,279.17 296.15,262.55 297.20,253.80 C298.25,245.05 299.23,236.38 300.10,233.70 C300.97,231.02 301.63,235.30 302.40,237.70 C303.17,240.10 303.93,244.45 304.70,248.10 C305.47,251.75 306.23,257.48 307.00,259.60 C307.77,261.72 308.52,260.80 309.30,260.80 C310.08,260.80 310.92,258.93 311.70,259.60 C312.48,260.27 313.15,262.10 314.00,264.80 C314.85,267.50 315.65,272.33 316.80,275.80 C317.95,279.27 319.73,284.07 320.90,285.60 C322.07,287.13 322.75,286.25 323.80,285.00 C324.85,283.75 325.95,281.18 327.20,278.10 C328.45,275.02 330.13,268.23 331.30,266.50 C332.47,264.77 333.15,267.35 334.20,267.70 C335.25,268.05 336.55,268.22 337.60,268.60 C338.65,268.98 339.73,269.38 340.50,270.00 C341.27,270.62 341.68,270.88 342.20,272.30 C342.72,273.72 343.37,277.47 343.60,278.50" stroke="#c0244e" fill="none" stroke-width="1.1" />
<rect x="240.80" y="214.50" width="102.80" height="93.50" fill="none" stroke="#111" stroke-width="1"/>
<line x1="238.50" y1="218.30" x2="240.80" y2="218.30" stroke="#111" stroke-width="0.8" />
<text x="235.00" y="220.89" font-size="7.2" text-anchor="end" fill="#111" >0.6</text>
<line x1="238.50" y1="232.70" x2="240.80" y2="232.70" stroke="#111" stroke-width="0.8" />
<text x="235.00" y="235.29" font-size="7.2" text-anchor="end" fill="#111" >0.5</text>
<line x1="238.50" y1="247.10" x2="240.80" y2="247.10" stroke="#111" stroke-width="0.8" />
<text x="235.00" y="249.69" font-size="7.2" text-anchor="end" fill="#111" >0.4</text>
<line x1="238.50" y1="261.50" x2="240.80" y2="261.50" stroke="#111" stroke-width="0.8" />
<text x="235.00" y="264.09" font-size="7.2" text-anchor="end" fill="#111" >0.3</text>
<line x1="238.50" y1="275.90" x2="240.80" y2="275.90" stroke="#111" stroke-width="0.8" />
<text x="235.00" y="278.49" font-size="7.2" text-anchor="end" fill="#111" >0.2</text>
<line x1="238.50" y1="290.20" x2="240.80" y2="290.20" stroke="#111" stroke-width="0.8" />
<text x="235.00" y="292.79" font-size="7.2" text-anchor="end" fill="#111" >0.1</text>
<line x1="238.50" y1="304.50" x2="240.80" y2="304.50" stroke="#111" stroke-width="0.8" />
<text x="235.00" y="307.09" font-size="7.2" text-anchor="end" fill="#111" >0.0</text>
<line x1="244.70" y1="308.00" x2="244.70" y2="310.30" stroke="#111" stroke-width="0.8" />
<text x="244.70" y="318.07" font-size="5.2" text-anchor="middle" fill="#111" >−5Kb</text>
<line x1="339.60" y1="308.00" x2="339.60" y2="310.30" stroke="#111" stroke-width="0.8" />
<text x="339.60" y="318.07" font-size="5.2" text-anchor="middle" fill="#111" >5Kb</text>
<line x1="292.00" y1="308.00" x2="292.00" y2="310.30" stroke="#111" stroke-width="0.8" />
<text x="217.00" y="263.76" font-size="8.5" text-anchor="middle" fill="#111" transform="rotate(-90 217.00 260.70)" >cpm</text>
<rect x="317.70" y="219.80" width="3.00" height="3.00" fill="#1f3f6a" stroke="none" stroke-width="0"/>
<rect x="317.70" y="228.50" width="3.00" height="3.00" fill="#a81640" stroke="none" stroke-width="0"/>
<text x="324.20" y="222.81" font-size="4.2" text-anchor="start" fill="#333" textLength="14.5" lengthAdjust="spacingAndGlyphs" >Control</text>
<text x="324.20" y="231.51" font-size="4.2" text-anchor="start" fill="#333" textLength="14.5" lengthAdjust="spacingAndGlyphs" >Treated</text>
<text x="435.80" y="209.07" font-size="8.8" text-anchor="middle" fill="#111" >miR-183-182-96</text>
<line x1="432.90" y1="214.50" x2="432.90" y2="308.00" stroke="#cfcfcf" stroke-width="0.5" stroke-dasharray="1,1"/>
<path d="M384.60,300.90 C385.75,300.62 389.38,299.48 391.50,299.20 C393.62,298.92 395.75,299.10 397.30,299.20 C398.85,299.30 399.65,300.47 400.80,299.80 C401.95,299.13 403.15,296.65 404.20,295.20 C405.25,293.75 406.13,291.20 407.10,291.10 C408.07,291.00 408.95,293.35 410.00,294.60 C411.05,295.85 412.25,298.50 413.40,298.60 C414.55,298.70 415.83,296.20 416.90,295.20 C417.97,294.20 418.73,292.80 419.80,292.60 C420.87,292.40 422.25,294.25 423.30,294.00 C424.35,293.75 425.15,291.87 426.10,291.10 C427.05,290.33 428.03,289.12 429.00,289.40 C429.97,289.68 430.82,291.55 431.90,292.80 C432.98,294.05 434.32,296.80 435.50,296.90 C436.68,297.00 437.75,294.55 439.00,293.40 C440.25,292.25 441.85,289.80 443.00,290.00 C444.15,290.20 444.93,292.97 445.90,294.60 C446.87,296.23 447.93,298.80 448.80,299.80 C449.67,300.80 450.23,300.98 451.10,300.60 C451.97,300.22 452.95,298.60 454.00,297.50 C455.05,296.40 456.17,294.00 457.40,294.00 C458.63,294.00 459.95,296.63 461.40,297.50 C462.85,298.37 464.75,299.02 466.10,299.20 C467.45,299.38 468.17,299.18 469.50,298.60 C470.83,298.02 472.57,295.98 474.10,295.70 C475.63,295.42 477.35,296.22 478.70,296.90 C480.05,297.58 481.23,298.83 482.20,299.80 C483.17,300.77 484.12,302.22 484.50,302.70" stroke="#2f6690" fill="none" stroke-width="1.1" />
<path d="M384.60,299.20 C385.08,299.43 386.35,300.60 387.50,300.60 C388.65,300.60 390.15,300.10 391.50,299.20 C392.85,298.30 394.15,296.35 395.60,295.20 C397.05,294.05 399.05,293.17 400.20,292.30 C401.35,291.43 401.53,292.12 402.50,290.00 C403.47,287.88 404.78,282.87 406.00,279.60 C407.22,276.33 408.65,271.17 409.80,270.40 C410.95,269.63 411.90,273.18 412.90,275.00 C413.90,276.82 414.95,281.30 415.80,281.30 C416.65,281.30 417.13,278.17 418.00,275.00 C418.87,271.83 419.93,266.15 421.00,262.30 C422.07,258.45 423.25,255.78 424.40,251.90 C425.55,248.02 426.88,239.32 427.90,239.00 C428.92,238.68 429.68,244.83 430.50,250.00 C431.32,255.17 432.05,264.68 432.80,270.00 C433.55,275.32 434.23,281.23 435.00,281.90 C435.77,282.57 436.55,277.17 437.40,274.00 C438.25,270.83 439.27,263.88 440.10,262.90 C440.93,261.92 441.53,264.93 442.40,268.10 C443.27,271.27 444.43,277.68 445.30,281.90 C446.17,286.12 446.73,290.42 447.60,293.40 C448.47,296.38 449.43,299.22 450.50,299.80 C451.57,300.38 452.85,297.97 454.00,296.90 C455.15,295.83 456.17,293.60 457.40,293.40 C458.63,293.20 459.95,295.22 461.40,295.70 C462.85,296.18 464.55,296.20 466.10,296.30 C467.65,296.40 469.27,296.55 470.70,296.30 C472.13,296.05 473.37,294.80 474.70,294.80 C476.03,294.80 477.45,295.57 478.70,296.30 C479.95,297.03 481.23,298.23 482.20,299.20 C483.17,300.17 484.12,301.62 484.50,302.10" stroke="#c0244e" fill="none" stroke-width="1.1" />
<rect x="381.00" y="214.50" width="103.80" height="93.50" fill="none" stroke="#111" stroke-width="1"/>
<line x1="378.70" y1="227.50" x2="381.00" y2="227.50" stroke="#111" stroke-width="0.8" />
<text x="375.20" y="230.09" font-size="7.2" text-anchor="end" fill="#111" >0.8</text>
<line x1="378.70" y1="246.80" x2="381.00" y2="246.80" stroke="#111" stroke-width="0.8" />
<text x="375.20" y="249.39" font-size="7.2" text-anchor="end" fill="#111" >0.6</text>
<line x1="378.70" y1="266.10" x2="381.00" y2="266.10" stroke="#111" stroke-width="0.8" />
<text x="375.20" y="268.69" font-size="7.2" text-anchor="end" fill="#111" >0.4</text>
<line x1="378.70" y1="285.30" x2="381.00" y2="285.30" stroke="#111" stroke-width="0.8" />
<text x="375.20" y="287.89" font-size="7.2" text-anchor="end" fill="#111" >0.2</text>
<line x1="378.70" y1="304.50" x2="381.00" y2="304.50" stroke="#111" stroke-width="0.8" />
<text x="375.20" y="307.09" font-size="7.2" text-anchor="end" fill="#111" >0.0</text>
<line x1="384.70" y1="308.00" x2="384.70" y2="310.30" stroke="#111" stroke-width="0.8" />
<text x="384.70" y="318.07" font-size="5.2" text-anchor="middle" fill="#111" >−10Kb</text>
<line x1="481.00" y1="308.00" x2="481.00" y2="310.30" stroke="#111" stroke-width="0.8" />
<text x="481.00" y="318.07" font-size="5.2" text-anchor="middle" fill="#111" >10Kb</text>
<line x1="432.90" y1="308.00" x2="432.90" y2="310.30" stroke="#111" stroke-width="0.8" />
<text x="357.00" y="263.76" font-size="8.5" text-anchor="middle" fill="#111" transform="rotate(-90 357.00 260.70)" >cpm</text>
<rect x="459.00" y="219.80" width="3.00" height="3.00" fill="#1f3f6a" stroke="none" stroke-width="0"/>
<rect x="459.00" y="228.50" width="3.00" height="3.00" fill="#a81640" stroke="none" stroke-width="0"/>
<text x="465.50" y="222.81" font-size="4.2" text-anchor="start" fill="#333" textLength="14.5" lengthAdjust="spacingAndGlyphs" >Control</text>
<text x="465.50" y="231.51" font-size="4.2" text-anchor="start" fill="#333" textLength="14.5" lengthAdjust="spacingAndGlyphs" >Treated</text>
<rect x="292.40" y="330.80" width="51.50" height="5.50" fill="#c9c9c9" stroke="#555" stroke-width="0.5"/>
<path d="M292.4,336.5 L292.4,324.2 L306.4,324.2" stroke="#111" fill="none" stroke-width="0.9" />
<path d="M310.4,324.2 L305.9,321.9 L305.9,326.5 Z" stroke="none" fill="#111" stroke-width="1" />
<text x="266.90" y="336.06" font-size="6.0" text-anchor="start" fill="#111" textLength="19" lengthAdjust="spacingAndGlyphs" >Promoter</text>
<text x="266.90" y="344.16" font-size="6.0" text-anchor="start" fill="#111" textLength="19" lengthAdjust="spacingAndGlyphs" >Proximal</text>
<text x="266.90" y="352.36" font-size="6.0" text-anchor="start" fill="#111" textLength="9" lengthAdjust="spacingAndGlyphs" >(PP)</text>
<text x="296.00" y="344.16" font-size="6.0" text-anchor="start" fill="#111" textLength="21.6" lengthAdjust="spacingAndGlyphs" >Elongating</text>
<text x="296.00" y="352.36" font-size="6.0" text-anchor="start" fill="#111" textLength="33.2" lengthAdjust="spacingAndGlyphs" >gene body (GB)</text>
<rect x="434.40" y="330.80" width="45.80" height="5.50" fill="#c9c9c9" stroke="#555" stroke-width="0.5"/>
<path d="M434.4,336.5 L434.4,320.5 L448.4,320.5" stroke="#111" fill="none" stroke-width="0.9" />
<path d="M452.4,320.5 L447.9,318.2 L447.9,322.8 Z" stroke="none" fill="#111" stroke-width="1" />
<text x="409.10" y="336.06" font-size="6.0" text-anchor="start" fill="#111" textLength="19" lengthAdjust="spacingAndGlyphs" >Promoter</text>
<text x="409.10" y="344.16" font-size="6.0" text-anchor="start" fill="#111" textLength="19" lengthAdjust="spacingAndGlyphs" >Proximal</text>
<text x="409.10" y="352.36" font-size="6.0" text-anchor="start" fill="#111" textLength="9" lengthAdjust="spacingAndGlyphs" >(PP)</text>
<text x="442.50" y="344.16" font-size="6.0" text-anchor="start" fill="#111" textLength="21.6" lengthAdjust="spacingAndGlyphs" >Elongating</text>
<text x="442.50" y="352.36" font-size="6.0" text-anchor="start" fill="#111" textLength="33.2" lengthAdjust="spacingAndGlyphs" >gene body (GB)</text>
<text x="0.50" y="204.30" font-size="12.5" text-anchor="start" fill="#000" font-weight="bold" >D</text>
<text x="42.30" y="202.45" font-size="6.8" text-anchor="start" fill="#333" textLength="19.5" lengthAdjust="spacingAndGlyphs" >n = 10</text>
<line x1="42.30" y1="208.00" x2="42.30" y2="310.60" stroke="#111" stroke-width="1.1" />
<line x1="42.30" y1="310.60" x2="113.50" y2="310.60" stroke="#111" stroke-width="1.1" />
<line x1="39.70" y1="211.20" x2="42.30" y2="211.20" stroke="#111" stroke-width="0.8" />
<text x="37.00" y="213.84" font-size="6.5" text-anchor="end" fill="#111" >10<tspan dy="-2.7" font-size="5.0">−2</tspan></text>
<line x1="39.70" y1="260.90" x2="42.30" y2="260.90" stroke="#111" stroke-width="0.8" />
<text x="37.00" y="263.54" font-size="6.5" text-anchor="end" fill="#111" >10<tspan dy="-2.7" font-size="5.0">−3</tspan></text>
<line x1="39.70" y1="310.60" x2="42.30" y2="310.60" stroke="#111" stroke-width="0.8" />
<text x="37.00" y="313.24" font-size="6.5" text-anchor="end" fill="#111" >10<tspan dy="-2.7" font-size="5.0">−4</tspan></text>
<line x1="40.90" y1="245.94" x2="42.30" y2="245.94" stroke="#111" stroke-width="0.5" />
<line x1="40.90" y1="237.19" x2="42.30" y2="237.19" stroke="#111" stroke-width="0.5" />
<line x1="40.90" y1="230.98" x2="42.30" y2="230.98" stroke="#111" stroke-width="0.5" />
<line x1="40.90" y1="226.16" x2="42.30" y2="226.16" stroke="#111" stroke-width="0.5" />
<line x1="40.90" y1="222.23" x2="42.30" y2="222.23" stroke="#111" stroke-width="0.5" />
<line x1="40.90" y1="218.90" x2="42.30" y2="218.90" stroke="#111" stroke-width="0.5" />
<line x1="40.90" y1="216.02" x2="42.30" y2="216.02" stroke="#111" stroke-width="0.5" />
<line x1="40.90" y1="213.47" x2="42.30" y2="213.47" stroke="#111" stroke-width="0.5" />
<line x1="40.90" y1="295.64" x2="42.30" y2="295.64" stroke="#111" stroke-width="0.5" />
<line x1="40.90" y1="286.89" x2="42.30" y2="286.89" stroke="#111" stroke-width="0.5" />
<line x1="40.90" y1="280.68" x2="42.30" y2="280.68" stroke="#111" stroke-width="0.5" />
<line x1="40.90" y1="275.86" x2="42.30" y2="275.86" stroke="#111" stroke-width="0.5" />
<line x1="40.90" y1="271.93" x2="42.30" y2="271.93" stroke="#111" stroke-width="0.5" />
<line x1="40.90" y1="268.60" x2="42.30" y2="268.60" stroke="#111" stroke-width="0.5" />
<line x1="40.90" y1="265.72" x2="42.30" y2="265.72" stroke="#111" stroke-width="0.5" />
<line x1="40.90" y1="263.17" x2="42.30" y2="263.17" stroke="#111" stroke-width="0.5" />
<line x1="60.30" y1="310.60" x2="60.30" y2="313.00" stroke="#111" stroke-width="0.8" />
<line x1="95.20" y1="310.60" x2="95.20" y2="313.00" stroke="#111" stroke-width="0.8" />
<text x="60.30" y="322.38" font-size="6.6" text-anchor="middle" fill="#111" >C</text>
<text x="95.20" y="322.38" font-size="6.6" text-anchor="middle" fill="#111" >Abex</text>
<text x="16.30" y="262.18" font-size="6.6" text-anchor="middle" fill="#111" textLength="61" lengthAdjust="spacingAndGlyphs" transform="rotate(-90 16.30 259.80)" >miR-210 [2 ^ (-ΔCt)]</text>
<line x1="61.00" y1="216.40" x2="95.60" y2="216.40" stroke="#111" stroke-width="0.9" />
<text x="78.30" y="216.54" font-size="9" text-anchor="middle" fill="#111" >*</text>
<ellipse cx="50.80" cy="265.50" rx="2.2" ry="2.2" fill="#1f4466" stroke="#0f2236" stroke-width="0.4"/>
<ellipse cx="50.80" cy="273.30" rx="2.2" ry="2.2" fill="#1f4466" stroke="#0f2236" stroke-width="0.4"/>
<ellipse cx="50.80" cy="277.70" rx="2.2" ry="2.2" fill="#1f4466" stroke="#0f2236" stroke-width="0.4"/>
<ellipse cx="50.80" cy="284.40" rx="2.2" ry="2.2" fill="#1f4466" stroke="#0f2236" stroke-width="0.4"/>
<ellipse cx="60.50" cy="272.60" rx="2.2" ry="2.2" fill="#1f4466" stroke="#0f2236" stroke-width="0.4"/>
<ellipse cx="60.50" cy="279.30" rx="2.2" ry="2.2" fill="#1f4466" stroke="#0f2236" stroke-width="0.4"/>
<ellipse cx="60.50" cy="288.70" rx="2.2" ry="2.2" fill="#1f4466" stroke="#0f2236" stroke-width="0.4"/>
<ellipse cx="70.30" cy="269.00" rx="2.2" ry="2.2" fill="#1f4466" stroke="#0f2236" stroke-width="0.4"/>
<ellipse cx="70.30" cy="276.40" rx="2.2" ry="2.2" fill="#1f4466" stroke="#0f2236" stroke-width="0.4"/>
<ellipse cx="70.30" cy="281.70" rx="2.2" ry="2.2" fill="#1f4466" stroke="#0f2236" stroke-width="0.4"/>
<ellipse cx="95.20" cy="252.80" rx="2.2" ry="2.2" fill="#8e1a2e" stroke="#4a0c16" stroke-width="0.4"/>
<ellipse cx="92.20" cy="259.80" rx="2.2" ry="2.2" fill="#8e1a2e" stroke="#4a0c16" stroke-width="0.4"/>
<ellipse cx="98.80" cy="262.80" rx="2.2" ry="2.2" fill="#8e1a2e" stroke="#4a0c16" stroke-width="0.4"/>
<ellipse cx="85.80" cy="267.20" rx="2.2" ry="2.2" fill="#8e1a2e" stroke="#4a0c16" stroke-width="0.4"/>
<ellipse cx="92.20" cy="265.20" rx="2.2" ry="2.2" fill="#8e1a2e" stroke="#4a0c16" stroke-width="0.4"/>
<ellipse cx="92.20" cy="269.90" rx="2.2" ry="2.2" fill="#8e1a2e" stroke="#4a0c16" stroke-width="0.4"/>
<ellipse cx="85.80" cy="273.50" rx="2.2" ry="2.2" fill="#8e1a2e" stroke="#4a0c16" stroke-width="0.4"/>
<ellipse cx="98.80" cy="273.50" rx="2.2" ry="2.2" fill="#8e1a2e" stroke="#4a0c16" stroke-width="0.4"/>
<ellipse cx="105.30" cy="273.50" rx="2.2" ry="2.2" fill="#8e1a2e" stroke="#4a0c16" stroke-width="0.4"/>
<ellipse cx="95.20" cy="279.70" rx="2.2" ry="2.2" fill="#8e1a2e" stroke="#4a0c16" stroke-width="0.4"/>
<line x1="52.80" y1="275.70" x2="68.30" y2="275.70" stroke="#222" stroke-width="0.8" />
<line x1="55.59" y1="273.50" x2="65.51" y2="273.50" stroke="#222" stroke-width="0.7" />
<line x1="55.59" y1="278.00" x2="65.51" y2="278.00" stroke="#222" stroke-width="0.7" />
<line x1="60.55" y1="273.50" x2="60.55" y2="278.00" stroke="#222" stroke-width="0.7" />
<line x1="87.80" y1="266.30" x2="106.90" y2="266.30" stroke="#222" stroke-width="0.8" />
<line x1="91.24" y1="263.80" x2="103.46" y2="263.80" stroke="#222" stroke-width="0.7" />
<line x1="91.24" y1="269.20" x2="103.46" y2="269.20" stroke="#222" stroke-width="0.7" />
<line x1="97.35" y1="263.80" x2="97.35" y2="269.20" stroke="#222" stroke-width="0.7" />
<text x="46.50" y="346.35" font-size="6.8" text-anchor="start" fill="#333" textLength="19.5" lengthAdjust="spacingAndGlyphs" >n = 10</text>
<line x1="47.00" y1="351.50" x2="47.00" y2="437.20" stroke="#111" stroke-width="1.1" />
<line x1="47.00" y1="437.20" x2="132.40" y2="437.20" stroke="#111" stroke-width="1.1" />
<line x1="44.40" y1="355.10" x2="47.00" y2="355.10" stroke="#111" stroke-width="0.8" />
<text x="39.30" y="357.74" font-size="6.5" text-anchor="end" fill="#111" >10<tspan dy="-2.7" font-size="5.0">−2</tspan></text>
<line x1="44.40" y1="371.50" x2="47.00" y2="371.50" stroke="#111" stroke-width="0.8" />
<text x="39.30" y="374.14" font-size="6.5" text-anchor="end" fill="#111" >10<tspan dy="-2.7" font-size="5.0">−3</tspan></text>
<line x1="44.40" y1="387.90" x2="47.00" y2="387.90" stroke="#111" stroke-width="0.8" />
<text x="39.30" y="390.54" font-size="6.5" text-anchor="end" fill="#111" >10<tspan dy="-2.7" font-size="5.0">−4</tspan></text>
<line x1="44.40" y1="404.30" x2="47.00" y2="404.30" stroke="#111" stroke-width="0.8" />
<text x="39.30" y="406.94" font-size="6.5" text-anchor="end" fill="#111" >10<tspan dy="-2.7" font-size="5.0">−5</tspan></text>
<line x1="44.40" y1="420.70" x2="47.00" y2="420.70" stroke="#111" stroke-width="0.8" />
<text x="39.30" y="423.34" font-size="6.5" text-anchor="end" fill="#111" >10<tspan dy="-2.7" font-size="5.0">−6</tspan></text>
<line x1="44.40" y1="437.20" x2="47.00" y2="437.20" stroke="#111" stroke-width="0.8" />
<text x="39.30" y="439.84" font-size="6.5" text-anchor="end" fill="#111" >10<tspan dy="-2.7" font-size="5.0">−7</tspan></text>
<line x1="45.60" y1="366.56" x2="47.00" y2="366.56" stroke="#111" stroke-width="0.5" />
<line x1="45.60" y1="363.68" x2="47.00" y2="363.68" stroke="#111" stroke-width="0.5" />
<line x1="45.60" y1="361.63" x2="47.00" y2="361.63" stroke="#111" stroke-width="0.5" />
<line x1="45.60" y1="360.04" x2="47.00" y2="360.04" stroke="#111" stroke-width="0.5" />
<line x1="45.60" y1="358.74" x2="47.00" y2="358.74" stroke="#111" stroke-width="0.5" />
<line x1="45.60" y1="357.64" x2="47.00" y2="357.64" stroke="#111" stroke-width="0.5" />
<line x1="45.60" y1="356.69" x2="47.00" y2="356.69" stroke="#111" stroke-width="0.5" />
<line x1="45.60" y1="355.85" x2="47.00" y2="355.85" stroke="#111" stroke-width="0.5" />
<line x1="45.60" y1="382.96" x2="47.00" y2="382.96" stroke="#111" stroke-width="0.5" />
<line x1="45.60" y1="380.08" x2="47.00" y2="380.08" stroke="#111" stroke-width="0.5" />
<line x1="45.60" y1="378.03" x2="47.00" y2="378.03" stroke="#111" stroke-width="0.5" />
<line x1="45.60" y1="376.44" x2="47.00" y2="376.44" stroke="#111" stroke-width="0.5" />
<line x1="45.60" y1="375.14" x2="47.00" y2="375.14" stroke="#111" stroke-width="0.5" />
<line x1="45.60" y1="374.04" x2="47.00" y2="374.04" stroke="#111" stroke-width="0.5" />
<line x1="45.60" y1="373.09" x2="47.00" y2="373.09" stroke="#111" stroke-width="0.5" />
<line x1="45.60" y1="372.25" x2="47.00" y2="372.25" stroke="#111" stroke-width="0.5" />
<line x1="45.60" y1="399.36" x2="47.00" y2="399.36" stroke="#111" stroke-width="0.5" />
<line x1="45.60" y1="396.48" x2="47.00" y2="396.48" stroke="#111" stroke-width="0.5" />
<line x1="45.60" y1="394.43" x2="47.00" y2="394.43" stroke="#111" stroke-width="0.5" />
<line x1="45.60" y1="392.84" x2="47.00" y2="392.84" stroke="#111" stroke-width="0.5" />
<line x1="45.60" y1="391.54" x2="47.00" y2="391.54" stroke="#111" stroke-width="0.5" />
<line x1="45.60" y1="390.44" x2="47.00" y2="390.44" stroke="#111" stroke-width="0.5" />
<line x1="45.60" y1="389.49" x2="47.00" y2="389.49" stroke="#111" stroke-width="0.5" />
<line x1="45.60" y1="388.65" x2="47.00" y2="388.65" stroke="#111" stroke-width="0.5" />
<line x1="45.60" y1="415.76" x2="47.00" y2="415.76" stroke="#111" stroke-width="0.5" />
<line x1="45.60" y1="412.88" x2="47.00" y2="412.88" stroke="#111" stroke-width="0.5" />
<line x1="45.60" y1="410.83" x2="47.00" y2="410.83" stroke="#111" stroke-width="0.5" />
<line x1="45.60" y1="409.24" x2="47.00" y2="409.24" stroke="#111" stroke-width="0.5" />
<line x1="45.60" y1="407.94" x2="47.00" y2="407.94" stroke="#111" stroke-width="0.5" />
<line x1="45.60" y1="406.84" x2="47.00" y2="406.84" stroke="#111" stroke-width="0.5" />
<line x1="45.60" y1="405.89" x2="47.00" y2="405.89" stroke="#111" stroke-width="0.5" />
<line x1="45.60" y1="405.05" x2="47.00" y2="405.05" stroke="#111" stroke-width="0.5" />
<line x1="45.60" y1="432.23" x2="47.00" y2="432.23" stroke="#111" stroke-width="0.5" />
<line x1="45.60" y1="429.33" x2="47.00" y2="429.33" stroke="#111" stroke-width="0.5" />
<line x1="45.60" y1="427.27" x2="47.00" y2="427.27" stroke="#111" stroke-width="0.5" />
<line x1="45.60" y1="425.67" x2="47.00" y2="425.67" stroke="#111" stroke-width="0.5" />
<line x1="45.60" y1="424.36" x2="47.00" y2="424.36" stroke="#111" stroke-width="0.5" />
<line x1="45.60" y1="423.26" x2="47.00" y2="423.26" stroke="#111" stroke-width="0.5" />
<line x1="45.60" y1="422.30" x2="47.00" y2="422.30" stroke="#111" stroke-width="0.5" />
<line x1="45.60" y1="421.45" x2="47.00" y2="421.45" stroke="#111" stroke-width="0.5" />
<line x1="65.40" y1="437.20" x2="65.40" y2="439.60" stroke="#111" stroke-width="0.8" />
<line x1="104.50" y1="437.20" x2="104.50" y2="439.60" stroke="#111" stroke-width="0.8" />
<text x="65.40" y="449.48" font-size="6.6" text-anchor="middle" fill="#111" >C</text>
<text x="104.50" y="449.48" font-size="6.6" text-anchor="middle" fill="#111" >Abex</text>
<text x="20.40" y="396.38" font-size="6.6" text-anchor="middle" fill="#111" textLength="59" lengthAdjust="spacingAndGlyphs" transform="rotate(-90 20.40 394.00)" >miR-182 [2 ^ (-ΔCt)]</text>
<line x1="79.10" y1="351.40" x2="114.50" y2="351.40" stroke="#111" stroke-width="0.9" />
<text x="96.80" y="349.74" font-size="9" text-anchor="middle" fill="#111" textLength="16" lengthAdjust="spacingAndGlyphs" >****</text>
<ellipse cx="60.70" cy="385.10" rx="2.4" ry="1.9" fill="#1f4466" stroke="#0f2236" stroke-width="0.4"/>
<ellipse cx="70.30" cy="384.10" rx="2.4" ry="1.9" fill="#1f4466" stroke="#0f2236" stroke-width="0.4"/>
<ellipse cx="65.40" cy="388.90" rx="2.4" ry="1.9" fill="#1f4466" stroke="#0f2236" stroke-width="0.4"/>
<ellipse cx="54.80" cy="392.10" rx="2.4" ry="1.9" fill="#1f4466" stroke="#0f2236" stroke-width="0.4"/>
<ellipse cx="60.70" cy="393.20" rx="2.4" ry="1.9" fill="#1f4466" stroke="#0f2236" stroke-width="0.4"/>
<ellipse cx="67.50" cy="393.80" rx="2.4" ry="1.9" fill="#1f4466" stroke="#0f2236" stroke-width="0.4"/>
<ellipse cx="76.00" cy="393.80" rx="2.4" ry="1.9" fill="#1f4466" stroke="#0f2236" stroke-width="0.4"/>
<ellipse cx="54.80" cy="396.30" rx="2.4" ry="1.9" fill="#1f4466" stroke="#0f2236" stroke-width="0.4"/>
<ellipse cx="71.30" cy="396.30" rx="2.4" ry="1.9" fill="#1f4466" stroke="#0f2236" stroke-width="0.4"/>
<ellipse cx="65.40" cy="401.60" rx="2.4" ry="1.9" fill="#1f4466" stroke="#0f2236" stroke-width="0.4"/>
<ellipse cx="60.70" cy="408.40" rx="2.4" ry="1.9" fill="#1f4466" stroke="#0f2236" stroke-width="0.4"/>
<ellipse cx="70.30" cy="408.40" rx="2.4" ry="1.9" fill="#1f4466" stroke="#0f2236" stroke-width="0.4"/>
<ellipse cx="97.50" cy="359.80" rx="2.4" ry="1.9" fill="#8e1a2e" stroke="#4a0c16" stroke-width="0.4"/>
<ellipse cx="92.50" cy="364.60" rx="2.4" ry="1.9" fill="#8e1a2e" stroke="#4a0c16" stroke-width="0.4"/>
<ellipse cx="98.20" cy="364.20" rx="2.4" ry="1.9" fill="#8e1a2e" stroke="#4a0c16" stroke-width="0.4"/>
<ellipse cx="103.50" cy="364.20" rx="2.4" ry="1.9" fill="#8e1a2e" stroke="#4a0c16" stroke-width="0.4"/>
<ellipse cx="108.10" cy="364.20" rx="2.4" ry="1.9" fill="#8e1a2e" stroke="#4a0c16" stroke-width="0.4"/>
<ellipse cx="113.60" cy="361.90" rx="2.4" ry="1.9" fill="#8e1a2e" stroke="#4a0c16" stroke-width="0.4"/>
<ellipse cx="113.60" cy="366.30" rx="2.4" ry="1.9" fill="#8e1a2e" stroke="#4a0c16" stroke-width="0.4"/>
<ellipse cx="92.50" cy="372.70" rx="2.4" ry="1.9" fill="#8e1a2e" stroke="#4a0c16" stroke-width="0.4"/>
<ellipse cx="100.30" cy="369.90" rx="2.4" ry="1.9" fill="#8e1a2e" stroke="#4a0c16" stroke-width="0.4"/>
<ellipse cx="106.60" cy="373.10" rx="2.4" ry="1.9" fill="#8e1a2e" stroke="#4a0c16" stroke-width="0.4"/>
<ellipse cx="113.60" cy="371.40" rx="2.4" ry="1.9" fill="#8e1a2e" stroke="#4a0c16" stroke-width="0.4"/>
<ellipse cx="103.00" cy="377.30" rx="2.4" ry="1.9" fill="#8e1a2e" stroke="#4a0c16" stroke-width="0.4"/>
<line x1="53.10" y1="392.10" x2="78.00" y2="392.10" stroke="#222" stroke-width="0.8" />
<line x1="57.58" y1="390.00" x2="73.52" y2="390.00" stroke="#222" stroke-width="0.7" />
<line x1="57.58" y1="394.20" x2="73.52" y2="394.20" stroke="#222" stroke-width="0.7" />
<line x1="65.55" y1="390.00" x2="65.55" y2="394.20" stroke="#222" stroke-width="0.7" />
<line x1="90.30" y1="366.30" x2="115.10" y2="366.30" stroke="#222" stroke-width="0.8" />
<line x1="94.76" y1="364.50" x2="110.64" y2="364.50" stroke="#222" stroke-width="0.7" />
<line x1="94.76" y1="368.20" x2="110.64" y2="368.20" stroke="#222" stroke-width="0.7" />
<line x1="102.70" y1="364.50" x2="102.70" y2="368.20" stroke="#222" stroke-width="0.7" />
<text x="47.60" y="473.75" font-size="6.8" text-anchor="start" fill="#333" textLength="19.5" lengthAdjust="spacingAndGlyphs" >n = 10</text>
<line x1="47.00" y1="480.00" x2="47.00" y2="570.30" stroke="#111" stroke-width="1.1" />
<line x1="47.00" y1="570.30" x2="128.40" y2="570.30" stroke="#111" stroke-width="1.1" />
<line x1="44.40" y1="482.90" x2="47.00" y2="482.90" stroke="#111" stroke-width="0.8" />
<text x="41.00" y="485.54" font-size="6.5" text-anchor="end" fill="#111" >10<tspan dy="-2.7" font-size="5.0">−2</tspan></text>
<line x1="44.40" y1="504.80" x2="47.00" y2="504.80" stroke="#111" stroke-width="0.8" />
<text x="41.00" y="507.44" font-size="6.5" text-anchor="end" fill="#111" >10<tspan dy="-2.7" font-size="5.0">−3</tspan></text>
<line x1="44.40" y1="526.40" x2="47.00" y2="526.40" stroke="#111" stroke-width="0.8" />
<text x="41.00" y="529.04" font-size="6.5" text-anchor="end" fill="#111" >10<tspan dy="-2.7" font-size="5.0">−4</tspan></text>
<line x1="44.40" y1="548.20" x2="47.00" y2="548.20" stroke="#111" stroke-width="0.8" />
<text x="41.00" y="550.84" font-size="6.5" text-anchor="end" fill="#111" >10<tspan dy="-2.7" font-size="5.0">−5</tspan></text>
<line x1="44.40" y1="570.30" x2="47.00" y2="570.30" stroke="#111" stroke-width="0.8" />
<text x="41.00" y="572.94" font-size="6.5" text-anchor="end" fill="#111" >10<tspan dy="-2.7" font-size="5.0">−6</tspan></text>
<line x1="45.60" y1="498.21" x2="47.00" y2="498.21" stroke="#111" stroke-width="0.5" />
<line x1="45.60" y1="494.35" x2="47.00" y2="494.35" stroke="#111" stroke-width="0.5" />
<line x1="45.60" y1="491.61" x2="47.00" y2="491.61" stroke="#111" stroke-width="0.5" />
<line x1="45.60" y1="489.49" x2="47.00" y2="489.49" stroke="#111" stroke-width="0.5" />
<line x1="45.60" y1="487.76" x2="47.00" y2="487.76" stroke="#111" stroke-width="0.5" />
<line x1="45.60" y1="486.29" x2="47.00" y2="486.29" stroke="#111" stroke-width="0.5" />
<line x1="45.60" y1="485.02" x2="47.00" y2="485.02" stroke="#111" stroke-width="0.5" />
<line x1="45.60" y1="483.90" x2="47.00" y2="483.90" stroke="#111" stroke-width="0.5" />
<line x1="45.60" y1="519.90" x2="47.00" y2="519.90" stroke="#111" stroke-width="0.5" />
<line x1="45.60" y1="516.09" x2="47.00" y2="516.09" stroke="#111" stroke-width="0.5" />
<line x1="45.60" y1="513.40" x2="47.00" y2="513.40" stroke="#111" stroke-width="0.5" />
<line x1="45.60" y1="511.30" x2="47.00" y2="511.30" stroke="#111" stroke-width="0.5" />
<line x1="45.60" y1="509.59" x2="47.00" y2="509.59" stroke="#111" stroke-width="0.5" />
<line x1="45.60" y1="508.15" x2="47.00" y2="508.15" stroke="#111" stroke-width="0.5" />
<line x1="45.60" y1="506.89" x2="47.00" y2="506.89" stroke="#111" stroke-width="0.5" />
<line x1="45.60" y1="505.79" x2="47.00" y2="505.79" stroke="#111" stroke-width="0.5" />
<line x1="45.60" y1="541.64" x2="47.00" y2="541.64" stroke="#111" stroke-width="0.5" />
<line x1="45.60" y1="537.80" x2="47.00" y2="537.80" stroke="#111" stroke-width="0.5" />
<line x1="45.60" y1="535.08" x2="47.00" y2="535.08" stroke="#111" stroke-width="0.5" />
<line x1="45.60" y1="532.96" x2="47.00" y2="532.96" stroke="#111" stroke-width="0.5" />
<line x1="45.60" y1="531.24" x2="47.00" y2="531.24" stroke="#111" stroke-width="0.5" />
<line x1="45.60" y1="529.78" x2="47.00" y2="529.78" stroke="#111" stroke-width="0.5" />
<line x1="45.60" y1="528.51" x2="47.00" y2="528.51" stroke="#111" stroke-width="0.5" />
<line x1="45.60" y1="527.40" x2="47.00" y2="527.40" stroke="#111" stroke-width="0.5" />
<line x1="45.60" y1="563.65" x2="47.00" y2="563.65" stroke="#111" stroke-width="0.5" />
<line x1="45.60" y1="559.76" x2="47.00" y2="559.76" stroke="#111" stroke-width="0.5" />
<line x1="45.60" y1="556.99" x2="47.00" y2="556.99" stroke="#111" stroke-width="0.5" />
<line x1="45.60" y1="554.85" x2="47.00" y2="554.85" stroke="#111" stroke-width="0.5" />
<line x1="45.60" y1="553.10" x2="47.00" y2="553.10" stroke="#111" stroke-width="0.5" />
<line x1="45.60" y1="551.62" x2="47.00" y2="551.62" stroke="#111" stroke-width="0.5" />
<line x1="45.60" y1="550.34" x2="47.00" y2="550.34" stroke="#111" stroke-width="0.5" />
<line x1="45.60" y1="549.21" x2="47.00" y2="549.21" stroke="#111" stroke-width="0.5" />
<line x1="67.80" y1="570.30" x2="67.80" y2="572.70" stroke="#111" stroke-width="0.8" />
<line x1="108.20" y1="570.30" x2="108.20" y2="572.70" stroke="#111" stroke-width="0.8" />
<text x="67.80" y="582.78" font-size="6.6" text-anchor="middle" fill="#111" >C</text>
<text x="108.20" y="582.78" font-size="6.6" text-anchor="middle" fill="#111" >Abex</text>
<text x="21.50" y="528.98" font-size="6.6" text-anchor="middle" fill="#111" textLength="62" lengthAdjust="spacingAndGlyphs" transform="rotate(-90 21.50 526.60)" >miR-183 [2 ^ (-ΔCt)]</text>
<line x1="83.00" y1="476.10" x2="121.10" y2="476.10" stroke="#111" stroke-width="0.9" />
<text x="102.05" y="474.54" font-size="9" text-anchor="middle" fill="#111" textLength="16" lengthAdjust="spacingAndGlyphs" >****</text>
<ellipse cx="67.80" cy="533.60" rx="2.1" ry="2.1" fill="#1f4466" stroke="#0f2236" stroke-width="0.4"/>
<ellipse cx="57.70" cy="538.50" rx="2.1" ry="2.1" fill="#1f4466" stroke="#0f2236" stroke-width="0.4"/>
<ellipse cx="77.90" cy="541.40" rx="2.1" ry="2.1" fill="#1f4466" stroke="#0f2236" stroke-width="0.4"/>
<ellipse cx="57.70" cy="545.80" rx="2.1" ry="2.1" fill="#1f4466" stroke="#0f2236" stroke-width="0.4"/>
<ellipse cx="72.10" cy="546.30" rx="2.1" ry="2.1" fill="#1f4466" stroke="#0f2236" stroke-width="0.4"/>
<ellipse cx="64.90" cy="550.10" rx="2.1" ry="2.1" fill="#1f4466" stroke="#0f2236" stroke-width="0.4"/>
<ellipse cx="62.00" cy="556.70" rx="2.1" ry="2.1" fill="#1f4466" stroke="#0f2236" stroke-width="0.4"/>
<ellipse cx="72.70" cy="556.70" rx="2.1" ry="2.1" fill="#1f4466" stroke="#0f2236" stroke-width="0.4"/>
<ellipse cx="62.90" cy="560.20" rx="2.1" ry="2.1" fill="#1f4466" stroke="#0f2236" stroke-width="0.4"/>
<ellipse cx="66.00" cy="540.00" rx="2.1" ry="2.1" fill="#1f4466" stroke="#0f2236" stroke-width="0.4"/>
<ellipse cx="108.20" cy="503.90" rx="2.1" ry="2.1" fill="#8e1a2e" stroke="#4a0c16" stroke-width="0.4"/>
<ellipse cx="96.60" cy="509.70" rx="2.1" ry="2.1" fill="#8e1a2e" stroke="#4a0c16" stroke-width="0.4"/>
<ellipse cx="102.40" cy="508.80" rx="2.1" ry="2.1" fill="#8e1a2e" stroke="#4a0c16" stroke-width="0.4"/>
<ellipse cx="113.90" cy="508.80" rx="2.1" ry="2.1" fill="#8e1a2e" stroke="#4a0c16" stroke-width="0.4"/>
<ellipse cx="119.10" cy="508.30" rx="2.1" ry="2.1" fill="#8e1a2e" stroke="#4a0c16" stroke-width="0.4"/>
<ellipse cx="119.10" cy="511.70" rx="2.1" ry="2.1" fill="#8e1a2e" stroke="#4a0c16" stroke-width="0.4"/>
<ellipse cx="108.20" cy="516.90" rx="2.1" ry="2.1" fill="#8e1a2e" stroke="#4a0c16" stroke-width="0.4"/>
<ellipse cx="108.20" cy="521.20" rx="2.1" ry="2.1" fill="#8e1a2e" stroke="#4a0c16" stroke-width="0.4"/>
<ellipse cx="108.20" cy="525.00" rx="2.1" ry="2.1" fill="#8e1a2e" stroke="#4a0c16" stroke-width="0.4"/>
<line x1="59.00" y1="542.30" x2="76.40" y2="542.30" stroke="#222" stroke-width="0.8" />
<line x1="62.13" y1="539.50" x2="73.27" y2="539.50" stroke="#222" stroke-width="0.7" />
<line x1="62.13" y1="545.50" x2="73.27" y2="545.50" stroke="#222" stroke-width="0.7" />
<line x1="67.70" y1="539.50" x2="67.70" y2="545.50" stroke="#222" stroke-width="0.7" />
<line x1="99.50" y1="511.10" x2="116.80" y2="511.10" stroke="#222" stroke-width="0.8" />
<line x1="102.61" y1="508.50" x2="113.69" y2="508.50" stroke="#222" stroke-width="0.7" />
<line x1="102.61" y1="513.80" x2="113.69" y2="513.80" stroke="#222" stroke-width="0.7" />
<line x1="108.15" y1="508.50" x2="108.15" y2="513.80" stroke="#222" stroke-width="0.7" />
<text x="47.60" y="606.85" font-size="6.8" text-anchor="start" fill="#333" textLength="19.5" lengthAdjust="spacingAndGlyphs" >n = 10</text>
<line x1="49.00" y1="612.50" x2="49.00" y2="704.50" stroke="#111" stroke-width="1.1" />
<line x1="49.00" y1="704.50" x2="126.90" y2="704.50" stroke="#111" stroke-width="1.1" />
<line x1="46.40" y1="615.80" x2="49.00" y2="615.80" stroke="#111" stroke-width="0.8" />
<text x="43.00" y="618.44" font-size="6.5" text-anchor="end" fill="#111" >10<tspan dy="-2.7" font-size="5.0">−3</tspan></text>
<line x1="46.40" y1="646.00" x2="49.00" y2="646.00" stroke="#111" stroke-width="0.8" />
<text x="43.00" y="648.64" font-size="6.5" text-anchor="end" fill="#111" >10<tspan dy="-2.7" font-size="5.0">−4</tspan></text>
<line x1="46.40" y1="674.80" x2="49.00" y2="674.80" stroke="#111" stroke-width="0.8" />
<text x="43.00" y="677.44" font-size="6.5" text-anchor="end" fill="#111" >10<tspan dy="-2.7" font-size="5.0">−5</tspan></text>
<line x1="46.40" y1="704.50" x2="49.00" y2="704.50" stroke="#111" stroke-width="0.8" />
<text x="43.00" y="707.14" font-size="6.5" text-anchor="end" fill="#111" >10<tspan dy="-2.7" font-size="5.0">−6</tspan></text>
<line x1="47.60" y1="636.91" x2="49.00" y2="636.91" stroke="#111" stroke-width="0.5" />
<line x1="47.60" y1="631.59" x2="49.00" y2="631.59" stroke="#111" stroke-width="0.5" />
<line x1="47.60" y1="627.82" x2="49.00" y2="627.82" stroke="#111" stroke-width="0.5" />
<line x1="47.60" y1="624.89" x2="49.00" y2="624.89" stroke="#111" stroke-width="0.5" />
<line x1="47.60" y1="622.50" x2="49.00" y2="622.50" stroke="#111" stroke-width="0.5" />
<line x1="47.60" y1="620.48" x2="49.00" y2="620.48" stroke="#111" stroke-width="0.5" />
<line x1="47.60" y1="618.73" x2="49.00" y2="618.73" stroke="#111" stroke-width="0.5" />
<line x1="47.60" y1="617.18" x2="49.00" y2="617.18" stroke="#111" stroke-width="0.5" />
<line x1="47.60" y1="666.13" x2="49.00" y2="666.13" stroke="#111" stroke-width="0.5" />
<line x1="47.60" y1="661.06" x2="49.00" y2="661.06" stroke="#111" stroke-width="0.5" />
<line x1="47.60" y1="657.46" x2="49.00" y2="657.46" stroke="#111" stroke-width="0.5" />
<line x1="47.60" y1="654.67" x2="49.00" y2="654.67" stroke="#111" stroke-width="0.5" />
<line x1="47.60" y1="652.39" x2="49.00" y2="652.39" stroke="#111" stroke-width="0.5" />
<line x1="47.60" y1="650.46" x2="49.00" y2="650.46" stroke="#111" stroke-width="0.5" />
<line x1="47.60" y1="648.79" x2="49.00" y2="648.79" stroke="#111" stroke-width="0.5" />
<line x1="47.60" y1="647.32" x2="49.00" y2="647.32" stroke="#111" stroke-width="0.5" />
<line x1="47.60" y1="695.56" x2="49.00" y2="695.56" stroke="#111" stroke-width="0.5" />
<line x1="47.60" y1="690.33" x2="49.00" y2="690.33" stroke="#111" stroke-width="0.5" />
<line x1="47.60" y1="686.62" x2="49.00" y2="686.62" stroke="#111" stroke-width="0.5" />
<line x1="47.60" y1="683.74" x2="49.00" y2="683.74" stroke="#111" stroke-width="0.5" />
<line x1="47.60" y1="681.39" x2="49.00" y2="681.39" stroke="#111" stroke-width="0.5" />
<line x1="47.60" y1="679.40" x2="49.00" y2="679.40" stroke="#111" stroke-width="0.5" />
<line x1="47.60" y1="677.68" x2="49.00" y2="677.68" stroke="#111" stroke-width="0.5" />
<line x1="47.60" y1="676.16" x2="49.00" y2="676.16" stroke="#111" stroke-width="0.5" />
<line x1="67.80" y1="704.50" x2="67.80" y2="706.90" stroke="#111" stroke-width="0.8" />
<line x1="107.30" y1="704.50" x2="107.30" y2="706.90" stroke="#111" stroke-width="0.8" />
<text x="67.80" y="716.98" font-size="6.6" text-anchor="middle" fill="#111" >C</text>
<text x="107.30" y="716.98" font-size="6.6" text-anchor="middle" fill="#111" >Abex</text>
<text x="21.60" y="660.88" font-size="6.6" text-anchor="middle" fill="#111" textLength="56" lengthAdjust="spacingAndGlyphs" transform="rotate(-90 21.60 658.50)" >miR-96 [2 ^ (-ΔCt)]</text>
<line x1="76.40" y1="609.80" x2="114.80" y2="609.80" stroke="#111" stroke-width="0.9" />
<text x="95.60" y="607.14" font-size="9" text-anchor="middle" fill="#111" textLength="16" lengthAdjust="spacingAndGlyphs" >****</text>
<ellipse cx="68.40" cy="654.00" rx="2.1" ry="2.1" fill="#1f4466" stroke="#0f2236" stroke-width="0.4"/>
<ellipse cx="63.50" cy="663.60" rx="2.1" ry="2.1" fill="#1f4466" stroke="#0f2236" stroke-width="0.4"/>
<ellipse cx="72.10" cy="665.00" rx="2.1" ry="2.1" fill="#1f4466" stroke="#0f2236" stroke-width="0.4"/>
<ellipse cx="62.00" cy="667.30" rx="2.1" ry="2.1" fill="#1f4466" stroke="#0f2236" stroke-width="0.4"/>
<ellipse cx="68.40" cy="672.20" rx="2.1" ry="2.1" fill="#1f4466" stroke="#0f2236" stroke-width="0.4"/>
<ellipse cx="57.70" cy="677.10" rx="2.1" ry="2.1" fill="#1f4466" stroke="#0f2236" stroke-width="0.4"/>
<ellipse cx="68.40" cy="676.50" rx="2.1" ry="2.1" fill="#1f4466" stroke="#0f2236" stroke-width="0.4"/>
<ellipse cx="78.70" cy="676.50" rx="2.1" ry="2.1" fill="#1f4466" stroke="#0f2236" stroke-width="0.4"/>
<ellipse cx="68.40" cy="685.20" rx="2.1" ry="2.1" fill="#1f4466" stroke="#0f2236" stroke-width="0.4"/>
<ellipse cx="68.40" cy="691.80" rx="2.1" ry="2.1" fill="#1f4466" stroke="#0f2236" stroke-width="0.4"/>
<ellipse cx="96.60" cy="616.80" rx="2.1" ry="2.1" fill="#8e1a2e" stroke="#4a0c16" stroke-width="0.4"/>
<ellipse cx="107.30" cy="618.00" rx="2.1" ry="2.1" fill="#8e1a2e" stroke="#4a0c16" stroke-width="0.4"/>
<ellipse cx="118.30" cy="618.80" rx="2.1" ry="2.1" fill="#8e1a2e" stroke="#4a0c16" stroke-width="0.4"/>
<ellipse cx="96.60" cy="621.70" rx="2.1" ry="2.1" fill="#8e1a2e" stroke="#4a0c16" stroke-width="0.4"/>
<ellipse cx="96.60" cy="625.20" rx="2.1" ry="2.1" fill="#8e1a2e" stroke="#4a0c16" stroke-width="0.4"/>
<ellipse cx="107.30" cy="624.00" rx="2.1" ry="2.1" fill="#8e1a2e" stroke="#4a0c16" stroke-width="0.4"/>
<ellipse cx="118.30" cy="624.00" rx="2.1" ry="2.1" fill="#8e1a2e" stroke="#4a0c16" stroke-width="0.4"/>
<ellipse cx="107.30" cy="633.30" rx="2.1" ry="2.1" fill="#8e1a2e" stroke="#4a0c16" stroke-width="0.4"/>
<ellipse cx="102.40" cy="641.90" rx="2.1" ry="2.1" fill="#8e1a2e" stroke="#4a0c16" stroke-width="0.4"/>
<ellipse cx="111.00" cy="641.30" rx="2.1" ry="2.1" fill="#8e1a2e" stroke="#4a0c16" stroke-width="0.4"/>
<line x1="56.20" y1="668.50" x2="80.80" y2="668.50" stroke="#222" stroke-width="0.8" />
<line x1="60.63" y1="665.00" x2="76.37" y2="665.00" stroke="#222" stroke-width="0.7" />
<line x1="60.63" y1="672.50" x2="76.37" y2="672.50" stroke="#222" stroke-width="0.7" />
<line x1="68.50" y1="665.00" x2="68.50" y2="672.50" stroke="#222" stroke-width="0.7" />
<line x1="99.50" y1="623.20" x2="115.40" y2="623.20" stroke="#222" stroke-width="0.8" />
<line x1="102.36" y1="620.50" x2="112.54" y2="620.50" stroke="#222" stroke-width="0.7" />
<line x1="102.36" y1="626.50" x2="112.54" y2="626.50" stroke="#222" stroke-width="0.7" />
<line x1="107.45" y1="620.50" x2="107.45" y2="626.50" stroke="#222" stroke-width="0.7" />
<text x="144.10" y="367.70" font-size="12.5" text-anchor="start" fill="#000" font-weight="bold" >E</text>
<line x1="159.70" y1="368.30" x2="159.70" y2="712.20" stroke="#555" stroke-width="1.1" />
<text x="151.00" y="406.96" font-size="11" text-anchor="middle" fill="#000" textLength="18.2" lengthAdjust="spacingAndGlyphs" transform="rotate(-90 151.00 403.00)" >IKZF3</text>
<text x="176.00" y="367.30" font-size="5.0" text-anchor="start" fill="#333" textLength="12.5" lengthAdjust="spacingAndGlyphs" >n = 10</text>
<line x1="176.90" y1="370.20" x2="176.90" y2="435.70" stroke="#111" stroke-width="1.0" />
<line x1="176.90" y1="435.70" x2="255.40" y2="435.70" stroke="#111" stroke-width="1.0" />
<line x1="174.90" y1="372.50" x2="176.90" y2="372.50" stroke="#111" stroke-width="0.7" />
<text x="172.60" y="374.16" font-size="4.6" text-anchor="end" fill="#111" >160</text>
<line x1="174.90" y1="388.90" x2="176.90" y2="388.90" stroke="#111" stroke-width="0.7" />
<text x="172.60" y="390.56" font-size="4.6" text-anchor="end" fill="#111" >120</text>
<line x1="174.90" y1="405.40" x2="176.90" y2="405.40" stroke="#111" stroke-width="0.7" />
<text x="172.60" y="407.06" font-size="4.6" text-anchor="end" fill="#111" >80</text>
<line x1="174.90" y1="422.10" x2="176.90" y2="422.10" stroke="#111" stroke-width="0.7" />
<text x="172.60" y="423.76" font-size="4.6" text-anchor="end" fill="#111" >40</text>
<line x1="180.40" y1="435.70" x2="180.40" y2="437.70" stroke="#111" stroke-width="0.7" />
<text x="180.40" y="444.56" font-size="4.6" text-anchor="middle" fill="#111" >0</text>
<line x1="197.70" y1="435.70" x2="197.70" y2="437.70" stroke="#111" stroke-width="0.7" />
<text x="197.70" y="444.56" font-size="4.6" text-anchor="middle" fill="#111" >500</text>
<line x1="215.60" y1="435.70" x2="215.60" y2="437.70" stroke="#111" stroke-width="0.7" />
<text x="215.60" y="444.56" font-size="4.6" text-anchor="middle" fill="#111" >1000</text>
<line x1="232.90" y1="435.70" x2="232.90" y2="437.70" stroke="#111" stroke-width="0.7" />
<text x="232.90" y="444.56" font-size="4.6" text-anchor="middle" fill="#111" >1500</text>
<line x1="249.60" y1="435.70" x2="249.60" y2="437.70" stroke="#111" stroke-width="0.7" />
<text x="249.60" y="444.56" font-size="4.6" text-anchor="middle" fill="#111" >2000</text>
<path d="M181.20,393.30 C181.78,394.98 183.40,400.03 184.70,403.40 C186.00,406.77 187.55,410.48 189.00,413.50 C190.45,416.52 191.95,419.35 193.40,421.50 C194.85,423.65 196.27,425.23 197.70,426.40 C199.13,427.57 200.08,428.35 202.00,428.50 C203.92,428.65 206.55,427.70 209.20,427.30 C211.85,426.90 215.02,426.38 217.90,426.10 C220.78,425.82 224.10,425.63 226.50,425.60 C228.90,425.57 229.88,425.77 232.30,425.90 C234.72,426.03 237.88,426.07 241.00,426.40 C244.12,426.73 249.33,427.65 251.00,427.90" stroke="#b8283c" fill="none" stroke-width="1.25" stroke-dasharray="3.4,1.9"/>
<circle cx="180.40" cy="374.50" r="0.9" fill="#111" stroke="none" stroke-width="0"/>
<circle cx="181.00" cy="377.40" r="0.9" fill="#111" stroke="none" stroke-width="0"/>
<circle cx="181.80" cy="387.50" r="0.9" fill="#111" stroke="none" stroke-width="0"/>
<circle cx="182.70" cy="390.40" r="0.9" fill="#111" stroke="none" stroke-width="0"/>
<circle cx="183.80" cy="390.40" r="0.9" fill="#111" stroke="none" stroke-width="0"/>
<circle cx="179.80" cy="414.90" r="0.9" fill="#111" stroke="none" stroke-width="0"/>
<circle cx="180.40" cy="422.70" r="0.9" fill="#111" stroke="none" stroke-width="0"/>
<circle cx="184.70" cy="432.20" r="0.9" fill="#111" stroke="none" stroke-width="0"/>
<circle cx="199.10" cy="430.20" r="0.9" fill="#111" stroke="none" stroke-width="0"/>
<circle cx="207.20" cy="427.00" r="0.9" fill="#111" stroke="none" stroke-width="0"/>
<circle cx="215.00" cy="426.40" r="0.9" fill="#111" stroke="none" stroke-width="0"/>
<circle cx="231.70" cy="425.60" r="0.9" fill="#111" stroke="none" stroke-width="0"/>
<circle cx="241.50" cy="427.90" r="0.9" fill="#111" stroke="none" stroke-width="0"/>
<circle cx="245.30" cy="427.30" r="0.9" fill="#111" stroke="none" stroke-width="0"/>
<text x="209.80" y="377.70" font-size="6.4" text-anchor="start" fill="#c0244e" textLength="37.5" lengthAdjust="spacingAndGlyphs" >rho = −0.68,</text>
<text x="210.70" y="385.50" font-size="6.4" text-anchor="start" fill="#c0244e" textLength="41.3" lengthAdjust="spacingAndGlyphs" ><tspan font-style="italic">P</tspan> value = .001</text>
<text x="293.25" y="367.30" font-size="5.0" text-anchor="start" fill="#333" textLength="12.5" lengthAdjust="spacingAndGlyphs" >n = 10</text>
<line x1="293.75" y1="368.75" x2="293.75" y2="437.50" stroke="#111" stroke-width="1.0" />
<line x1="293.75" y1="437.50" x2="387.50" y2="437.50" stroke="#111" stroke-width="1.0" />
<line x1="291.75" y1="371.25" x2="293.75" y2="371.25" stroke="#111" stroke-width="0.7" />
<text x="289.45" y="372.91" font-size="4.6" text-anchor="end" fill="#111" >160</text>
<line x1="291.75" y1="388.00" x2="293.75" y2="388.00" stroke="#111" stroke-width="0.7" />
<text x="289.45" y="389.66" font-size="4.6" text-anchor="end" fill="#111" >120</text>
<line x1="291.75" y1="404.50" x2="293.75" y2="404.50" stroke="#111" stroke-width="0.7" />
<text x="289.45" y="406.16" font-size="4.6" text-anchor="end" fill="#111" >80</text>
<line x1="291.75" y1="421.25" x2="293.75" y2="421.25" stroke="#111" stroke-width="0.7" />
<text x="289.45" y="422.91" font-size="4.6" text-anchor="end" fill="#111" >40</text>
<line x1="298.25" y1="437.50" x2="298.25" y2="439.50" stroke="#111" stroke-width="0.7" />
<text x="298.25" y="447.41" font-size="4.6" text-anchor="middle" fill="#111" >0</text>
<line x1="330.00" y1="437.50" x2="330.00" y2="439.50" stroke="#111" stroke-width="0.7" />
<text x="330.00" y="447.41" font-size="4.6" text-anchor="middle" fill="#111" >250</text>
<line x1="362.50" y1="437.50" x2="362.50" y2="439.50" stroke="#111" stroke-width="0.7" />
<text x="362.50" y="447.41" font-size="4.6" text-anchor="middle" fill="#111" >500</text>
<path d="M298.75,402.50 C299.17,403.12 300.21,404.38 301.25,406.25 C302.29,408.12 303.54,411.25 305.00,413.75 C306.46,416.25 308.33,419.17 310.00,421.25 C311.67,423.33 313.33,424.88 315.00,426.25 C316.67,427.62 317.92,428.67 320.00,429.50 C322.08,430.33 324.58,430.83 327.50,431.25 C330.42,431.67 333.75,432.00 337.50,432.00 C341.25,432.00 345.83,431.38 350.00,431.25 C354.17,431.12 358.33,431.12 362.50,431.25 C366.67,431.38 371.17,431.79 375.00,432.00 C378.83,432.21 383.75,432.42 385.50,432.50" stroke="#b8283c" fill="none" stroke-width="1.25" stroke-dasharray="3.4,1.9"/>
<circle cx="301.25" cy="378.00" r="0.9" fill="#111" stroke="none" stroke-width="0"/>
<circle cx="300.00" cy="381.25" r="0.9" fill="#111" stroke="none" stroke-width="0"/>
<circle cx="300.50" cy="392.00" r="0.9" fill="#111" stroke="none" stroke-width="0"/>
<circle cx="302.50" cy="393.75" r="0.9" fill="#111" stroke="none" stroke-width="0"/>
<circle cx="305.00" cy="397.00" r="0.9" fill="#111" stroke="none" stroke-width="0"/>
<circle cx="308.75" cy="395.00" r="0.9" fill="#111" stroke="none" stroke-width="0"/>
<circle cx="300.00" cy="402.50" r="0.9" fill="#111" stroke="none" stroke-width="0"/>
<circle cx="303.00" cy="407.00" r="0.9" fill="#111" stroke="none" stroke-width="0"/>
<circle cx="300.00" cy="419.50" r="0.9" fill="#111" stroke="none" stroke-width="0"/>
<circle cx="300.00" cy="427.50" r="0.9" fill="#111" stroke="none" stroke-width="0"/>
<circle cx="303.75" cy="437.00" r="0.9" fill="#111" stroke="none" stroke-width="0"/>
<circle cx="315.75" cy="435.50" r="0.9" fill="#111" stroke="none" stroke-width="0"/>
<circle cx="337.50" cy="432.50" r="0.9" fill="#111" stroke="none" stroke-width="0"/>
<circle cx="350.00" cy="430.50" r="0.9" fill="#111" stroke="none" stroke-width="0"/>
<circle cx="358.75" cy="429.50" r="0.9" fill="#111" stroke="none" stroke-width="0"/>
<circle cx="358.75" cy="432.00" r="0.9" fill="#111" stroke="none" stroke-width="0"/>
<circle cx="370.00" cy="432.50" r="0.9" fill="#111" stroke="none" stroke-width="0"/>
<circle cx="385.00" cy="432.50" r="0.9" fill="#111" stroke="none" stroke-width="0"/>
<text x="342.50" y="374.30" font-size="6.4" text-anchor="start" fill="#c0244e" textLength="35.5" lengthAdjust="spacingAndGlyphs" >rho = −0.63,</text>
<text x="343.00" y="382.30" font-size="6.4" text-anchor="start" fill="#c0244e" textLength="42.5" lengthAdjust="spacingAndGlyphs" ><tspan font-style="italic">P</tspan> value = .004</text>
<text x="416.00" y="367.30" font-size="5.0" text-anchor="start" fill="#333" textLength="12.5" lengthAdjust="spacingAndGlyphs" >n = 10</text>
<line x1="413.00" y1="368.75" x2="413.00" y2="436.25" stroke="#111" stroke-width="1.0" />
<line x1="413.00" y1="436.25" x2="502.50" y2="436.25" stroke="#111" stroke-width="1.0" />
<line x1="411.00" y1="372.00" x2="413.00" y2="372.00" stroke="#111" stroke-width="0.7" />
<text x="408.70" y="373.66" font-size="4.6" text-anchor="end" fill="#111" >160</text>
<line x1="411.00" y1="388.00" x2="413.00" y2="388.00" stroke="#111" stroke-width="0.7" />
<text x="408.70" y="389.66" font-size="4.6" text-anchor="end" fill="#111" >120</text>
<line x1="411.00" y1="403.00" x2="413.00" y2="403.00" stroke="#111" stroke-width="0.7" />
<text x="408.70" y="404.66" font-size="4.6" text-anchor="end" fill="#111" >80</text>
<line x1="411.00" y1="418.25" x2="413.00" y2="418.25" stroke="#111" stroke-width="0.7" />
<text x="408.70" y="419.91" font-size="4.6" text-anchor="end" fill="#111" >40</text>
<line x1="411.00" y1="433.25" x2="413.00" y2="433.25" stroke="#111" stroke-width="0.7" />
<text x="408.70" y="434.91" font-size="4.6" text-anchor="end" fill="#111" >0</text>
<line x1="416.25" y1="436.25" x2="416.25" y2="438.25" stroke="#111" stroke-width="0.7" />
<text x="416.25" y="446.66" font-size="4.6" text-anchor="middle" fill="#111" >0</text>
<line x1="438.25" y1="436.25" x2="438.25" y2="438.25" stroke="#111" stroke-width="0.7" />
<text x="438.25" y="446.66" font-size="4.6" text-anchor="middle" fill="#111" >100</text>
<line x1="460.00" y1="436.25" x2="460.00" y2="438.25" stroke="#111" stroke-width="0.7" />
<text x="460.00" y="446.66" font-size="4.6" text-anchor="middle" fill="#111" >200</text>
<line x1="482.00" y1="436.25" x2="482.00" y2="438.25" stroke="#111" stroke-width="0.7" />
<text x="482.00" y="446.66" font-size="4.6" text-anchor="middle" fill="#111" >300</text>
<path d="M416.25,395.00 C416.67,396.25 417.71,400.00 418.75,402.50 C419.79,405.00 421.04,407.29 422.50,410.00 C423.96,412.71 425.62,416.25 427.50,418.75 C429.38,421.25 431.67,423.42 433.75,425.00 C435.83,426.58 437.71,427.62 440.00,428.25 C442.29,428.88 444.58,428.88 447.50,428.75 C450.42,428.62 453.75,427.79 457.50,427.50 C461.25,427.21 465.83,427.00 470.00,427.00 C474.17,427.00 477.50,427.29 482.50,427.50 C487.50,427.71 497.08,428.12 500.00,428.25" stroke="#b8283c" fill="none" stroke-width="1.25" stroke-dasharray="3.4,1.9"/>
<circle cx="417.50" cy="373.75" r="0.9" fill="#111" stroke="none" stroke-width="0"/>
<circle cx="417.00" cy="376.25" r="0.9" fill="#111" stroke="none" stroke-width="0"/>
<circle cx="417.50" cy="390.00" r="0.9" fill="#111" stroke="none" stroke-width="0"/>
<circle cx="419.50" cy="390.00" r="0.9" fill="#111" stroke="none" stroke-width="0"/>
<circle cx="420.50" cy="387.50" r="0.9" fill="#111" stroke="none" stroke-width="0"/>
<circle cx="418.75" cy="392.50" r="0.9" fill="#111" stroke="none" stroke-width="0"/>
<circle cx="417.00" cy="399.50" r="0.9" fill="#111" stroke="none" stroke-width="0"/>
<circle cx="417.00" cy="403.00" r="0.9" fill="#111" stroke="none" stroke-width="0"/>
<circle cx="416.25" cy="415.00" r="0.9" fill="#111" stroke="none" stroke-width="0"/>
<circle cx="416.25" cy="423.25" r="0.9" fill="#111" stroke="none" stroke-width="0"/>
<circle cx="423.75" cy="433.75" r="0.9" fill="#111" stroke="none" stroke-width="0"/>
<circle cx="433.75" cy="430.75" r="0.9" fill="#111" stroke="none" stroke-width="0"/>
<circle cx="446.25" cy="425.50" r="0.9" fill="#111" stroke="none" stroke-width="0"/>
<circle cx="450.00" cy="428.00" r="0.9" fill="#111" stroke="none" stroke-width="0"/>
<circle cx="454.50" cy="424.50" r="0.9" fill="#111" stroke="none" stroke-width="0"/>
<circle cx="476.25" cy="426.75" r="0.9" fill="#111" stroke="none" stroke-width="0"/>
<circle cx="482.50" cy="428.25" r="0.9" fill="#111" stroke="none" stroke-width="0"/>
<circle cx="498.00" cy="428.25" r="0.9" fill="#111" stroke="none" stroke-width="0"/>
<text x="453.75" y="372.30" font-size="6.4" text-anchor="start" fill="#c0244e" textLength="38.75" lengthAdjust="spacingAndGlyphs" >rho = −0.62,</text>
<text x="454.50" y="379.80" font-size="6.4" text-anchor="start" fill="#c0244e" textLength="41.75" lengthAdjust="spacingAndGlyphs" ><tspan font-style="italic">P</tspan> value = .004</text>
<text x="151.00" y="501.56" font-size="11" text-anchor="middle" fill="#000" textLength="10.5" lengthAdjust="spacingAndGlyphs" transform="rotate(-90 151.00 497.60)" >BTK</text>
<text x="173.20" y="463.00" font-size="5.0" text-anchor="start" fill="#333" textLength="12.5" lengthAdjust="spacingAndGlyphs" >n = 10</text>
<line x1="174.00" y1="464.40" x2="174.00" y2="528.50" stroke="#111" stroke-width="1.0" />
<line x1="174.00" y1="528.50" x2="258.30" y2="528.50" stroke="#111" stroke-width="1.0" />
<line x1="172.00" y1="467.90" x2="174.00" y2="467.90" stroke="#111" stroke-width="0.7" />
<text x="169.70" y="469.56" font-size="4.6" text-anchor="end" fill="#111" >100</text>
<line x1="172.00" y1="482.30" x2="174.00" y2="482.30" stroke="#111" stroke-width="0.7" />
<text x="169.70" y="483.96" font-size="4.6" text-anchor="end" fill="#111" >75</text>
<line x1="172.00" y1="496.10" x2="174.00" y2="496.10" stroke="#111" stroke-width="0.7" />
<text x="169.70" y="497.76" font-size="4.6" text-anchor="end" fill="#111" >50</text>
<line x1="172.00" y1="511.10" x2="174.00" y2="511.10" stroke="#111" stroke-width="0.7" />
<text x="169.70" y="512.76" font-size="4.6" text-anchor="end" fill="#111" >25</text>
<line x1="172.00" y1="525.90" x2="174.00" y2="525.90" stroke="#111" stroke-width="0.7" />
<text x="169.70" y="527.56" font-size="4.6" text-anchor="end" fill="#111" >0</text>
<line x1="177.50" y1="528.50" x2="177.50" y2="530.50" stroke="#111" stroke-width="0.7" />
<text x="177.50" y="537.66" font-size="4.6" text-anchor="middle" fill="#111" >0</text>
<line x1="194.20" y1="528.50" x2="194.20" y2="530.50" stroke="#111" stroke-width="0.7" />
<text x="194.20" y="537.66" font-size="4.6" text-anchor="middle" fill="#111" >500</text>
<line x1="211.50" y1="528.50" x2="211.50" y2="530.50" stroke="#111" stroke-width="0.7" />
<text x="211.50" y="537.66" font-size="4.6" text-anchor="middle" fill="#111" >1000</text>
<line x1="229.40" y1="528.50" x2="229.40" y2="530.50" stroke="#111" stroke-width="0.7" />
<text x="229.40" y="537.66" font-size="4.6" text-anchor="middle" fill="#111" >1500</text>
<line x1="246.70" y1="528.50" x2="246.70" y2="530.50" stroke="#111" stroke-width="0.7" />
<text x="246.70" y="537.66" font-size="4.6" text-anchor="middle" fill="#111" >2000</text>
<path d="M176.90,481.70 C177.23,482.67 178.08,485.10 178.90,487.50 C179.72,489.90 180.60,493.45 181.80,496.10 C183.00,498.75 184.42,500.98 186.10,503.40 C187.78,505.82 189.97,508.45 191.90,510.60 C193.83,512.75 196.02,515.00 197.70,516.30 C199.38,517.60 200.08,518.30 202.00,518.40 C203.92,518.50 206.55,517.63 209.20,516.90 C211.85,516.17 215.02,514.92 217.90,514.00 C220.78,513.08 224.10,511.97 226.50,511.40 C228.90,510.83 229.88,510.50 232.30,510.60 C234.72,510.70 238.35,511.13 241.00,512.00 C243.65,512.87 245.80,514.60 248.20,515.80 C250.60,517.00 254.20,518.63 255.40,519.20" stroke="#b8283c" fill="none" stroke-width="1.25" stroke-dasharray="3.4,1.9"/>
<circle cx="180.40" cy="467.90" r="0.9" fill="#111" stroke="none" stroke-width="0"/>
<circle cx="178.90" cy="474.50" r="0.9" fill="#111" stroke="none" stroke-width="0"/>
<circle cx="178.90" cy="476.50" r="0.9" fill="#111" stroke="none" stroke-width="0"/>
<circle cx="178.40" cy="480.30" r="0.9" fill="#111" stroke="none" stroke-width="0"/>
<circle cx="180.40" cy="481.20" r="0.9" fill="#111" stroke="none" stroke-width="0"/>
<circle cx="177.50" cy="486.90" r="0.9" fill="#111" stroke="none" stroke-width="0"/>
<circle cx="178.90" cy="494.70" r="0.9" fill="#111" stroke="none" stroke-width="0"/>
<circle cx="180.40" cy="494.70" r="0.9" fill="#111" stroke="none" stroke-width="0"/>
<circle cx="177.50" cy="510.60" r="0.9" fill="#111" stroke="none" stroke-width="0"/>
<circle cx="182.70" cy="520.10" r="0.9" fill="#111" stroke="none" stroke-width="0"/>
<circle cx="199.10" cy="525.90" r="0.9" fill="#111" stroke="none" stroke-width="0"/>
<circle cx="206.90" cy="508.60" r="0.9" fill="#111" stroke="none" stroke-width="0"/>
<circle cx="214.40" cy="514.90" r="0.9" fill="#111" stroke="none" stroke-width="0"/>
<circle cx="215.50" cy="515.50" r="0.9" fill="#111" stroke="none" stroke-width="0"/>
<circle cx="232.90" cy="503.40" r="0.9" fill="#111" stroke="none" stroke-width="0"/>
<circle cx="232.90" cy="514.90" r="0.9" fill="#111" stroke="none" stroke-width="0"/>
<circle cx="244.40" cy="512.90" r="0.9" fill="#111" stroke="none" stroke-width="0"/>
<circle cx="247.30" cy="518.10" r="0.9" fill="#111" stroke="none" stroke-width="0"/>
<circle cx="255.40" cy="519.20" r="0.9" fill="#111" stroke="none" stroke-width="0"/>
<text x="210.70" y="470.50" font-size="6.4" text-anchor="start" fill="#c0244e" textLength="36.6" lengthAdjust="spacingAndGlyphs" >rho = −0.64,</text>
<text x="211.00" y="478.30" font-size="6.4" text-anchor="start" fill="#c0244e" textLength="41.3" lengthAdjust="spacingAndGlyphs" ><tspan font-style="italic">P</tspan> value = .003</text>
<text x="288.75" y="461.55" font-size="5.0" text-anchor="start" fill="#333" textLength="12.5" lengthAdjust="spacingAndGlyphs" >n = 10</text>
<line x1="290.50" y1="463.75" x2="290.50" y2="527.50" stroke="#111" stroke-width="1.0" />
<line x1="290.50" y1="527.50" x2="387.50" y2="527.50" stroke="#111" stroke-width="1.0" />
<line x1="288.50" y1="467.00" x2="290.50" y2="467.00" stroke="#111" stroke-width="0.7" />
<text x="286.20" y="468.66" font-size="4.6" text-anchor="end" fill="#111" >100</text>
<line x1="288.50" y1="481.25" x2="290.50" y2="481.25" stroke="#111" stroke-width="0.7" />
<text x="286.20" y="482.91" font-size="4.6" text-anchor="end" fill="#111" >75</text>
<line x1="288.50" y1="495.75" x2="290.50" y2="495.75" stroke="#111" stroke-width="0.7" />
<text x="286.20" y="497.41" font-size="4.6" text-anchor="end" fill="#111" >50</text>
<line x1="288.50" y1="510.50" x2="290.50" y2="510.50" stroke="#111" stroke-width="0.7" />
<text x="286.20" y="512.16" font-size="4.6" text-anchor="end" fill="#111" >25</text>
<line x1="288.50" y1="525.00" x2="290.50" y2="525.00" stroke="#111" stroke-width="0.7" />
<text x="286.20" y="526.66" font-size="4.6" text-anchor="end" fill="#111" >0</text>
<line x1="293.75" y1="527.50" x2="293.75" y2="529.50" stroke="#111" stroke-width="0.7" />
<text x="293.75" y="536.66" font-size="4.6" text-anchor="middle" fill="#111" >0</text>
<line x1="311.25" y1="527.50" x2="311.25" y2="529.50" stroke="#111" stroke-width="0.7" />
<text x="311.25" y="536.66" font-size="4.6" text-anchor="middle" fill="#111" >100</text>
<line x1="329.25" y1="527.50" x2="329.25" y2="529.50" stroke="#111" stroke-width="0.7" />
<text x="329.25" y="536.66" font-size="4.6" text-anchor="middle" fill="#111" >200</text>
<line x1="346.75" y1="527.50" x2="346.75" y2="529.50" stroke="#111" stroke-width="0.7" />
<text x="346.75" y="536.66" font-size="4.6" text-anchor="middle" fill="#111" >300</text>
<line x1="364.50" y1="527.50" x2="364.50" y2="529.50" stroke="#111" stroke-width="0.7" />
<text x="364.50" y="536.66" font-size="4.6" text-anchor="middle" fill="#111" >400</text>
<line x1="382.50" y1="527.50" x2="382.50" y2="529.50" stroke="#111" stroke-width="0.7" />
<text x="382.50" y="536.66" font-size="4.6" text-anchor="middle" fill="#111" >500</text>
<path d="M293.75,485.00 C294.17,485.83 295.21,487.92 296.25,490.00 C297.29,492.08 298.54,494.79 300.00,497.50 C301.46,500.21 303.12,503.83 305.00,506.25 C306.88,508.67 308.75,510.62 311.25,512.00 C313.75,513.38 316.88,514.33 320.00,514.50 C323.12,514.67 326.25,513.62 330.00,513.00 C333.75,512.38 338.75,511.25 342.50,510.75 C346.25,510.25 349.17,510.00 352.50,510.00 C355.83,510.00 359.17,510.33 362.50,510.75 C365.83,511.17 368.75,511.38 372.50,512.50 C376.25,513.62 382.92,516.67 385.00,517.50" stroke="#b8283c" fill="none" stroke-width="1.25" stroke-dasharray="3.4,1.9"/>
<circle cx="300.00" cy="466.25" r="0.9" fill="#111" stroke="none" stroke-width="0"/>
<circle cx="295.00" cy="473.75" r="0.9" fill="#111" stroke="none" stroke-width="0"/>
<circle cx="294.50" cy="475.00" r="0.9" fill="#111" stroke="none" stroke-width="0"/>
<circle cx="295.00" cy="478.75" r="0.9" fill="#111" stroke="none" stroke-width="0"/>
<circle cx="297.00" cy="479.50" r="0.9" fill="#111" stroke="none" stroke-width="0"/>
<circle cx="294.25" cy="485.00" r="0.9" fill="#111" stroke="none" stroke-width="0"/>
<circle cx="295.00" cy="492.50" r="0.9" fill="#111" stroke="none" stroke-width="0"/>
<circle cx="297.00" cy="492.50" r="0.9" fill="#111" stroke="none" stroke-width="0"/>
<circle cx="293.75" cy="509.25" r="0.9" fill="#111" stroke="none" stroke-width="0"/>
<circle cx="297.50" cy="518.75" r="0.9" fill="#111" stroke="none" stroke-width="0"/>
<circle cx="310.50" cy="524.50" r="0.9" fill="#111" stroke="none" stroke-width="0"/>
<circle cx="325.50" cy="514.50" r="0.9" fill="#111" stroke="none" stroke-width="0"/>
<circle cx="336.25" cy="507.00" r="0.9" fill="#111" stroke="none" stroke-width="0"/>
<circle cx="346.25" cy="514.50" r="0.9" fill="#111" stroke="none" stroke-width="0"/>
<circle cx="356.25" cy="502.00" r="0.9" fill="#111" stroke="none" stroke-width="0"/>
<circle cx="355.00" cy="516.75" r="0.9" fill="#111" stroke="none" stroke-width="0"/>
<circle cx="357.50" cy="513.25" r="0.9" fill="#111" stroke="none" stroke-width="0"/>
<circle cx="367.00" cy="511.25" r="0.9" fill="#111" stroke="none" stroke-width="0"/>
<circle cx="384.50" cy="517.50" r="0.9" fill="#111" stroke="none" stroke-width="0"/>
<text x="344.50" y="467.80" font-size="6.4" text-anchor="start" fill="#c0244e" textLength="35.5" lengthAdjust="spacingAndGlyphs" >rho = −0.57,</text>
<text x="345.00" y="475.30" font-size="6.4" text-anchor="start" fill="#c0244e" textLength="41.25" lengthAdjust="spacingAndGlyphs" ><tspan font-style="italic">P</tspan> value = 0.01</text>
<text x="311.25" y="503.05" font-size="5" text-anchor="middle" fill="#111" >0</text>
<text x="413.00" y="459.80" font-size="5.0" text-anchor="start" fill="#333" textLength="12.5" lengthAdjust="spacingAndGlyphs" >n = 10</text>
<line x1="412.00" y1="461.25" x2="412.00" y2="525.00" stroke="#111" stroke-width="1.0" />
<line x1="412.00" y1="525.00" x2="510.00" y2="525.00" stroke="#111" stroke-width="1.0" />
<line x1="410.00" y1="465.00" x2="412.00" y2="465.00" stroke="#111" stroke-width="0.7" />
<text x="407.70" y="466.66" font-size="4.6" text-anchor="end" fill="#111" >100</text>
<line x1="410.00" y1="479.50" x2="412.00" y2="479.50" stroke="#111" stroke-width="0.7" />
<text x="407.70" y="481.16" font-size="4.6" text-anchor="end" fill="#111" >75</text>
<line x1="410.00" y1="494.50" x2="412.00" y2="494.50" stroke="#111" stroke-width="0.7" />
<text x="407.70" y="496.16" font-size="4.6" text-anchor="end" fill="#111" >50</text>
<line x1="410.00" y1="509.25" x2="412.00" y2="509.25" stroke="#111" stroke-width="0.7" />
<text x="407.70" y="510.91" font-size="4.6" text-anchor="end" fill="#111" >25</text>
<line x1="410.00" y1="524.25" x2="412.00" y2="524.25" stroke="#111" stroke-width="0.7" />
<text x="407.70" y="525.91" font-size="4.6" text-anchor="end" fill="#111" >0</text>
<line x1="416.25" y1="525.00" x2="416.25" y2="527.00" stroke="#111" stroke-width="0.7" />
<text x="416.25" y="535.41" font-size="4.6" text-anchor="middle" fill="#111" >0</text>
<line x1="440.00" y1="525.00" x2="440.00" y2="527.00" stroke="#111" stroke-width="0.7" />
<text x="440.00" y="535.41" font-size="4.6" text-anchor="middle" fill="#111" >100</text>
<line x1="463.75" y1="525.00" x2="463.75" y2="527.00" stroke="#111" stroke-width="0.7" />
<text x="463.75" y="535.41" font-size="4.6" text-anchor="middle" fill="#111" >200</text>
<line x1="487.50" y1="525.00" x2="487.50" y2="527.00" stroke="#111" stroke-width="0.7" />
<text x="487.50" y="535.41" font-size="4.6" text-anchor="middle" fill="#111" >300</text>
<path d="M417.00,478.75 C417.29,479.79 417.83,482.08 418.75,485.00 C419.67,487.92 421.04,492.71 422.50,496.25 C423.96,499.79 425.62,503.33 427.50,506.25 C429.38,509.17 431.67,511.88 433.75,513.75 C435.83,515.62 437.92,517.08 440.00,517.50 C442.08,517.92 443.96,517.50 446.25,516.25 C448.54,515.00 451.04,511.54 453.75,510.00 C456.46,508.46 459.38,507.42 462.50,507.00 C465.62,506.58 469.17,507.00 472.50,507.50 C475.83,508.00 479.17,508.83 482.50,510.00 C485.83,511.17 488.67,513.25 492.50,514.50 C496.33,515.75 503.33,517.00 505.50,517.50" stroke="#b8283c" fill="none" stroke-width="1.25" stroke-dasharray="3.4,1.9"/>
<circle cx="420.50" cy="464.25" r="0.9" fill="#111" stroke="none" stroke-width="0"/>
<circle cx="418.00" cy="471.25" r="0.9" fill="#111" stroke="none" stroke-width="0"/>
<circle cx="417.50" cy="472.50" r="0.9" fill="#111" stroke="none" stroke-width="0"/>
<circle cx="417.50" cy="477.00" r="0.9" fill="#111" stroke="none" stroke-width="0"/>
<circle cx="417.00" cy="483.75" r="0.9" fill="#111" stroke="none" stroke-width="0"/>
<circle cx="420.00" cy="491.25" r="0.9" fill="#111" stroke="none" stroke-width="0"/>
<circle cx="421.25" cy="491.25" r="0.9" fill="#111" stroke="none" stroke-width="0"/>
<circle cx="417.00" cy="508.00" r="0.9" fill="#111" stroke="none" stroke-width="0"/>
<circle cx="425.00" cy="517.50" r="0.9" fill="#111" stroke="none" stroke-width="0"/>
<circle cx="435.75" cy="523.75" r="0.9" fill="#111" stroke="none" stroke-width="0"/>
<circle cx="450.00" cy="513.75" r="0.9" fill="#111" stroke="none" stroke-width="0"/>
<circle cx="458.75" cy="500.75" r="0.9" fill="#111" stroke="none" stroke-width="0"/>
<circle cx="456.25" cy="510.00" r="0.9" fill="#111" stroke="none" stroke-width="0"/>
<circle cx="465.00" cy="506.25" r="0.9" fill="#111" stroke="none" stroke-width="0"/>
<circle cx="482.50" cy="511.25" r="0.9" fill="#111" stroke="none" stroke-width="0"/>
<circle cx="488.25" cy="515.50" r="0.9" fill="#111" stroke="none" stroke-width="0"/>
<circle cx="505.00" cy="517.00" r="0.9" fill="#111" stroke="none" stroke-width="0"/>
<text x="460.75" y="467.80" font-size="6.4" text-anchor="start" fill="#c0244e" textLength="36.75" lengthAdjust="spacingAndGlyphs" >rho = −0.64,</text>
<text x="461.25" y="476.05" font-size="6.4" text-anchor="start" fill="#c0244e" textLength="42.5" lengthAdjust="spacingAndGlyphs" ><tspan font-style="italic">P</tspan> value = .003</text>
<text x="151.00" y="585.66" font-size="11" text-anchor="middle" fill="#000" textLength="14.5" lengthAdjust="spacingAndGlyphs" transform="rotate(-90 151.00 581.70)" >BCL2</text>
<text x="176.50" y="550.80" font-size="5.0" text-anchor="start" fill="#333" textLength="12.5" lengthAdjust="spacingAndGlyphs" >n = 10</text>
<line x1="176.00" y1="552.00" x2="176.00" y2="611.10" stroke="#111" stroke-width="1.0" />
<line x1="176.00" y1="611.10" x2="266.90" y2="611.10" stroke="#111" stroke-width="1.0" />
<line x1="174.00" y1="562.10" x2="176.00" y2="562.10" stroke="#111" stroke-width="0.7" />
<text x="171.70" y="563.76" font-size="4.6" text-anchor="end" fill="#111" >200</text>
<line x1="174.00" y1="575.40" x2="176.00" y2="575.40" stroke="#111" stroke-width="0.7" />
<text x="171.70" y="577.06" font-size="4.6" text-anchor="end" fill="#111" >150</text>
<line x1="174.00" y1="587.50" x2="176.00" y2="587.50" stroke="#111" stroke-width="0.7" />
<text x="171.70" y="589.16" font-size="4.6" text-anchor="end" fill="#111" >100</text>
<line x1="174.00" y1="600.50" x2="176.00" y2="600.50" stroke="#111" stroke-width="0.7" />
<text x="171.70" y="602.16" font-size="4.6" text-anchor="end" fill="#111" >50</text>
<line x1="179.80" y1="611.10" x2="179.80" y2="613.10" stroke="#111" stroke-width="0.7" />
<text x="179.80" y="620.86" font-size="4.6" text-anchor="middle" fill="#111" >0</text>
<line x1="199.10" y1="611.10" x2="199.10" y2="613.10" stroke="#111" stroke-width="0.7" />
<text x="199.10" y="620.86" font-size="4.6" text-anchor="middle" fill="#111" >500</text>
<line x1="217.90" y1="611.10" x2="217.90" y2="613.10" stroke="#111" stroke-width="0.7" />
<text x="217.90" y="620.86" font-size="4.6" text-anchor="middle" fill="#111" >1000</text>
<line x1="236.60" y1="611.10" x2="236.60" y2="613.10" stroke="#111" stroke-width="0.7" />
<text x="236.60" y="620.86" font-size="4.6" text-anchor="middle" fill="#111" >1500</text>
<line x1="255.40" y1="611.10" x2="255.40" y2="613.10" stroke="#111" stroke-width="0.7" />
<text x="255.40" y="620.86" font-size="4.6" text-anchor="middle" fill="#111" >2000</text>
<path d="M179.80,578.80 C180.28,580.25 181.65,584.62 182.70,587.50 C183.75,590.38 184.57,593.55 186.10,596.10 C187.63,598.65 189.73,601.20 191.90,602.80 C194.07,604.40 196.22,605.47 199.10,605.70 C201.98,605.93 204.63,604.73 209.20,604.20 C213.77,603.67 220.73,603.02 226.50,602.50 C232.27,601.98 238.98,601.58 243.80,601.10 C248.62,600.62 252.03,600.52 255.40,599.60 C258.77,598.68 262.57,596.27 264.00,595.60" stroke="#b8283c" fill="none" stroke-width="1.25" stroke-dasharray="3.4,1.9"/>
<circle cx="181.80" cy="554.30" r="0.9" fill="#111" stroke="none" stroke-width="0"/>
<circle cx="180.40" cy="576.00" r="0.9" fill="#111" stroke="none" stroke-width="0"/>
<circle cx="181.80" cy="578.80" r="0.9" fill="#111" stroke="none" stroke-width="0"/>
<circle cx="181.00" cy="587.50" r="0.9" fill="#111" stroke="none" stroke-width="0"/>
<circle cx="183.30" cy="587.50" r="0.9" fill="#111" stroke="none" stroke-width="0"/>
<circle cx="182.70" cy="592.70" r="0.9" fill="#111" stroke="none" stroke-width="0"/>
<circle cx="180.40" cy="595.30" r="0.9" fill="#111" stroke="none" stroke-width="0"/>
<circle cx="180.40" cy="605.40" r="0.9" fill="#111" stroke="none" stroke-width="0"/>
<circle cx="185.60" cy="604.20" r="0.9" fill="#111" stroke="none" stroke-width="0"/>
<circle cx="202.90" cy="608.60" r="0.9" fill="#111" stroke="none" stroke-width="0"/>
<circle cx="211.50" cy="597.60" r="0.9" fill="#111" stroke="none" stroke-width="0"/>
<circle cx="220.20" cy="607.10" r="0.9" fill="#111" stroke="none" stroke-width="0"/>
<circle cx="239.50" cy="600.50" r="0.9" fill="#111" stroke="none" stroke-width="0"/>
<circle cx="255.40" cy="602.80" r="0.9" fill="#111" stroke="none" stroke-width="0"/>
<circle cx="263.40" cy="594.70" r="0.9" fill="#111" stroke="none" stroke-width="0"/>
<text x="218.50" y="557.50" font-size="6.4" text-anchor="start" fill="#c0244e" textLength="36.9" lengthAdjust="spacingAndGlyphs" >rho = −0.46,</text>
<text x="218.50" y="566.10" font-size="6.4" text-anchor="start" fill="#c0244e" textLength="42.6" lengthAdjust="spacingAndGlyphs" ><tspan font-style="italic">P</tspan> value = .044</text>
<text x="291.25" y="556.05" font-size="5.0" text-anchor="start" fill="#333" textLength="12.5" lengthAdjust="spacingAndGlyphs" >n = 10</text>
<line x1="290.50" y1="557.50" x2="290.50" y2="617.50" stroke="#111" stroke-width="1.0" />
<line x1="290.50" y1="617.50" x2="382.50" y2="617.50" stroke="#111" stroke-width="1.0" />
<line x1="288.50" y1="568.25" x2="290.50" y2="568.25" stroke="#111" stroke-width="0.7" />
<text x="286.20" y="569.91" font-size="4.6" text-anchor="end" fill="#111" >200</text>
<line x1="288.50" y1="580.75" x2="290.50" y2="580.75" stroke="#111" stroke-width="0.7" />
<text x="286.20" y="582.41" font-size="4.6" text-anchor="end" fill="#111" >150</text>
<line x1="288.50" y1="593.25" x2="290.50" y2="593.25" stroke="#111" stroke-width="0.7" />
<text x="286.20" y="594.91" font-size="4.6" text-anchor="end" fill="#111" >100</text>
<line x1="288.50" y1="606.25" x2="290.50" y2="606.25" stroke="#111" stroke-width="0.7" />
<text x="286.20" y="607.91" font-size="4.6" text-anchor="end" fill="#111" >50</text>
<line x1="294.50" y1="617.50" x2="294.50" y2="619.50" stroke="#111" stroke-width="0.7" />
<text x="294.50" y="626.66" font-size="4.6" text-anchor="middle" fill="#111" >0</text>
<line x1="313.75" y1="617.50" x2="313.75" y2="619.50" stroke="#111" stroke-width="0.7" />
<text x="313.75" y="626.66" font-size="4.6" text-anchor="middle" fill="#111" >500</text>
<line x1="332.50" y1="617.50" x2="332.50" y2="619.50" stroke="#111" stroke-width="0.7" />
<text x="332.50" y="626.66" font-size="4.6" text-anchor="middle" fill="#111" >1000</text>
<line x1="351.25" y1="617.50" x2="351.25" y2="619.50" stroke="#111" stroke-width="0.7" />
<text x="351.25" y="626.66" font-size="4.6" text-anchor="middle" fill="#111" >1500</text>
<line x1="370.00" y1="617.50" x2="370.00" y2="619.50" stroke="#111" stroke-width="0.7" />
<text x="370.00" y="626.66" font-size="4.6" text-anchor="middle" fill="#111" >2000</text>
<path d="M298.75,586.25 C299.17,587.08 300.21,589.17 301.25,591.25 C302.29,593.33 303.54,596.46 305.00,598.75 C306.46,601.04 308.12,603.46 310.00,605.00 C311.88,606.54 313.75,607.38 316.25,608.00 C318.75,608.62 321.88,608.83 325.00,608.75 C328.12,608.67 331.67,607.83 335.00,607.50 C338.33,607.17 341.25,607.08 345.00,606.75 C348.75,606.42 353.33,606.21 357.50,605.50 C361.67,604.79 366.04,603.62 370.00,602.50 C373.96,601.38 379.38,599.38 381.25,598.75" stroke="#b8283c" fill="none" stroke-width="1.25" stroke-dasharray="3.4,1.9"/>
<circle cx="300.00" cy="557.00" r="0.9" fill="#111" stroke="none" stroke-width="0"/>
<circle cx="300.00" cy="578.75" r="0.9" fill="#111" stroke="none" stroke-width="0"/>
<circle cx="298.75" cy="581.25" r="0.9" fill="#111" stroke="none" stroke-width="0"/>
<circle cx="299.00" cy="582.50" r="0.9" fill="#111" stroke="none" stroke-width="0"/>
<circle cx="301.25" cy="587.50" r="0.9" fill="#111" stroke="none" stroke-width="0"/>
<circle cx="303.75" cy="588.75" r="0.9" fill="#111" stroke="none" stroke-width="0"/>
<circle cx="299.50" cy="591.25" r="0.9" fill="#111" stroke="none" stroke-width="0"/>
<circle cx="302.00" cy="592.50" r="0.9" fill="#111" stroke="none" stroke-width="0"/>
<circle cx="300.00" cy="600.00" r="0.9" fill="#111" stroke="none" stroke-width="0"/>
<circle cx="298.75" cy="609.50" r="0.9" fill="#111" stroke="none" stroke-width="0"/>
<circle cx="302.00" cy="608.75" r="0.9" fill="#111" stroke="none" stroke-width="0"/>
<circle cx="313.75" cy="613.00" r="0.9" fill="#111" stroke="none" stroke-width="0"/>
<circle cx="336.25" cy="602.00" r="0.9" fill="#111" stroke="none" stroke-width="0"/>
<circle cx="346.25" cy="611.75" r="0.9" fill="#111" stroke="none" stroke-width="0"/>
<circle cx="355.00" cy="605.50" r="0.9" fill="#111" stroke="none" stroke-width="0"/>
<circle cx="356.25" cy="604.50" r="0.9" fill="#111" stroke="none" stroke-width="0"/>
<circle cx="380.00" cy="598.75" r="0.9" fill="#111" stroke="none" stroke-width="0"/>
<text x="333.75" y="563.05" font-size="6.4" text-anchor="start" fill="#c0244e" textLength="36.25" lengthAdjust="spacingAndGlyphs" >rho = −0.45,</text>
<text x="333.75" y="571.05" font-size="6.4" text-anchor="start" fill="#c0244e" textLength="42.5" lengthAdjust="spacingAndGlyphs" ><tspan font-style="italic">P</tspan> value = .048</text>
<text x="415.00" y="553.55" font-size="5.0" text-anchor="start" fill="#333" textLength="12.5" lengthAdjust="spacingAndGlyphs" >n = 10</text>
<line x1="415.50" y1="556.25" x2="415.50" y2="615.00" stroke="#111" stroke-width="1.0" />
<line x1="415.50" y1="615.00" x2="506.25" y2="615.00" stroke="#111" stroke-width="1.0" />
<line x1="413.50" y1="565.00" x2="415.50" y2="565.00" stroke="#111" stroke-width="0.7" />
<text x="411.20" y="566.66" font-size="4.6" text-anchor="end" fill="#111" >200</text>
<line x1="413.50" y1="578.75" x2="415.50" y2="578.75" stroke="#111" stroke-width="0.7" />
<text x="411.20" y="580.41" font-size="4.6" text-anchor="end" fill="#111" >150</text>
<line x1="413.50" y1="591.25" x2="415.50" y2="591.25" stroke="#111" stroke-width="0.7" />
<text x="411.20" y="592.91" font-size="4.6" text-anchor="end" fill="#111" >100</text>
<line x1="413.50" y1="604.25" x2="415.50" y2="604.25" stroke="#111" stroke-width="0.7" />
<text x="411.20" y="605.91" font-size="4.6" text-anchor="end" fill="#111" >50</text>
<line x1="420.00" y1="615.00" x2="420.00" y2="617.00" stroke="#111" stroke-width="0.7" />
<text x="420.00" y="623.66" font-size="4.6" text-anchor="middle" fill="#111" >0</text>
<line x1="438.00" y1="615.00" x2="438.00" y2="617.00" stroke="#111" stroke-width="0.7" />
<text x="438.00" y="623.66" font-size="4.6" text-anchor="middle" fill="#111" >500</text>
<line x1="456.25" y1="615.00" x2="456.25" y2="617.00" stroke="#111" stroke-width="0.7" />
<text x="456.25" y="623.66" font-size="4.6" text-anchor="middle" fill="#111" >1000</text>
<line x1="475.00" y1="615.00" x2="475.00" y2="617.00" stroke="#111" stroke-width="0.7" />
<text x="475.00" y="623.66" font-size="4.6" text-anchor="middle" fill="#111" >1500</text>
<line x1="493.75" y1="615.00" x2="493.75" y2="617.00" stroke="#111" stroke-width="0.7" />
<text x="493.75" y="623.66" font-size="4.6" text-anchor="middle" fill="#111" >2000</text>
<path d="M428.75,587.50 C429.38,587.92 431.04,588.75 432.50,590.00 C433.96,591.25 435.62,593.12 437.50,595.00 C439.38,596.88 441.67,599.38 443.75,601.25 C445.83,603.12 448.33,605.29 450.00,606.25 C451.67,607.21 452.50,607.42 453.75,607.00 C455.00,606.58 456.04,604.83 457.50,603.75 C458.96,602.67 460.00,601.25 462.50,600.50 C465.00,599.75 468.75,599.54 472.50,599.25 C476.25,598.96 480.83,599.12 485.00,598.75 C489.17,598.38 495.42,597.29 497.50,597.00" stroke="#2f6a9e" fill="none" stroke-width="1.25" stroke-dasharray="3.4,1.9"/>
<circle cx="431.25" cy="562.00" r="0.9" fill="#111" stroke="none" stroke-width="0"/>
<circle cx="428.75" cy="579.50" r="0.9" fill="#111" stroke="none" stroke-width="0"/>
<circle cx="428.00" cy="582.50" r="0.9" fill="#111" stroke="none" stroke-width="0"/>
<circle cx="429.50" cy="588.00" r="0.9" fill="#111" stroke="none" stroke-width="0"/>
<circle cx="428.25" cy="590.00" r="0.9" fill="#111" stroke="none" stroke-width="0"/>
<circle cx="428.00" cy="593.25" r="0.9" fill="#111" stroke="none" stroke-width="0"/>
<circle cx="428.75" cy="597.00" r="0.9" fill="#111" stroke="none" stroke-width="0"/>
<circle cx="428.00" cy="605.00" r="0.9" fill="#111" stroke="none" stroke-width="0"/>
<circle cx="434.50" cy="604.25" r="0.9" fill="#111" stroke="none" stroke-width="0"/>
<circle cx="442.50" cy="608.00" r="0.9" fill="#111" stroke="none" stroke-width="0"/>
<circle cx="453.75" cy="607.00" r="0.9" fill="#111" stroke="none" stroke-width="0"/>
<circle cx="456.25" cy="602.50" r="0.9" fill="#111" stroke="none" stroke-width="0"/>
<circle cx="460.75" cy="600.00" r="0.9" fill="#111" stroke="none" stroke-width="0"/>
<circle cx="465.75" cy="599.25" r="0.9" fill="#111" stroke="none" stroke-width="0"/>
<circle cx="478.75" cy="600.00" r="0.9" fill="#111" stroke="none" stroke-width="0"/>
<circle cx="484.25" cy="602.50" r="0.9" fill="#111" stroke="none" stroke-width="0"/>
<circle cx="497.50" cy="595.75" r="0.9" fill="#111" stroke="none" stroke-width="0"/>
<text x="458.75" y="561.80" font-size="6.4" text-anchor="start" fill="#222" textLength="36.25" lengthAdjust="spacingAndGlyphs" >rho = −0.42,</text>
<text x="458.75" y="568.55" font-size="6.4" text-anchor="start" fill="#222" textLength="42.5" lengthAdjust="spacingAndGlyphs" ><tspan font-style="italic">P</tspan> value = .069</text>
<text x="151.00" y="677.76" font-size="11" text-anchor="middle" fill="#000" textLength="12.4" lengthAdjust="spacingAndGlyphs" transform="rotate(-90 151.00 673.80)" >SYK</text>
<text x="177.50" y="641.00" font-size="5.0" text-anchor="start" fill="#333" textLength="12.5" lengthAdjust="spacingAndGlyphs" >n = 10</text>
<line x1="176.90" y1="643.50" x2="176.90" y2="703.20" stroke="#111" stroke-width="1.0" />
<line x1="176.90" y1="703.20" x2="262.60" y2="703.20" stroke="#111" stroke-width="1.0" />
<line x1="174.90" y1="657.40" x2="176.90" y2="657.40" stroke="#111" stroke-width="0.7" />
<text x="172.60" y="659.06" font-size="4.6" text-anchor="end" fill="#111" >100</text>
<line x1="174.90" y1="668.10" x2="176.90" y2="668.10" stroke="#111" stroke-width="0.7" />
<text x="172.60" y="669.76" font-size="4.6" text-anchor="end" fill="#111" >75</text>
<line x1="174.90" y1="679.60" x2="176.90" y2="679.60" stroke="#111" stroke-width="0.7" />
<text x="172.60" y="681.26" font-size="4.6" text-anchor="end" fill="#111" >50</text>
<line x1="174.90" y1="690.60" x2="176.90" y2="690.60" stroke="#111" stroke-width="0.7" />
<text x="172.60" y="692.26" font-size="4.6" text-anchor="end" fill="#111" >25</text>
<line x1="174.90" y1="702.10" x2="176.90" y2="702.10" stroke="#111" stroke-width="0.7" />
<text x="172.60" y="703.76" font-size="4.6" text-anchor="end" fill="#111" >0</text>
<line x1="181.20" y1="703.20" x2="181.20" y2="705.20" stroke="#111" stroke-width="0.7" />
<text x="181.20" y="713.26" font-size="4.6" text-anchor="middle" fill="#111" >0</text>
<line x1="198.60" y1="703.20" x2="198.60" y2="705.20" stroke="#111" stroke-width="0.7" />
<text x="198.60" y="713.26" font-size="4.6" text-anchor="middle" fill="#111" >500</text>
<line x1="216.40" y1="703.20" x2="216.40" y2="705.20" stroke="#111" stroke-width="0.7" />
<text x="216.40" y="713.26" font-size="4.6" text-anchor="middle" fill="#111" >1000</text>
<line x1="233.70" y1="703.20" x2="233.70" y2="705.20" stroke="#111" stroke-width="0.7" />
<text x="233.70" y="713.26" font-size="4.6" text-anchor="middle" fill="#111" >1500</text>
<line x1="250.50" y1="703.20" x2="250.50" y2="705.20" stroke="#111" stroke-width="0.7" />
<text x="250.50" y="713.26" font-size="4.6" text-anchor="middle" fill="#111" >2000</text>
<path d="M183.30,668.00 C183.82,668.67 185.35,670.75 186.40,672.00 C187.45,673.25 188.00,673.33 189.60,675.50 C191.20,677.67 193.88,682.18 196.00,685.00 C198.12,687.82 200.18,690.47 202.30,692.40 C204.42,694.33 206.75,695.78 208.70,696.60 C210.65,697.42 211.88,697.82 214.00,697.30 C216.12,696.78 218.77,694.77 221.40,693.50 C224.03,692.23 226.98,690.58 229.80,689.70 C232.62,688.82 235.48,688.57 238.30,688.20 C241.12,687.83 244.23,687.40 246.70,687.50 C249.17,687.60 250.80,687.88 253.10,688.80 C255.40,689.72 259.27,692.30 260.50,693.00" stroke="#b8283c" fill="none" stroke-width="1.25" stroke-dasharray="3.4,1.9"/>
<circle cx="186.40" cy="648.00" r="0.9" fill="#111" stroke="none" stroke-width="0"/>
<circle cx="186.40" cy="652.80" r="0.9" fill="#111" stroke="none" stroke-width="0"/>
<circle cx="184.30" cy="656.40" r="0.9" fill="#111" stroke="none" stroke-width="0"/>
<circle cx="184.30" cy="663.80" r="0.9" fill="#111" stroke="none" stroke-width="0"/>
<circle cx="184.30" cy="667.00" r="0.9" fill="#111" stroke="none" stroke-width="0"/>
<circle cx="183.30" cy="674.00" r="0.9" fill="#111" stroke="none" stroke-width="0"/>
<circle cx="183.30" cy="684.60" r="0.9" fill="#111" stroke="none" stroke-width="0"/>
<circle cx="187.50" cy="697.30" r="0.9" fill="#111" stroke="none" stroke-width="0"/>
<circle cx="204.00" cy="702.60" r="0.9" fill="#111" stroke="none" stroke-width="0"/>
<circle cx="211.80" cy="690.80" r="0.9" fill="#111" stroke="none" stroke-width="0"/>
<circle cx="220.30" cy="696.60" r="0.9" fill="#111" stroke="none" stroke-width="0"/>
<circle cx="238.30" cy="679.70" r="0.9" fill="#111" stroke="none" stroke-width="0"/>
<circle cx="248.90" cy="688.20" r="0.9" fill="#111" stroke="none" stroke-width="0"/>
<circle cx="253.10" cy="693.50" r="0.9" fill="#111" stroke="none" stroke-width="0"/>
<circle cx="260.50" cy="693.00" r="0.9" fill="#111" stroke="none" stroke-width="0"/>
<text x="214.40" y="645.30" font-size="6.4" text-anchor="start" fill="#c0244e" textLength="35.2" lengthAdjust="spacingAndGlyphs" >rho = −0.55,</text>
<text x="214.00" y="653.30" font-size="6.4" text-anchor="start" fill="#c0244e" textLength="42.8" lengthAdjust="spacingAndGlyphs" ><tspan font-style="italic">P</tspan> value = .013</text>
<text x="292.50" y="642.30" font-size="5.0" text-anchor="start" fill="#333" textLength="12.5" lengthAdjust="spacingAndGlyphs" >n = 10</text>
<line x1="293.75" y1="645.00" x2="293.75" y2="703.75" stroke="#111" stroke-width="1.0" />
<line x1="293.75" y1="703.75" x2="386.25" y2="703.75" stroke="#111" stroke-width="1.0" />
<line x1="291.75" y1="648.25" x2="293.75" y2="648.25" stroke="#111" stroke-width="0.7" />
<text x="289.45" y="649.91" font-size="4.6" text-anchor="end" fill="#111" >125</text>
<line x1="291.75" y1="659.25" x2="293.75" y2="659.25" stroke="#111" stroke-width="0.7" />
<text x="289.45" y="660.91" font-size="4.6" text-anchor="end" fill="#111" >100</text>
<line x1="291.75" y1="670.00" x2="293.75" y2="670.00" stroke="#111" stroke-width="0.7" />
<text x="289.45" y="671.66" font-size="4.6" text-anchor="end" fill="#111" >75</text>
<line x1="291.75" y1="680.75" x2="293.75" y2="680.75" stroke="#111" stroke-width="0.7" />
<text x="289.45" y="682.41" font-size="4.6" text-anchor="end" fill="#111" >50</text>
<line x1="291.75" y1="691.75" x2="293.75" y2="691.75" stroke="#111" stroke-width="0.7" />
<text x="289.45" y="693.41" font-size="4.6" text-anchor="end" fill="#111" >25</text>
<line x1="291.75" y1="702.50" x2="293.75" y2="702.50" stroke="#111" stroke-width="0.7" />
<text x="289.45" y="704.16" font-size="4.6" text-anchor="end" fill="#111" >0</text>
<line x1="296.25" y1="703.75" x2="296.25" y2="705.75" stroke="#111" stroke-width="0.7" />
<text x="296.25" y="714.16" font-size="4.6" text-anchor="middle" fill="#111" >0</text>
<line x1="313.75" y1="703.75" x2="313.75" y2="705.75" stroke="#111" stroke-width="0.7" />
<text x="313.75" y="714.16" font-size="4.6" text-anchor="middle" fill="#111" >100</text>
<line x1="330.00" y1="703.75" x2="330.00" y2="705.75" stroke="#111" stroke-width="0.7" />
<text x="330.00" y="714.16" font-size="4.6" text-anchor="middle" fill="#111" >200</text>
<line x1="346.75" y1="703.75" x2="346.75" y2="705.75" stroke="#111" stroke-width="0.7" />
<text x="346.75" y="714.16" font-size="4.6" text-anchor="middle" fill="#111" >300</text>
<line x1="363.75" y1="703.75" x2="363.75" y2="705.75" stroke="#111" stroke-width="0.7" />
<text x="363.75" y="714.16" font-size="4.6" text-anchor="middle" fill="#111" >400</text>
<path d="M298.00,667.50 C298.54,668.54 299.88,671.67 301.25,673.75 C302.62,675.83 304.38,677.92 306.25,680.00 C308.12,682.08 310.21,684.17 312.50,686.25 C314.79,688.33 317.08,690.96 320.00,692.50 C322.92,694.04 327.08,695.17 330.00,695.50 C332.92,695.83 335.00,695.21 337.50,694.50 C340.00,693.79 342.50,692.08 345.00,691.25 C347.50,690.42 349.58,690.00 352.50,689.50 C355.42,689.00 359.17,688.25 362.50,688.25 C365.83,688.25 369.17,689.00 372.50,689.50 C375.83,690.00 380.83,690.96 382.50,691.25" stroke="#b8283c" fill="none" stroke-width="1.25" stroke-dasharray="3.4,1.9"/>
<circle cx="300.00" cy="649.50" r="0.9" fill="#111" stroke="none" stroke-width="0"/>
<circle cx="302.00" cy="655.00" r="0.9" fill="#111" stroke="none" stroke-width="0"/>
<circle cx="298.00" cy="657.50" r="0.9" fill="#111" stroke="none" stroke-width="0"/>
<circle cx="297.50" cy="667.00" r="0.9" fill="#111" stroke="none" stroke-width="0"/>
<circle cx="298.50" cy="668.00" r="0.9" fill="#111" stroke="none" stroke-width="0"/>
<circle cx="300.00" cy="665.75" r="0.9" fill="#111" stroke="none" stroke-width="0"/>
<circle cx="297.00" cy="674.50" r="0.9" fill="#111" stroke="none" stroke-width="0"/>
<circle cx="297.00" cy="684.50" r="0.9" fill="#111" stroke="none" stroke-width="0"/>
<circle cx="300.00" cy="696.25" r="0.9" fill="#111" stroke="none" stroke-width="0"/>
<circle cx="312.50" cy="701.25" r="0.9" fill="#111" stroke="none" stroke-width="0"/>
<circle cx="336.25" cy="690.50" r="0.9" fill="#111" stroke="none" stroke-width="0"/>
<circle cx="346.25" cy="696.25" r="0.9" fill="#111" stroke="none" stroke-width="0"/>
<circle cx="355.00" cy="693.75" r="0.9" fill="#111" stroke="none" stroke-width="0"/>
<circle cx="355.75" cy="680.00" r="0.9" fill="#111" stroke="none" stroke-width="0"/>
<circle cx="357.00" cy="688.25" r="0.9" fill="#111" stroke="none" stroke-width="0"/>
<circle cx="366.25" cy="688.25" r="0.9" fill="#111" stroke="none" stroke-width="0"/>
<text x="338.00" y="641.05" font-size="6.4" text-anchor="start" fill="#c0244e" textLength="34.5" lengthAdjust="spacingAndGlyphs" >rho = −0.52,</text>
<text x="338.00" y="649.30" font-size="6.4" text-anchor="start" fill="#c0244e" textLength="42" lengthAdjust="spacingAndGlyphs" ><tspan font-style="italic">P</tspan> value = .019</text>
<text x="410.00" y="640.55" font-size="5.0" text-anchor="start" fill="#333" textLength="12.5" lengthAdjust="spacingAndGlyphs" >n = 10</text>
<line x1="410.00" y1="643.75" x2="410.00" y2="703.75" stroke="#111" stroke-width="1.0" />
<line x1="410.00" y1="703.75" x2="500.00" y2="703.75" stroke="#111" stroke-width="1.0" />
<line x1="408.00" y1="658.00" x2="410.00" y2="658.00" stroke="#111" stroke-width="0.7" />
<text x="405.70" y="659.66" font-size="4.6" text-anchor="end" fill="#111" >300</text>
<line x1="408.00" y1="672.50" x2="410.00" y2="672.50" stroke="#111" stroke-width="0.7" />
<text x="405.70" y="674.16" font-size="4.6" text-anchor="end" fill="#111" >200</text>
<line x1="408.00" y1="687.00" x2="410.00" y2="687.00" stroke="#111" stroke-width="0.7" />
<text x="405.70" y="688.66" font-size="4.6" text-anchor="end" fill="#111" >100</text>
<line x1="408.00" y1="701.25" x2="410.00" y2="701.25" stroke="#111" stroke-width="0.7" />
<text x="405.70" y="702.91" font-size="4.6" text-anchor="end" fill="#111" >0</text>
<line x1="413.25" y1="703.75" x2="413.25" y2="705.75" stroke="#111" stroke-width="0.7" />
<text x="413.25" y="713.66" font-size="4.6" text-anchor="middle" fill="#111" >0</text>
<line x1="437.00" y1="703.75" x2="437.00" y2="705.75" stroke="#111" stroke-width="0.7" />
<text x="437.00" y="713.66" font-size="4.6" text-anchor="middle" fill="#111" >100</text>
<line x1="460.75" y1="703.75" x2="460.75" y2="705.75" stroke="#111" stroke-width="0.7" />
<text x="460.75" y="713.66" font-size="4.6" text-anchor="middle" fill="#111" >200</text>
<line x1="483.75" y1="703.75" x2="483.75" y2="705.75" stroke="#111" stroke-width="0.7" />
<text x="483.75" y="713.66" font-size="4.6" text-anchor="middle" fill="#111" >300</text>
<path d="M415.00,678.75 C415.21,678.96 415.62,679.58 416.25,680.00 C416.88,680.42 417.92,680.62 418.75,681.25 C419.58,681.88 420.00,682.38 421.25,683.75 C422.50,685.12 424.17,687.83 426.25,689.50 C428.33,691.17 431.04,692.92 433.75,693.75 C436.46,694.58 439.79,694.71 442.50,694.50 C445.21,694.29 447.92,693.04 450.00,692.50 C452.08,691.96 452.50,691.33 455.00,691.25 C457.50,691.17 461.25,691.71 465.00,692.00 C468.75,692.29 473.33,692.71 477.50,693.00 C481.67,693.29 486.04,693.50 490.00,693.75 C493.96,694.00 499.38,694.38 501.25,694.50" stroke="#2f6a9e" fill="none" stroke-width="1.25" stroke-dasharray="3.4,1.9"/>
<circle cx="415.00" cy="646.75" r="0.9" fill="#111" stroke="none" stroke-width="0"/>
<circle cx="414.50" cy="670.00" r="0.9" fill="#111" stroke="none" stroke-width="0"/>
<circle cx="418.00" cy="670.00" r="0.9" fill="#111" stroke="none" stroke-width="0"/>
<circle cx="418.75" cy="668.75" r="0.9" fill="#111" stroke="none" stroke-width="0"/>
<circle cx="415.75" cy="677.50" r="0.9" fill="#111" stroke="none" stroke-width="0"/>
<circle cx="417.00" cy="678.00" r="0.9" fill="#111" stroke="none" stroke-width="0"/>
<circle cx="415.00" cy="683.00" r="0.9" fill="#111" stroke="none" stroke-width="0"/>
<circle cx="413.75" cy="689.25" r="0.9" fill="#111" stroke="none" stroke-width="0"/>
<circle cx="414.25" cy="698.75" r="0.9" fill="#111" stroke="none" stroke-width="0"/>
<circle cx="422.00" cy="698.75" r="0.9" fill="#111" stroke="none" stroke-width="0"/>
<circle cx="432.50" cy="701.25" r="0.9" fill="#111" stroke="none" stroke-width="0"/>
<circle cx="446.25" cy="689.50" r="0.9" fill="#111" stroke="none" stroke-width="0"/>
<circle cx="448.00" cy="694.50" r="0.9" fill="#111" stroke="none" stroke-width="0"/>
<circle cx="453.75" cy="691.25" r="0.9" fill="#111" stroke="none" stroke-width="0"/>
<circle cx="455.50" cy="690.75" r="0.9" fill="#111" stroke="none" stroke-width="0"/>
<circle cx="461.25" cy="692.00" r="0.9" fill="#111" stroke="none" stroke-width="0"/>
<circle cx="477.50" cy="692.50" r="0.9" fill="#111" stroke="none" stroke-width="0"/>
<circle cx="483.75" cy="693.25" r="0.9" fill="#111" stroke="none" stroke-width="0"/>
<circle cx="501.25" cy="694.50" r="0.9" fill="#111" stroke="none" stroke-width="0"/>
<text x="451.25" y="649.80" font-size="6.4" text-anchor="start" fill="#222" textLength="33.75" lengthAdjust="spacingAndGlyphs" >rho = −0.44,</text>
<text x="451.25" y="657.30" font-size="6.4" text-anchor="start" fill="#222" textLength="42.5" lengthAdjust="spacingAndGlyphs" ><tspan font-style="italic">P</tspan> value = .054</text>
<text x="220.20" y="726.76" font-size="8.5" text-anchor="middle" fill="#111" font-weight="bold" textLength="45.6" lengthAdjust="spacingAndGlyphs" >hsa-miR-182-5p</text>
<text x="340.00" y="727.56" font-size="8.5" text-anchor="middle" fill="#111" font-weight="bold" textLength="45.6" lengthAdjust="spacingAndGlyphs" >hsa-miR-183-5p</text>
<text x="455.00" y="727.56" font-size="8.5" text-anchor="middle" fill="#111" font-weight="bold" textLength="42.5" lengthAdjust="spacingAndGlyphs" >hsa-miR-96-5p</text>
</svg></body></html>
